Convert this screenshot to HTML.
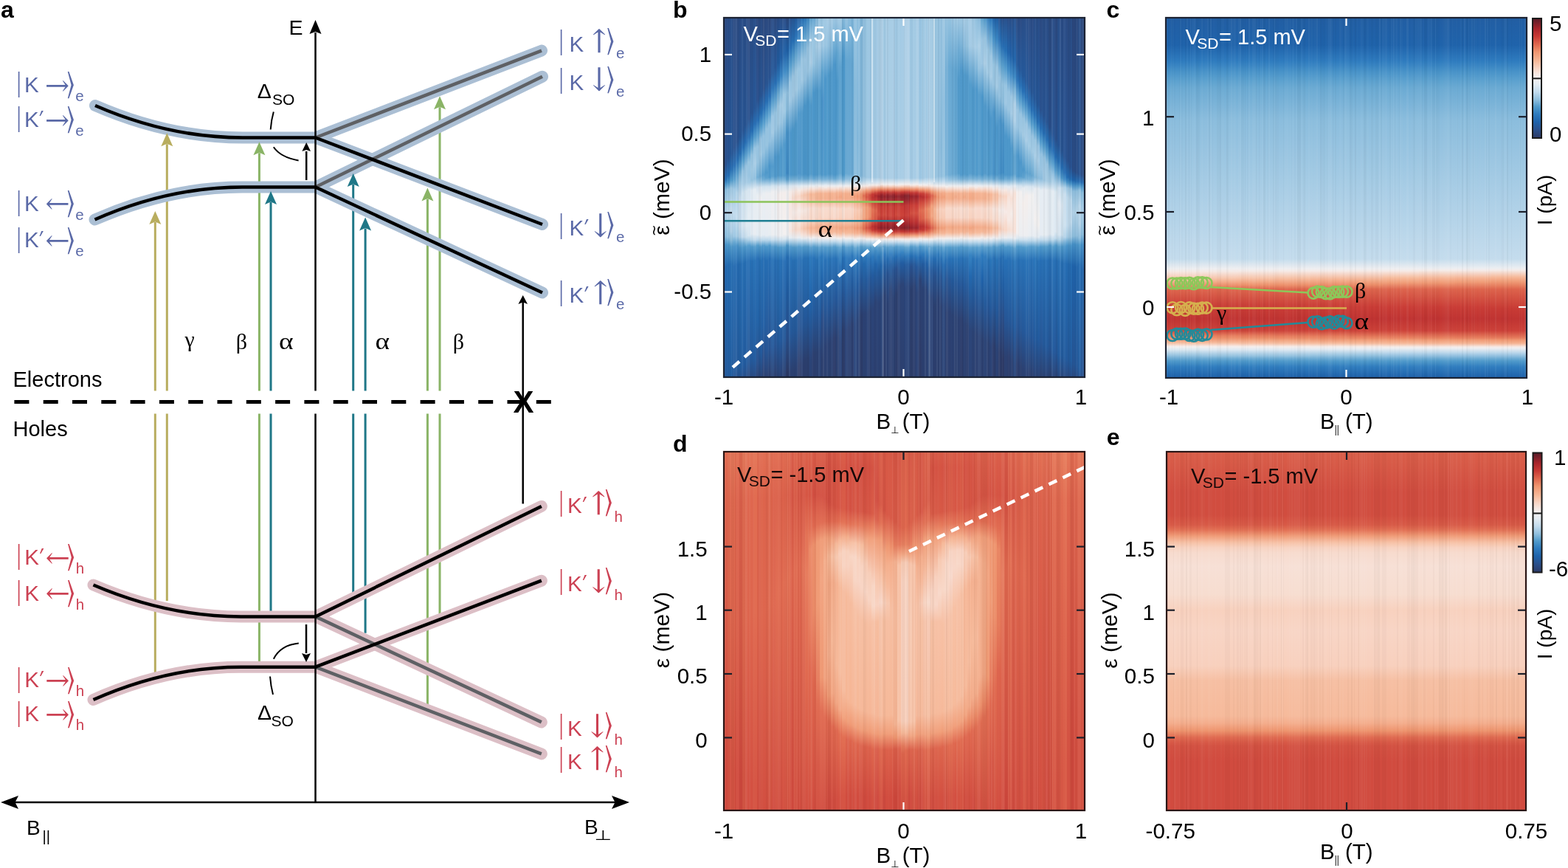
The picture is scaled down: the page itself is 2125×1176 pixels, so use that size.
<!DOCTYPE html><html><head><meta charset="utf-8"><title>Figure</title><style>html,body{margin:0;padding:0;background:#fff;overflow:hidden}svg{display:block}</style></head><body><svg width="2125" height="1176" viewBox="0 0 2125 1176"><defs><linearGradient id="b0" x1="0" y1="0" x2="0" y2="1"><stop offset="0.000" stop-color="#2b4a82"/><stop offset="0.407" stop-color="#2a508c"/><stop offset="0.450" stop-color="#266eb4"/><stop offset="0.466" stop-color="#529bcc"/><stop offset="0.480" stop-color="#8cbddd"/><stop offset="0.542" stop-color="#b2d2e8"/><stop offset="0.608" stop-color="#8abcdd"/><stop offset="0.632" stop-color="#4691c7"/><stop offset="0.694" stop-color="#2267af"/><stop offset="0.998" stop-color="#245a9c"/><stop offset="1.000" stop-color="#25599b"/></linearGradient><linearGradient id="b1" x1="0" y1="0" x2="0" y2="1"><stop offset="0.000" stop-color="#2a4d87"/><stop offset="0.392" stop-color="#285391"/><stop offset="0.439" stop-color="#276fb5"/><stop offset="0.458" stop-color="#4893c8"/><stop offset="0.478" stop-color="#95c2e0"/><stop offset="0.542" stop-color="#bcd8eb"/><stop offset="0.610" stop-color="#92c1df"/><stop offset="0.632" stop-color="#4b96c9"/><stop offset="0.688" stop-color="#256cb2"/><stop offset="0.994" stop-color="#235ca0"/><stop offset="1.000" stop-color="#245b9e"/></linearGradient><linearGradient id="b2" x1="0" y1="0" x2="0" y2="1"><stop offset="0.000" stop-color="#2a518d"/><stop offset="0.378" stop-color="#265797"/><stop offset="0.421" stop-color="#266eb4"/><stop offset="0.452" stop-color="#4f9acb"/><stop offset="0.474" stop-color="#9ec7e2"/><stop offset="0.532" stop-color="#c5ddee"/><stop offset="0.595" stop-color="#b0d1e8"/><stop offset="0.618" stop-color="#8abcdc"/><stop offset="0.637" stop-color="#4e98ca"/><stop offset="0.686" stop-color="#2871b6"/><stop offset="0.994" stop-color="#225ea3"/><stop offset="1.000" stop-color="#235ca0"/></linearGradient><linearGradient id="b3" x1="0" y1="0" x2="0" y2="1"><stop offset="0.000" stop-color="#2b4b84"/><stop offset="0.361" stop-color="#29528f"/><stop offset="0.411" stop-color="#266db3"/><stop offset="0.450" stop-color="#589fcd"/><stop offset="0.478" stop-color="#a0c8e3"/><stop offset="0.546" stop-color="#c1daed"/><stop offset="0.608" stop-color="#9cc6e2"/><stop offset="0.624" stop-color="#64a6d1"/><stop offset="0.637" stop-color="#4691c7"/><stop offset="0.692" stop-color="#236ab0"/><stop offset="0.982" stop-color="#245b9e"/><stop offset="1.000" stop-color="#275696"/></linearGradient><linearGradient id="b4" x1="0" y1="0" x2="0" y2="1"><stop offset="0.000" stop-color="#2b4b84"/><stop offset="0.345" stop-color="#29518e"/><stop offset="0.396" stop-color="#266eb4"/><stop offset="0.435" stop-color="#5aa0ce"/><stop offset="0.487" stop-color="#b2d2e8"/><stop offset="0.554" stop-color="#c5ddee"/><stop offset="0.608" stop-color="#a4cbe4"/><stop offset="0.622" stop-color="#73afd6"/><stop offset="0.634" stop-color="#4993c8"/><stop offset="0.688" stop-color="#236ab1"/><stop offset="0.975" stop-color="#245b9d"/><stop offset="1.000" stop-color="#285492"/></linearGradient><linearGradient id="b5" x1="0" y1="0" x2="0" y2="1"><stop offset="0.000" stop-color="#2a4e89"/><stop offset="0.331" stop-color="#275594"/><stop offset="0.378" stop-color="#276fb5"/><stop offset="0.413" stop-color="#579ecd"/><stop offset="0.441" stop-color="#8cbddd"/><stop offset="0.470" stop-color="#b0d1e8"/><stop offset="0.501" stop-color="#cbdfef"/><stop offset="0.583" stop-color="#cbdfef"/><stop offset="0.610" stop-color="#b4d3e9"/><stop offset="0.626" stop-color="#72aed5"/><stop offset="0.639" stop-color="#4b95c9"/><stop offset="0.686" stop-color="#266eb4"/><stop offset="0.971" stop-color="#225da1"/><stop offset="1.000" stop-color="#275594"/></linearGradient><linearGradient id="b6" x1="0" y1="0" x2="0" y2="1"><stop offset="0.000" stop-color="#2a4e88"/><stop offset="0.314" stop-color="#275493"/><stop offset="0.361" stop-color="#266eb4"/><stop offset="0.396" stop-color="#549ccc"/><stop offset="0.427" stop-color="#93c1df"/><stop offset="0.462" stop-color="#a9cde6"/><stop offset="0.487" stop-color="#cfe2ef"/><stop offset="0.579" stop-color="#d5e5f0"/><stop offset="0.610" stop-color="#c1daed"/><stop offset="0.628" stop-color="#6eabd4"/><stop offset="0.639" stop-color="#4c96c9"/><stop offset="0.684" stop-color="#266fb4"/><stop offset="0.965" stop-color="#235da1"/><stop offset="1.000" stop-color="#295290"/></linearGradient><linearGradient id="b7" x1="0" y1="0" x2="0" y2="1"><stop offset="0.000" stop-color="#2a4d87"/><stop offset="0.298" stop-color="#285492"/><stop offset="0.347" stop-color="#276fb5"/><stop offset="0.382" stop-color="#569dcd"/><stop offset="0.413" stop-color="#95c2e0"/><stop offset="0.458" stop-color="#a6cce5"/><stop offset="0.483" stop-color="#d5e5f0"/><stop offset="0.579" stop-color="#dee9f2"/><stop offset="0.610" stop-color="#c9dfee"/><stop offset="0.624" stop-color="#8dbedd"/><stop offset="0.637" stop-color="#4f99cb"/><stop offset="0.680" stop-color="#276fb5"/><stop offset="0.959" stop-color="#235ca0"/><stop offset="1.000" stop-color="#2a508c"/></linearGradient><linearGradient id="b8" x1="0" y1="0" x2="0" y2="1"><stop offset="0.000" stop-color="#2b4a82"/><stop offset="0.281" stop-color="#29518e"/><stop offset="0.333" stop-color="#266db3"/><stop offset="0.370" stop-color="#559dcd"/><stop offset="0.402" stop-color="#94c2df"/><stop offset="0.441" stop-color="#95c2e0"/><stop offset="0.458" stop-color="#a1c9e3"/><stop offset="0.478" stop-color="#d5e4f0"/><stop offset="0.550" stop-color="#e4ecf3"/><stop offset="0.606" stop-color="#d4e4f0"/><stop offset="0.618" stop-color="#aed0e7"/><stop offset="0.634" stop-color="#4f99cb"/><stop offset="0.676" stop-color="#266eb4"/><stop offset="0.957" stop-color="#255899"/><stop offset="1.000" stop-color="#2b4b83"/></linearGradient><linearGradient id="b9" x1="0" y1="0" x2="0" y2="1"><stop offset="0.000" stop-color="#2a4d86"/><stop offset="0.265" stop-color="#285492"/><stop offset="0.314" stop-color="#266eb4"/><stop offset="0.349" stop-color="#519bcb"/><stop offset="0.382" stop-color="#96c3e0"/><stop offset="0.421" stop-color="#a2cae4"/><stop offset="0.452" stop-color="#99c5e1"/><stop offset="0.480" stop-color="#e2ebf3"/><stop offset="0.602" stop-color="#e4ecf3"/><stop offset="0.618" stop-color="#bcd8eb"/><stop offset="0.637" stop-color="#529bcc"/><stop offset="0.678" stop-color="#2770b5"/><stop offset="0.949" stop-color="#245b9e"/><stop offset="1.000" stop-color="#2b4c84"/></linearGradient><linearGradient id="b10" x1="0" y1="0" x2="0" y2="1"><stop offset="0.000" stop-color="#2a4f8a"/><stop offset="0.251" stop-color="#265696"/><stop offset="0.296" stop-color="#276fb5"/><stop offset="0.331" stop-color="#529bcb"/><stop offset="0.363" stop-color="#98c4e1"/><stop offset="0.405" stop-color="#aacee6"/><stop offset="0.448" stop-color="#93c1df"/><stop offset="0.478" stop-color="#e6edf3"/><stop offset="0.602" stop-color="#e9edf2"/><stop offset="0.618" stop-color="#c5dced"/><stop offset="0.637" stop-color="#5ba0ce"/><stop offset="0.676" stop-color="#2a74b8"/><stop offset="0.947" stop-color="#235ca0"/><stop offset="1.000" stop-color="#2b4c85"/></linearGradient><linearGradient id="b11" x1="0" y1="0" x2="0" y2="1"><stop offset="0.000" stop-color="#2b4980"/><stop offset="0.230" stop-color="#2a508d"/><stop offset="0.285" stop-color="#266eb4"/><stop offset="0.324" stop-color="#599fce"/><stop offset="0.359" stop-color="#95c2e0"/><stop offset="0.402" stop-color="#96c3e0"/><stop offset="0.444" stop-color="#71aed5"/><stop offset="0.458" stop-color="#9bc5e1"/><stop offset="0.472" stop-color="#d5e4f0"/><stop offset="0.495" stop-color="#eaeef2"/><stop offset="0.604" stop-color="#e4ecf3"/><stop offset="0.618" stop-color="#bbd7eb"/><stop offset="0.634" stop-color="#519bcb"/><stop offset="0.671" stop-color="#276fb5"/><stop offset="0.842" stop-color="#2061a7"/><stop offset="0.957" stop-color="#29528f"/><stop offset="1.000" stop-color="#2c4578"/></linearGradient><linearGradient id="b12" x1="0" y1="0" x2="0" y2="1"><stop offset="0.000" stop-color="#2b4c84"/><stop offset="0.216" stop-color="#285492"/><stop offset="0.265" stop-color="#266eb4"/><stop offset="0.302" stop-color="#519bcb"/><stop offset="0.337" stop-color="#95c2e0"/><stop offset="0.380" stop-color="#a0c9e3"/><stop offset="0.441" stop-color="#6caad3"/><stop offset="0.454" stop-color="#8dbedd"/><stop offset="0.472" stop-color="#dbe7f1"/><stop offset="0.501" stop-color="#efeff1"/><stop offset="0.606" stop-color="#e6edf3"/><stop offset="0.620" stop-color="#b8d5ea"/><stop offset="0.637" stop-color="#529bcc"/><stop offset="0.676" stop-color="#2770b5"/><stop offset="0.932" stop-color="#245a9c"/><stop offset="1.000" stop-color="#2b467a"/></linearGradient><linearGradient id="b13" x1="0" y1="0" x2="0" y2="1"><stop offset="0.000" stop-color="#2b487d"/><stop offset="0.197" stop-color="#2a508c"/><stop offset="0.253" stop-color="#266db3"/><stop offset="0.292" stop-color="#539ccc"/><stop offset="0.329" stop-color="#91c0df"/><stop offset="0.374" stop-color="#91c0df"/><stop offset="0.437" stop-color="#509acb"/><stop offset="0.450" stop-color="#68a8d2"/><stop offset="0.470" stop-color="#cfe2ef"/><stop offset="0.489" stop-color="#eaeef2"/><stop offset="0.604" stop-color="#e5ecf3"/><stop offset="0.618" stop-color="#bcd8eb"/><stop offset="0.634" stop-color="#4f99cb"/><stop offset="0.671" stop-color="#266eb3"/><stop offset="0.854" stop-color="#225fa4"/><stop offset="0.957" stop-color="#2b4c86"/><stop offset="1.000" stop-color="#2c4171"/></linearGradient><linearGradient id="b14" x1="0" y1="0" x2="0" y2="1"><stop offset="0.000" stop-color="#2b4980"/><stop offset="0.183" stop-color="#285390"/><stop offset="0.234" stop-color="#266eb4"/><stop offset="0.273" stop-color="#549ccc"/><stop offset="0.310" stop-color="#94c2df"/><stop offset="0.355" stop-color="#97c4e0"/><stop offset="0.431" stop-color="#4e98ca"/><stop offset="0.446" stop-color="#5ba0ce"/><stop offset="0.470" stop-color="#d3e4f0"/><stop offset="0.489" stop-color="#edeef1"/><stop offset="0.606" stop-color="#e6ecf3"/><stop offset="0.620" stop-color="#b5d4e9"/><stop offset="0.637" stop-color="#4d98ca"/><stop offset="0.676" stop-color="#256db3"/><stop offset="0.924" stop-color="#265696"/><stop offset="1.000" stop-color="#2c4173"/></linearGradient><linearGradient id="b15" x1="0" y1="0" x2="0" y2="1"><stop offset="0.000" stop-color="#2b487e"/><stop offset="0.166" stop-color="#29528f"/><stop offset="0.218" stop-color="#266db3"/><stop offset="0.259" stop-color="#549ccc"/><stop offset="0.298" stop-color="#92c1df"/><stop offset="0.343" stop-color="#92c0df"/><stop offset="0.413" stop-color="#4a95c9"/><stop offset="0.444" stop-color="#4e98ca"/><stop offset="0.456" stop-color="#86b9db"/><stop offset="0.470" stop-color="#d2e3f0"/><stop offset="0.489" stop-color="#eceef1"/><stop offset="0.604" stop-color="#e7edf2"/><stop offset="0.618" stop-color="#bfd9ec"/><stop offset="0.634" stop-color="#509acb"/><stop offset="0.671" stop-color="#266eb4"/><stop offset="0.920" stop-color="#275493"/><stop offset="1.000" stop-color="#2c3f6f"/></linearGradient><linearGradient id="b16" x1="0" y1="0" x2="0" y2="1"><stop offset="0.000" stop-color="#2a4c86"/><stop offset="0.154" stop-color="#255899"/><stop offset="0.197" stop-color="#2871b6"/><stop offset="0.238" stop-color="#5aa0ce"/><stop offset="0.275" stop-color="#99c4e1"/><stop offset="0.320" stop-color="#a1c9e3"/><stop offset="0.413" stop-color="#4d97ca"/><stop offset="0.441" stop-color="#559dcc"/><stop offset="0.454" stop-color="#87badc"/><stop offset="0.468" stop-color="#d3e4f0"/><stop offset="0.485" stop-color="#efeff1"/><stop offset="0.604" stop-color="#eceef1"/><stop offset="0.618" stop-color="#c8deee"/><stop offset="0.637" stop-color="#569dcd"/><stop offset="0.674" stop-color="#2972b7"/><stop offset="0.912" stop-color="#25599b"/><stop offset="1.000" stop-color="#2c4375"/></linearGradient><linearGradient id="b17" x1="0" y1="0" x2="0" y2="1"><stop offset="0.000" stop-color="#2b4a81"/><stop offset="0.138" stop-color="#265697"/><stop offset="0.183" stop-color="#2770b6"/><stop offset="0.226" stop-color="#5ba0ce"/><stop offset="0.265" stop-color="#96c3e0"/><stop offset="0.310" stop-color="#97c3e0"/><stop offset="0.388" stop-color="#4b95c9"/><stop offset="0.441" stop-color="#4d97ca"/><stop offset="0.452" stop-color="#71add5"/><stop offset="0.468" stop-color="#cfe2ef"/><stop offset="0.483" stop-color="#eceef1"/><stop offset="0.604" stop-color="#eaeef2"/><stop offset="0.618" stop-color="#c4dced"/><stop offset="0.637" stop-color="#4e98ca"/><stop offset="0.676" stop-color="#256db3"/><stop offset="0.908" stop-color="#275696"/><stop offset="1.000" stop-color="#2c3f6f"/></linearGradient><linearGradient id="b18" x1="0" y1="0" x2="0" y2="1"><stop offset="0.000" stop-color="#2a4e89"/><stop offset="0.125" stop-color="#225da1"/><stop offset="0.172" stop-color="#307dbf"/><stop offset="0.211" stop-color="#6eacd4"/><stop offset="0.246" stop-color="#9fc8e3"/><stop offset="0.294" stop-color="#a2cae4"/><stop offset="0.386" stop-color="#4f99cb"/><stop offset="0.439" stop-color="#549ccc"/><stop offset="0.452" stop-color="#80b6d9"/><stop offset="0.470" stop-color="#dfe9f2"/><stop offset="0.493" stop-color="#f4edec"/><stop offset="0.606" stop-color="#edeef1"/><stop offset="0.618" stop-color="#cce0ef"/><stop offset="0.639" stop-color="#539ccc"/><stop offset="0.676" stop-color="#2972b7"/><stop offset="0.899" stop-color="#245b9d"/><stop offset="1.000" stop-color="#2c4376"/></linearGradient><linearGradient id="b19" x1="0" y1="0" x2="0" y2="1"><stop offset="0.000" stop-color="#2a4f89"/><stop offset="0.111" stop-color="#225fa4"/><stop offset="0.162" stop-color="#3985c3"/><stop offset="0.201" stop-color="#7ab3d8"/><stop offset="0.242" stop-color="#a5cbe4"/><stop offset="0.292" stop-color="#98c4e1"/><stop offset="0.368" stop-color="#4f99cb"/><stop offset="0.439" stop-color="#529bcc"/><stop offset="0.452" stop-color="#7fb6d9"/><stop offset="0.468" stop-color="#d8e6f1"/><stop offset="0.487" stop-color="#f4eeed"/><stop offset="0.606" stop-color="#eeeff1"/><stop offset="0.618" stop-color="#cde0ef"/><stop offset="0.639" stop-color="#529bcc"/><stop offset="0.676" stop-color="#2972b7"/><stop offset="0.893" stop-color="#245a9d"/><stop offset="1.000" stop-color="#2c4275"/></linearGradient><linearGradient id="b20" x1="0" y1="0" x2="0" y2="1"><stop offset="0.000" stop-color="#2a4e89"/><stop offset="0.101" stop-color="#2062a9"/><stop offset="0.150" stop-color="#3e8ac5"/><stop offset="0.214" stop-color="#9bc6e1"/><stop offset="0.261" stop-color="#a0c9e3"/><stop offset="0.353" stop-color="#4d97ca"/><stop offset="0.439" stop-color="#509acb"/><stop offset="0.452" stop-color="#7db4d8"/><stop offset="0.468" stop-color="#d8e6f1"/><stop offset="0.487" stop-color="#f4edeb"/><stop offset="0.602" stop-color="#f3f0f0"/><stop offset="0.616" stop-color="#d5e5f0"/><stop offset="0.639" stop-color="#509acb"/><stop offset="0.678" stop-color="#276fb5"/><stop offset="0.889" stop-color="#25599a"/><stop offset="0.998" stop-color="#2c4172"/><stop offset="1.000" stop-color="#2c4172"/></linearGradient><linearGradient id="b21" x1="0" y1="0" x2="0" y2="1"><stop offset="0.000" stop-color="#2b4980"/><stop offset="0.092" stop-color="#2061a7"/><stop offset="0.144" stop-color="#418cc5"/><stop offset="0.209" stop-color="#91c0df"/><stop offset="0.255" stop-color="#89bcdc"/><stop offset="0.318" stop-color="#4893c8"/><stop offset="0.433" stop-color="#408bc5"/><stop offset="0.450" stop-color="#5ca1cf"/><stop offset="0.468" stop-color="#cfe1ef"/><stop offset="0.483" stop-color="#f0eff1"/><stop offset="0.604" stop-color="#edeef1"/><stop offset="0.616" stop-color="#cce0ef"/><stop offset="0.634" stop-color="#4e98ca"/><stop offset="0.667" stop-color="#276fb5"/><stop offset="0.762" stop-color="#225ea3"/><stop offset="0.889" stop-color="#29518e"/><stop offset="0.990" stop-color="#2d3b67"/><stop offset="1.000" stop-color="#2d3a66"/></linearGradient><linearGradient id="b22" x1="0" y1="0" x2="0" y2="1"><stop offset="0.000" stop-color="#29518e"/><stop offset="0.084" stop-color="#276fb4"/><stop offset="0.133" stop-color="#559dcc"/><stop offset="0.181" stop-color="#98c4e1"/><stop offset="0.230" stop-color="#9ec7e3"/><stop offset="0.320" stop-color="#4c96ca"/><stop offset="0.437" stop-color="#4c97ca"/><stop offset="0.450" stop-color="#6facd4"/><stop offset="0.468" stop-color="#dae7f1"/><stop offset="0.485" stop-color="#f5ebe8"/><stop offset="0.507" stop-color="#f6e7e1"/><stop offset="0.567" stop-color="#f6eae7"/><stop offset="0.593" stop-color="#f6e7e1"/><stop offset="0.612" stop-color="#e6edf3"/><stop offset="0.624" stop-color="#a7cce5"/><stop offset="0.637" stop-color="#559dcd"/><stop offset="0.671" stop-color="#2972b7"/><stop offset="0.875" stop-color="#25599a"/><stop offset="0.986" stop-color="#2c4071"/><stop offset="1.000" stop-color="#2c4070"/></linearGradient><linearGradient id="b23" x1="0" y1="0" x2="0" y2="1"><stop offset="0.000" stop-color="#275695"/><stop offset="0.064" stop-color="#2770b5"/><stop offset="0.115" stop-color="#599fce"/><stop offset="0.164" stop-color="#9bc5e1"/><stop offset="0.216" stop-color="#a2c9e4"/><stop offset="0.310" stop-color="#4d98ca"/><stop offset="0.437" stop-color="#4f99cb"/><stop offset="0.450" stop-color="#75b0d6"/><stop offset="0.468" stop-color="#dfe9f2"/><stop offset="0.483" stop-color="#f6e9e5"/><stop offset="0.501" stop-color="#f7ddd2"/><stop offset="0.542" stop-color="#f5ece9"/><stop offset="0.591" stop-color="#f7dfd4"/><stop offset="0.612" stop-color="#e9edf2"/><stop offset="0.624" stop-color="#accfe6"/><stop offset="0.639" stop-color="#529bcc"/><stop offset="0.676" stop-color="#2871b6"/><stop offset="0.873" stop-color="#25599a"/><stop offset="0.979" stop-color="#2c4273"/><stop offset="1.000" stop-color="#2c4172"/></linearGradient><linearGradient id="b24" x1="0" y1="0" x2="0" y2="1"><stop offset="0.000" stop-color="#245b9e"/><stop offset="0.051" stop-color="#2b75ba"/><stop offset="0.103" stop-color="#64a6d1"/><stop offset="0.150" stop-color="#9dc7e2"/><stop offset="0.201" stop-color="#a3cae4"/><stop offset="0.296" stop-color="#4e98ca"/><stop offset="0.437" stop-color="#509acb"/><stop offset="0.450" stop-color="#77b1d7"/><stop offset="0.468" stop-color="#e2ebf3"/><stop offset="0.483" stop-color="#f7e4dc"/><stop offset="0.499" stop-color="#f8d7c7"/><stop offset="0.542" stop-color="#f6eae6"/><stop offset="0.589" stop-color="#f8d7c8"/><stop offset="0.612" stop-color="#eceef1"/><stop offset="0.624" stop-color="#afd0e7"/><stop offset="0.639" stop-color="#549ccc"/><stop offset="0.674" stop-color="#2973b8"/><stop offset="0.869" stop-color="#25599a"/><stop offset="0.975" stop-color="#2c4274"/><stop offset="1.000" stop-color="#2c4172"/></linearGradient><linearGradient id="b25" x1="0" y1="0" x2="0" y2="1"><stop offset="0.000" stop-color="#225ea2"/><stop offset="0.057" stop-color="#3985c3"/><stop offset="0.142" stop-color="#95c3e0"/><stop offset="0.195" stop-color="#93c1df"/><stop offset="0.267" stop-color="#4a95c9"/><stop offset="0.433" stop-color="#4590c7"/><stop offset="0.448" stop-color="#5ea2cf"/><stop offset="0.468" stop-color="#dde9f2"/><stop offset="0.480" stop-color="#f6eae5"/><stop offset="0.497" stop-color="#f8d6c6"/><stop offset="0.536" stop-color="#f5ece9"/><stop offset="0.567" stop-color="#f7e3db"/><stop offset="0.589" stop-color="#f8d7c7"/><stop offset="0.612" stop-color="#e9edf2"/><stop offset="0.622" stop-color="#b5d4e9"/><stop offset="0.637" stop-color="#4f99cb"/><stop offset="0.671" stop-color="#276fb5"/><stop offset="0.867" stop-color="#285391"/><stop offset="0.967" stop-color="#2d3d6c"/><stop offset="1.000" stop-color="#2d3c6a"/></linearGradient><linearGradient id="b26" x1="0" y1="0" x2="0" y2="1"><stop offset="0.000" stop-color="#246cb2"/><stop offset="0.057" stop-color="#519acb"/><stop offset="0.115" stop-color="#97c3e0"/><stop offset="0.172" stop-color="#9fc8e3"/><stop offset="0.265" stop-color="#4c96c9"/><stop offset="0.437" stop-color="#4d97ca"/><stop offset="0.450" stop-color="#74afd6"/><stop offset="0.468" stop-color="#e4ecf3"/><stop offset="0.478" stop-color="#f6e7e1"/><stop offset="0.495" stop-color="#f7cbb5"/><stop offset="0.538" stop-color="#f6e8e3"/><stop offset="0.567" stop-color="#f7dccf"/><stop offset="0.587" stop-color="#f7cbb4"/><stop offset="0.604" stop-color="#f7e4dc"/><stop offset="0.614" stop-color="#e8edf2"/><stop offset="0.626" stop-color="#9fc8e3"/><stop offset="0.639" stop-color="#509acb"/><stop offset="0.674" stop-color="#2871b6"/><stop offset="0.856" stop-color="#265797"/><stop offset="0.963" stop-color="#2c4071"/><stop offset="1.000" stop-color="#2c3f6f"/></linearGradient><linearGradient id="b27" x1="0" y1="0" x2="0" y2="1"><stop offset="0.000" stop-color="#2c78bb"/><stop offset="0.062" stop-color="#6eacd4"/><stop offset="0.117" stop-color="#9cc6e2"/><stop offset="0.172" stop-color="#93c1df"/><stop offset="0.244" stop-color="#4b96c9"/><stop offset="0.435" stop-color="#4994c8"/><stop offset="0.448" stop-color="#65a6d1"/><stop offset="0.468" stop-color="#e5ecf3"/><stop offset="0.478" stop-color="#f6e5de"/><stop offset="0.493" stop-color="#f7c8b0"/><stop offset="0.509" stop-color="#f8d2bf"/><stop offset="0.536" stop-color="#f6e8e2"/><stop offset="0.565" stop-color="#f7dcd0"/><stop offset="0.587" stop-color="#f7c6ad"/><stop offset="0.604" stop-color="#f7e2d9"/><stop offset="0.614" stop-color="#e9edf2"/><stop offset="0.626" stop-color="#9dc7e2"/><stop offset="0.637" stop-color="#559dcc"/><stop offset="0.669" stop-color="#2972b7"/><stop offset="0.834" stop-color="#245a9c"/><stop offset="0.953" stop-color="#2c3f6f"/><stop offset="1.000" stop-color="#2c3e6d"/></linearGradient><linearGradient id="b28" x1="0" y1="0" x2="0" y2="1"><stop offset="0.000" stop-color="#3e89c4"/><stop offset="0.086" stop-color="#97c3e0"/><stop offset="0.148" stop-color="#9bc6e2"/><stop offset="0.234" stop-color="#4b96c9"/><stop offset="0.437" stop-color="#4c96c9"/><stop offset="0.448" stop-color="#67a8d2"/><stop offset="0.468" stop-color="#e6edf3"/><stop offset="0.476" stop-color="#f6e8e2"/><stop offset="0.491" stop-color="#f7c4aa"/><stop offset="0.505" stop-color="#f7c6ae"/><stop offset="0.532" stop-color="#f7e4dd"/><stop offset="0.561" stop-color="#f7ddd2"/><stop offset="0.585" stop-color="#f6bfa3"/><stop offset="0.600" stop-color="#f8d3c1"/><stop offset="0.612" stop-color="#f0eff1"/><stop offset="0.622" stop-color="#c1daed"/><stop offset="0.637" stop-color="#579ecd"/><stop offset="0.669" stop-color="#2973b8"/><stop offset="0.830" stop-color="#245a9c"/><stop offset="0.947" stop-color="#2c4070"/><stop offset="1.000" stop-color="#2c3e6d"/></linearGradient><linearGradient id="b29" x1="0" y1="0" x2="0" y2="1"><stop offset="0.000" stop-color="#61a4d0"/><stop offset="0.055" stop-color="#9cc6e2"/><stop offset="0.125" stop-color="#accfe6"/><stop offset="0.187" stop-color="#78b2d7"/><stop offset="0.244" stop-color="#509acb"/><stop offset="0.435" stop-color="#569ecd"/><stop offset="0.448" stop-color="#7ab2d8"/><stop offset="0.468" stop-color="#eceef1"/><stop offset="0.476" stop-color="#f7dfd4"/><stop offset="0.491" stop-color="#f6b797"/><stop offset="0.505" stop-color="#f6ba9b"/><stop offset="0.530" stop-color="#f7dbce"/><stop offset="0.559" stop-color="#f8d7c7"/><stop offset="0.585" stop-color="#f5b392"/><stop offset="0.598" stop-color="#f7c2a7"/><stop offset="0.614" stop-color="#f1eff0"/><stop offset="0.624" stop-color="#bed9ec"/><stop offset="0.639" stop-color="#60a3d0"/><stop offset="0.667" stop-color="#2f7bbe"/><stop offset="0.786" stop-color="#2165ad"/><stop offset="0.951" stop-color="#2c4478"/><stop offset="1.000" stop-color="#2c4376"/></linearGradient><linearGradient id="b30" x1="0" y1="0" x2="0" y2="1"><stop offset="0.000" stop-color="#6aa9d3"/><stop offset="0.064" stop-color="#9cc6e2"/><stop offset="0.127" stop-color="#97c4e0"/><stop offset="0.209" stop-color="#4b96c9"/><stop offset="0.437" stop-color="#4c96c9"/><stop offset="0.448" stop-color="#68a8d2"/><stop offset="0.468" stop-color="#e8edf2"/><stop offset="0.476" stop-color="#f7e3db"/><stop offset="0.491" stop-color="#f6bb9c"/><stop offset="0.505" stop-color="#f6bea1"/><stop offset="0.530" stop-color="#f7e0d7"/><stop offset="0.559" stop-color="#f7dccf"/><stop offset="0.585" stop-color="#f6b696"/><stop offset="0.598" stop-color="#f7c6ad"/><stop offset="0.612" stop-color="#f3f0f0"/><stop offset="0.622" stop-color="#c3dced"/><stop offset="0.637" stop-color="#589fcd"/><stop offset="0.669" stop-color="#2973b8"/><stop offset="0.817" stop-color="#245a9c"/><stop offset="0.934" stop-color="#2c4070"/><stop offset="1.000" stop-color="#2c3e6d"/></linearGradient><linearGradient id="b31" x1="0" y1="0" x2="0" y2="1"><stop offset="0.000" stop-color="#87badc"/><stop offset="0.080" stop-color="#a7cce5"/><stop offset="0.140" stop-color="#88bbdc"/><stop offset="0.203" stop-color="#4d97ca"/><stop offset="0.437" stop-color="#509acb"/><stop offset="0.450" stop-color="#7bb3d8"/><stop offset="0.466" stop-color="#e4ecf3"/><stop offset="0.474" stop-color="#f6e7e1"/><stop offset="0.489" stop-color="#f6b898"/><stop offset="0.503" stop-color="#f5b594"/><stop offset="0.530" stop-color="#f7ddd0"/><stop offset="0.556" stop-color="#f8dacc"/><stop offset="0.583" stop-color="#f4b18f"/><stop offset="0.595" stop-color="#f6bb9c"/><stop offset="0.612" stop-color="#f4eeed"/><stop offset="0.622" stop-color="#c8deee"/><stop offset="0.639" stop-color="#569ecd"/><stop offset="0.674" stop-color="#2973b7"/><stop offset="0.828" stop-color="#265899"/><stop offset="0.932" stop-color="#2c4273"/><stop offset="1.000" stop-color="#2c4071"/></linearGradient><linearGradient id="b32" x1="0" y1="0" x2="0" y2="1"><stop offset="0.000" stop-color="#9bc6e2"/><stop offset="0.080" stop-color="#abcee6"/><stop offset="0.144" stop-color="#7db4d9"/><stop offset="0.203" stop-color="#4f99cb"/><stop offset="0.435" stop-color="#559dcc"/><stop offset="0.448" stop-color="#79b2d7"/><stop offset="0.468" stop-color="#eeeff1"/><stop offset="0.476" stop-color="#f8dacd"/><stop offset="0.489" stop-color="#f5b291"/><stop offset="0.503" stop-color="#f4af8d"/><stop offset="0.532" stop-color="#f8d9cb"/><stop offset="0.559" stop-color="#f8d3c1"/><stop offset="0.583" stop-color="#f3aa88"/><stop offset="0.598" stop-color="#f6ba9b"/><stop offset="0.614" stop-color="#f2f0f0"/><stop offset="0.624" stop-color="#c0daec"/><stop offset="0.639" stop-color="#5fa3d0"/><stop offset="0.667" stop-color="#2e7bbe"/><stop offset="0.821" stop-color="#245a9d"/><stop offset="0.928" stop-color="#2c4477"/><stop offset="1.000" stop-color="#2c4375"/></linearGradient><linearGradient id="b33" x1="0" y1="0" x2="0" y2="1"><stop offset="0.000" stop-color="#9ac5e1"/><stop offset="0.078" stop-color="#9cc6e2"/><stop offset="0.152" stop-color="#59a0ce"/><stop offset="0.232" stop-color="#4590c7"/><stop offset="0.437" stop-color="#4d97ca"/><stop offset="0.450" stop-color="#77b1d7"/><stop offset="0.468" stop-color="#ebeef2"/><stop offset="0.476" stop-color="#f7dfd4"/><stop offset="0.489" stop-color="#f6b696"/><stop offset="0.503" stop-color="#f5b392"/><stop offset="0.530" stop-color="#f7ddd1"/><stop offset="0.556" stop-color="#f8dacc"/><stop offset="0.583" stop-color="#f4af8d"/><stop offset="0.595" stop-color="#f6b99a"/><stop offset="0.612" stop-color="#f4eeed"/><stop offset="0.622" stop-color="#c6ddee"/><stop offset="0.637" stop-color="#5ba1ce"/><stop offset="0.663" stop-color="#2d7abd"/><stop offset="0.733" stop-color="#1f64ac"/><stop offset="0.844" stop-color="#2a4d87"/><stop offset="0.953" stop-color="#2c3f6f"/><stop offset="1.000" stop-color="#2c3f6e"/></linearGradient><linearGradient id="b34" x1="0" y1="0" x2="0" y2="1"><stop offset="0.000" stop-color="#a3cae4"/><stop offset="0.076" stop-color="#9ac5e1"/><stop offset="0.170" stop-color="#4c97ca"/><stop offset="0.437" stop-color="#4f9acb"/><stop offset="0.450" stop-color="#7cb4d8"/><stop offset="0.466" stop-color="#e5ecf3"/><stop offset="0.472" stop-color="#f5ece9"/><stop offset="0.489" stop-color="#f5b392"/><stop offset="0.503" stop-color="#f4b08f"/><stop offset="0.530" stop-color="#f8dbce"/><stop offset="0.556" stop-color="#f8d8c9"/><stop offset="0.583" stop-color="#f3ab89"/><stop offset="0.595" stop-color="#f6b696"/><stop offset="0.614" stop-color="#f1eff0"/><stop offset="0.624" stop-color="#bad6eb"/><stop offset="0.639" stop-color="#569ecd"/><stop offset="0.674" stop-color="#2972b7"/><stop offset="0.809" stop-color="#265898"/><stop offset="0.914" stop-color="#2c4173"/><stop offset="1.000" stop-color="#2c4070"/></linearGradient><linearGradient id="b35" x1="0" y1="0" x2="0" y2="1"><stop offset="0.000" stop-color="#a7cce5"/><stop offset="0.078" stop-color="#91c0df"/><stop offset="0.160" stop-color="#4d98ca"/><stop offset="0.435" stop-color="#4f99cb"/><stop offset="0.448" stop-color="#73aed5"/><stop offset="0.468" stop-color="#edeef1"/><stop offset="0.476" stop-color="#f8dbce"/><stop offset="0.489" stop-color="#f5b190"/><stop offset="0.503" stop-color="#f4ae8d"/><stop offset="0.530" stop-color="#f8dacc"/><stop offset="0.556" stop-color="#f8d7c7"/><stop offset="0.583" stop-color="#f3a987"/><stop offset="0.598" stop-color="#f6ba9a"/><stop offset="0.614" stop-color="#f1f0f0"/><stop offset="0.624" stop-color="#bbd7eb"/><stop offset="0.639" stop-color="#589fcd"/><stop offset="0.671" stop-color="#2a75b9"/><stop offset="0.801" stop-color="#25599b"/><stop offset="0.908" stop-color="#2c4274"/><stop offset="1.000" stop-color="#2c4171"/></linearGradient><linearGradient id="b36" x1="0" y1="0" x2="0" y2="1"><stop offset="0.000" stop-color="#a7cce5"/><stop offset="0.078" stop-color="#84b9db"/><stop offset="0.152" stop-color="#4d97ca"/><stop offset="0.435" stop-color="#4f99cb"/><stop offset="0.448" stop-color="#73aed5"/><stop offset="0.468" stop-color="#edeef1"/><stop offset="0.474" stop-color="#f7e3db"/><stop offset="0.489" stop-color="#f5b18f"/><stop offset="0.503" stop-color="#f4ae8c"/><stop offset="0.530" stop-color="#f8dacc"/><stop offset="0.556" stop-color="#f8d6c7"/><stop offset="0.583" stop-color="#f3a986"/><stop offset="0.598" stop-color="#f6b99a"/><stop offset="0.614" stop-color="#f1f0f0"/><stop offset="0.624" stop-color="#bbd7eb"/><stop offset="0.639" stop-color="#589fcd"/><stop offset="0.671" stop-color="#2a74b9"/><stop offset="0.795" stop-color="#25599a"/><stop offset="0.901" stop-color="#2c4274"/><stop offset="1.000" stop-color="#2c4171"/></linearGradient><linearGradient id="b37" x1="0" y1="0" x2="0" y2="1"><stop offset="0.000" stop-color="#9cc6e2"/><stop offset="0.070" stop-color="#73afd6"/><stop offset="0.131" stop-color="#4994c9"/><stop offset="0.437" stop-color="#4b96c9"/><stop offset="0.448" stop-color="#68a8d2"/><stop offset="0.468" stop-color="#eaeef2"/><stop offset="0.476" stop-color="#f7dfd4"/><stop offset="0.489" stop-color="#f5b595"/><stop offset="0.503" stop-color="#f5b292"/><stop offset="0.530" stop-color="#f7ded3"/><stop offset="0.556" stop-color="#f8dbce"/><stop offset="0.583" stop-color="#f4ae8c"/><stop offset="0.595" stop-color="#f6b899"/><stop offset="0.612" stop-color="#f4efee"/><stop offset="0.622" stop-color="#c4dced"/><stop offset="0.637" stop-color="#559dcd"/><stop offset="0.669" stop-color="#2872b7"/><stop offset="0.776" stop-color="#25599b"/><stop offset="0.891" stop-color="#2c3e6e"/><stop offset="1.000" stop-color="#2d3d6b"/></linearGradient><linearGradient id="b38" x1="0" y1="0" x2="0" y2="1"><stop offset="0.000" stop-color="#a0c8e3"/><stop offset="0.099" stop-color="#5ea2cf"/><stop offset="0.177" stop-color="#4b96c9"/><stop offset="0.435" stop-color="#529bcc"/><stop offset="0.448" stop-color="#75b0d6"/><stop offset="0.468" stop-color="#edeff1"/><stop offset="0.474" stop-color="#f7e2da"/><stop offset="0.487" stop-color="#f5b594"/><stop offset="0.501" stop-color="#f3aa88"/><stop offset="0.532" stop-color="#f8dacd"/><stop offset="0.556" stop-color="#f8d6c6"/><stop offset="0.583" stop-color="#f3a885"/><stop offset="0.598" stop-color="#f6b898"/><stop offset="0.614" stop-color="#f2f0f0"/><stop offset="0.624" stop-color="#bcd8eb"/><stop offset="0.639" stop-color="#589fcd"/><stop offset="0.671" stop-color="#2a74b9"/><stop offset="0.782" stop-color="#25599b"/><stop offset="0.889" stop-color="#2c4274"/><stop offset="1.000" stop-color="#2c4171"/></linearGradient><linearGradient id="b39" x1="0" y1="0" x2="0" y2="1"><stop offset="0.000" stop-color="#a3cae4"/><stop offset="0.136" stop-color="#599fce"/><stop offset="0.433" stop-color="#5fa3cf"/><stop offset="0.448" stop-color="#84b8db"/><stop offset="0.468" stop-color="#f1eff0"/><stop offset="0.487" stop-color="#f4af8e"/><stop offset="0.499" stop-color="#f2a37f"/><stop offset="0.532" stop-color="#f8d6c5"/><stop offset="0.556" stop-color="#f8d1be"/><stop offset="0.585" stop-color="#f1a17d"/><stop offset="0.600" stop-color="#f6b99a"/><stop offset="0.614" stop-color="#f4efee"/><stop offset="0.624" stop-color="#c4dced"/><stop offset="0.639" stop-color="#64a6d1"/><stop offset="0.657" stop-color="#3e8ac5"/><stop offset="0.692" stop-color="#276fb5"/><stop offset="0.799" stop-color="#275595"/><stop offset="0.903" stop-color="#2c4579"/><stop offset="1.000" stop-color="#2c4478"/></linearGradient><linearGradient id="b40" x1="0" y1="0" x2="0" y2="1"><stop offset="0.000" stop-color="#85b9db"/><stop offset="0.107" stop-color="#4b96c9"/><stop offset="0.437" stop-color="#4e99ca"/><stop offset="0.450" stop-color="#76b1d7"/><stop offset="0.468" stop-color="#e9edf2"/><stop offset="0.476" stop-color="#f7e0d5"/><stop offset="0.489" stop-color="#f6b696"/><stop offset="0.503" stop-color="#f5b392"/><stop offset="0.530" stop-color="#f7dfd4"/><stop offset="0.556" stop-color="#f7dccf"/><stop offset="0.583" stop-color="#f4ae8c"/><stop offset="0.595" stop-color="#f6b999"/><stop offset="0.612" stop-color="#f3efef"/><stop offset="0.622" stop-color="#c2dbed"/><stop offset="0.637" stop-color="#529bcc"/><stop offset="0.669" stop-color="#2770b6"/><stop offset="0.764" stop-color="#265797"/><stop offset="0.871" stop-color="#2c3e6c"/><stop offset="1.000" stop-color="#2d3c69"/></linearGradient><linearGradient id="b41" x1="0" y1="0" x2="0" y2="1"><stop offset="0.000" stop-color="#93c1df"/><stop offset="0.119" stop-color="#5fa3d0"/><stop offset="0.433" stop-color="#64a6d1"/><stop offset="0.448" stop-color="#87badb"/><stop offset="0.468" stop-color="#f0eff1"/><stop offset="0.478" stop-color="#f7ceb9"/><stop offset="0.489" stop-color="#f3ac89"/><stop offset="0.503" stop-color="#f3a986"/><stop offset="0.532" stop-color="#f8d7c8"/><stop offset="0.556" stop-color="#f8d2c0"/><stop offset="0.585" stop-color="#f2a37f"/><stop offset="0.600" stop-color="#f6bb9c"/><stop offset="0.614" stop-color="#f3efef"/><stop offset="0.624" stop-color="#c1dbed"/><stop offset="0.639" stop-color="#60a3d0"/><stop offset="0.667" stop-color="#2e7abe"/><stop offset="0.766" stop-color="#245b9e"/><stop offset="0.871" stop-color="#2c4478"/><stop offset="1.000" stop-color="#2c4375"/></linearGradient><linearGradient id="b42" x1="0" y1="0" x2="0" y2="1"><stop offset="0.000" stop-color="#87badc"/><stop offset="0.119" stop-color="#5fa3d0"/><stop offset="0.435" stop-color="#66a7d2"/><stop offset="0.450" stop-color="#8fbfde"/><stop offset="0.468" stop-color="#efeff1"/><stop offset="0.476" stop-color="#f8d9ca"/><stop offset="0.489" stop-color="#f4ae8c"/><stop offset="0.503" stop-color="#f3ab88"/><stop offset="0.530" stop-color="#f8d8c9"/><stop offset="0.556" stop-color="#f8d4c3"/><stop offset="0.583" stop-color="#f2a682"/><stop offset="0.598" stop-color="#f6b796"/><stop offset="0.614" stop-color="#f2f0f0"/><stop offset="0.624" stop-color="#bcd8eb"/><stop offset="0.639" stop-color="#599fce"/><stop offset="0.671" stop-color="#2a74b9"/><stop offset="0.760" stop-color="#25599b"/><stop offset="0.864" stop-color="#2c4274"/><stop offset="1.000" stop-color="#2c4171"/></linearGradient><linearGradient id="b43" x1="0" y1="0" x2="0" y2="1"><stop offset="0.000" stop-color="#7db4d9"/><stop offset="0.129" stop-color="#61a4d0"/><stop offset="0.435" stop-color="#67a7d2"/><stop offset="0.450" stop-color="#8dbedd"/><stop offset="0.468" stop-color="#edeef1"/><stop offset="0.474" stop-color="#f7e3da"/><stop offset="0.487" stop-color="#f5b493"/><stop offset="0.499" stop-color="#f2a784"/><stop offset="0.532" stop-color="#f8dacc"/><stop offset="0.556" stop-color="#f8d5c4"/><stop offset="0.583" stop-color="#f2a683"/><stop offset="0.598" stop-color="#f6b898"/><stop offset="0.614" stop-color="#f1eff0"/><stop offset="0.624" stop-color="#b7d5ea"/><stop offset="0.637" stop-color="#5ba1ce"/><stop offset="0.663" stop-color="#2d79bd"/><stop offset="0.737" stop-color="#235ca0"/><stop offset="0.852" stop-color="#2c4071"/><stop offset="1.000" stop-color="#2c3e6e"/></linearGradient><linearGradient id="b44" x1="0" y1="0" x2="0" y2="1"><stop offset="0.000" stop-color="#94c2e0"/><stop offset="0.191" stop-color="#83b8da"/><stop offset="0.437" stop-color="#8abcdd"/><stop offset="0.452" stop-color="#adcfe7"/><stop offset="0.468" stop-color="#f4eeed"/><stop offset="0.485" stop-color="#f3ac89"/><stop offset="0.497" stop-color="#ef9771"/><stop offset="0.534" stop-color="#f7cbb6"/><stop offset="0.559" stop-color="#f7c3a9"/><stop offset="0.585" stop-color="#ef9670"/><stop offset="0.600" stop-color="#f5b190"/><stop offset="0.616" stop-color="#f1eff0"/><stop offset="0.628" stop-color="#a9cde6"/><stop offset="0.641" stop-color="#62a5d0"/><stop offset="0.669" stop-color="#2f7cbf"/><stop offset="0.758" stop-color="#245b9e"/><stop offset="0.860" stop-color="#2b477d"/><stop offset="1.000" stop-color="#2b467b"/></linearGradient><linearGradient id="b45" x1="0" y1="0" x2="0" y2="1"><stop offset="0.000" stop-color="#8dbede"/><stop offset="0.331" stop-color="#82b7da"/><stop offset="0.439" stop-color="#89bcdc"/><stop offset="0.454" stop-color="#b2d2e8"/><stop offset="0.468" stop-color="#f3efef"/><stop offset="0.485" stop-color="#f3ab89"/><stop offset="0.497" stop-color="#ee936e"/><stop offset="0.536" stop-color="#f7c9b3"/><stop offset="0.559" stop-color="#f7c0a4"/><stop offset="0.585" stop-color="#ee926d"/><stop offset="0.600" stop-color="#f5b190"/><stop offset="0.614" stop-color="#f4eeec"/><stop offset="0.624" stop-color="#c2dbed"/><stop offset="0.639" stop-color="#5fa3cf"/><stop offset="0.667" stop-color="#2e7abd"/><stop offset="0.741" stop-color="#235b9f"/><stop offset="0.844" stop-color="#2c4477"/><stop offset="1.000" stop-color="#2c4275"/></linearGradient><linearGradient id="b46" x1="0" y1="0" x2="0" y2="1"><stop offset="0.000" stop-color="#80b6d9"/><stop offset="0.439" stop-color="#7fb5d9"/><stop offset="0.454" stop-color="#a8cde5"/><stop offset="0.468" stop-color="#f1eff0"/><stop offset="0.478" stop-color="#f7c6ad"/><stop offset="0.491" stop-color="#ef9872"/><stop offset="0.501" stop-color="#ee926d"/><stop offset="0.534" stop-color="#f7c6ad"/><stop offset="0.559" stop-color="#f6bda0"/><stop offset="0.585" stop-color="#ec8d6a"/><stop offset="0.598" stop-color="#f3aa87"/><stop offset="0.614" stop-color="#f3f0f0"/><stop offset="0.624" stop-color="#b6d4e9"/><stop offset="0.637" stop-color="#569ecd"/><stop offset="0.667" stop-color="#2973b8"/><stop offset="0.727" stop-color="#25599b"/><stop offset="0.830" stop-color="#2c3f6f"/><stop offset="1.000" stop-color="#2d3d6b"/></linearGradient><linearGradient id="b47" x1="0" y1="0" x2="0" y2="1"><stop offset="0.000" stop-color="#91c0df"/><stop offset="0.441" stop-color="#93c1df"/><stop offset="0.454" stop-color="#b5d4e9"/><stop offset="0.468" stop-color="#f4edeb"/><stop offset="0.483" stop-color="#f2a380"/><stop offset="0.495" stop-color="#e27055"/><stop offset="0.507" stop-color="#e98362"/><stop offset="0.528" stop-color="#f4ae8c"/><stop offset="0.556" stop-color="#f4ac8a"/><stop offset="0.577" stop-color="#e67c5d"/><stop offset="0.587" stop-color="#e27155"/><stop offset="0.600" stop-color="#f2a480"/><stop offset="0.614" stop-color="#f5ecea"/><stop offset="0.624" stop-color="#c1daed"/><stop offset="0.637" stop-color="#62a5d1"/><stop offset="0.649" stop-color="#438ec6"/><stop offset="0.684" stop-color="#246bb1"/><stop offset="0.825" stop-color="#2c4275"/><stop offset="1.000" stop-color="#2c4171"/></linearGradient><linearGradient id="b48" x1="0" y1="0" x2="0" y2="1"><stop offset="0.000" stop-color="#99c5e1"/><stop offset="0.444" stop-color="#9ec7e2"/><stop offset="0.458" stop-color="#cfe2ef"/><stop offset="0.468" stop-color="#f6eae6"/><stop offset="0.480" stop-color="#f1a17d"/><stop offset="0.491" stop-color="#dc624b"/><stop offset="0.499" stop-color="#d65544"/><stop offset="0.528" stop-color="#f09c77"/><stop offset="0.556" stop-color="#f09a75"/><stop offset="0.585" stop-color="#d55343"/><stop offset="0.595" stop-color="#e67a5c"/><stop offset="0.608" stop-color="#f7c5ad"/><stop offset="0.616" stop-color="#f3f0ef"/><stop offset="0.626" stop-color="#b3d3e9"/><stop offset="0.639" stop-color="#5da2cf"/><stop offset="0.669" stop-color="#2b76bb"/><stop offset="0.727" stop-color="#245b9e"/><stop offset="0.823" stop-color="#2c4477"/><stop offset="1.000" stop-color="#2c4274"/></linearGradient><linearGradient id="b49" x1="0" y1="0" x2="0" y2="1"><stop offset="0.000" stop-color="#98c4e1"/><stop offset="0.444" stop-color="#9cc6e2"/><stop offset="0.458" stop-color="#cee1ef"/><stop offset="0.466" stop-color="#f3efee"/><stop offset="0.483" stop-color="#eb8967"/><stop offset="0.493" stop-color="#cf483d"/><stop offset="0.503" stop-color="#cf483d"/><stop offset="0.530" stop-color="#ec8e6a"/><stop offset="0.554" stop-color="#eb8b68"/><stop offset="0.585" stop-color="#cb4039"/><stop offset="0.595" stop-color="#e16c51"/><stop offset="0.608" stop-color="#f7c2a8"/><stop offset="0.616" stop-color="#f3f0f0"/><stop offset="0.626" stop-color="#afd1e7"/><stop offset="0.639" stop-color="#569ecd"/><stop offset="0.671" stop-color="#2872b7"/><stop offset="0.725" stop-color="#255899"/><stop offset="0.817" stop-color="#2c4273"/><stop offset="1.000" stop-color="#2c4070"/></linearGradient><linearGradient id="b50" x1="0" y1="0" x2="0" y2="1"><stop offset="0.000" stop-color="#a2cae4"/><stop offset="0.444" stop-color="#a6cbe5"/><stop offset="0.458" stop-color="#d5e4f0"/><stop offset="0.466" stop-color="#f5ece9"/><stop offset="0.480" stop-color="#ea8765"/><stop offset="0.491" stop-color="#c63934"/><stop offset="0.501" stop-color="#bc3231"/><stop offset="0.534" stop-color="#e37457"/><stop offset="0.559" stop-color="#de674e"/><stop offset="0.581" stop-color="#bb3131"/><stop offset="0.591" stop-color="#c93c36"/><stop offset="0.602" stop-color="#ec8c69"/><stop offset="0.612" stop-color="#f8d6c6"/><stop offset="0.616" stop-color="#f5edeb"/><stop offset="0.624" stop-color="#c8deee"/><stop offset="0.639" stop-color="#5fa3cf"/><stop offset="0.665" stop-color="#2e7abe"/><stop offset="0.715" stop-color="#235ca0"/><stop offset="0.807" stop-color="#2c4478"/><stop offset="1.000" stop-color="#2c4274"/></linearGradient><linearGradient id="b51" x1="0" y1="0" x2="0" y2="1"><stop offset="0.000" stop-color="#a0c8e3"/><stop offset="0.444" stop-color="#a3cae4"/><stop offset="0.458" stop-color="#d3e3f0"/><stop offset="0.466" stop-color="#f5ece9"/><stop offset="0.478" stop-color="#ef9671"/><stop offset="0.487" stop-color="#ce473c"/><stop offset="0.495" stop-color="#b12a2e"/><stop offset="0.515" stop-color="#cd443b"/><stop offset="0.536" stop-color="#de674e"/><stop offset="0.559" stop-color="#d85947"/><stop offset="0.581" stop-color="#b22b2e"/><stop offset="0.589" stop-color="#ba3030"/><stop offset="0.595" stop-color="#d14d3f"/><stop offset="0.608" stop-color="#f6b797"/><stop offset="0.616" stop-color="#f4edeb"/><stop offset="0.624" stop-color="#c5dcee"/><stop offset="0.637" stop-color="#62a4d0"/><stop offset="0.649" stop-color="#428dc6"/><stop offset="0.686" stop-color="#2166ad"/><stop offset="0.791" stop-color="#2c4376"/><stop offset="1.000" stop-color="#2c4071"/></linearGradient><linearGradient id="b52" x1="0" y1="0" x2="0" y2="1"><stop offset="0.000" stop-color="#a7cce5"/><stop offset="0.444" stop-color="#aacee6"/><stop offset="0.458" stop-color="#d8e6f1"/><stop offset="0.466" stop-color="#f6e9e5"/><stop offset="0.478" stop-color="#eb8967"/><stop offset="0.487" stop-color="#c63834"/><stop offset="0.497" stop-color="#9e232b"/><stop offset="0.524" stop-color="#ce473c"/><stop offset="0.548" stop-color="#d55443"/><stop offset="0.571" stop-color="#b92f30"/><stop offset="0.585" stop-color="#9e232b"/><stop offset="0.595" stop-color="#ca3e37"/><stop offset="0.606" stop-color="#f1a17d"/><stop offset="0.616" stop-color="#f5ebe8"/><stop offset="0.624" stop-color="#c9dfee"/><stop offset="0.639" stop-color="#5ea2cf"/><stop offset="0.665" stop-color="#2d7abd"/><stop offset="0.706" stop-color="#235da0"/><stop offset="0.795" stop-color="#2c4478"/><stop offset="1.000" stop-color="#2c4274"/></linearGradient><linearGradient id="b53" x1="0" y1="0" x2="0" y2="1"><stop offset="0.000" stop-color="#aed0e7"/><stop offset="0.446" stop-color="#b4d3e9"/><stop offset="0.464" stop-color="#f4eeec"/><stop offset="0.476" stop-color="#ef9771"/><stop offset="0.485" stop-color="#c93c36"/><stop offset="0.493" stop-color="#98222b"/><stop offset="0.499" stop-color="#8c212b"/><stop offset="0.526" stop-color="#c93c36"/><stop offset="0.550" stop-color="#cd443b"/><stop offset="0.573" stop-color="#aa252c"/><stop offset="0.585" stop-color="#8a212b"/><stop offset="0.595" stop-color="#c23633"/><stop offset="0.604" stop-color="#e98564"/><stop offset="0.616" stop-color="#f6e8e4"/><stop offset="0.622" stop-color="#dce8f2"/><stop offset="0.639" stop-color="#66a7d2"/><stop offset="0.655" stop-color="#408bc5"/><stop offset="0.690" stop-color="#2166ad"/><stop offset="0.782" stop-color="#2b477d"/><stop offset="1.000" stop-color="#2c4478"/></linearGradient><linearGradient id="b54" x1="0" y1="0" x2="0" y2="1"><stop offset="0.000" stop-color="#a1c9e3"/><stop offset="0.446" stop-color="#a5cbe5"/><stop offset="0.464" stop-color="#f1f0f0"/><stop offset="0.468" stop-color="#f7ded3"/><stop offset="0.478" stop-color="#ea8866"/><stop offset="0.487" stop-color="#c33633"/><stop offset="0.497" stop-color="#95222b"/><stop offset="0.524" stop-color="#cb4038"/><stop offset="0.548" stop-color="#d14c3f"/><stop offset="0.571" stop-color="#b42c2f"/><stop offset="0.585" stop-color="#94222b"/><stop offset="0.595" stop-color="#c83a35"/><stop offset="0.606" stop-color="#f1a27e"/><stop offset="0.616" stop-color="#f5edeb"/><stop offset="0.624" stop-color="#c3dced"/><stop offset="0.637" stop-color="#5ca1cf"/><stop offset="0.659" stop-color="#2f7bbf"/><stop offset="0.692" stop-color="#235da1"/><stop offset="0.772" stop-color="#2c4273"/><stop offset="1.000" stop-color="#2c3e6e"/></linearGradient><linearGradient id="b55" x1="0" y1="0" x2="0" y2="1"><stop offset="0.000" stop-color="#a7cce5"/><stop offset="0.446" stop-color="#accfe7"/><stop offset="0.464" stop-color="#f3efef"/><stop offset="0.470" stop-color="#f7cbb5"/><stop offset="0.478" stop-color="#e88160"/><stop offset="0.485" stop-color="#ca3d37"/><stop offset="0.493" stop-color="#97222b"/><stop offset="0.499" stop-color="#8a212b"/><stop offset="0.526" stop-color="#c83b35"/><stop offset="0.550" stop-color="#cc423a"/><stop offset="0.573" stop-color="#a9242b"/><stop offset="0.585" stop-color="#88212a"/><stop offset="0.595" stop-color="#c33633"/><stop offset="0.604" stop-color="#ea8866"/><stop offset="0.616" stop-color="#f6ebe8"/><stop offset="0.622" stop-color="#d7e6f1"/><stop offset="0.639" stop-color="#5aa0ce"/><stop offset="0.671" stop-color="#276fb5"/><stop offset="0.713" stop-color="#285391"/><stop offset="0.795" stop-color="#2c4274"/><stop offset="1.000" stop-color="#2c4172"/></linearGradient><linearGradient id="b56" x1="0" y1="0" x2="0" y2="1"><stop offset="0.000" stop-color="#a3cae4"/><stop offset="0.446" stop-color="#a8cde5"/><stop offset="0.464" stop-color="#f2f0f0"/><stop offset="0.468" stop-color="#f7ddd1"/><stop offset="0.478" stop-color="#e98463"/><stop offset="0.487" stop-color="#bf3432"/><stop offset="0.497" stop-color="#8c212b"/><stop offset="0.526" stop-color="#ca3d37"/><stop offset="0.550" stop-color="#cd453b"/><stop offset="0.573" stop-color="#aa262c"/><stop offset="0.585" stop-color="#8c212b"/><stop offset="0.595" stop-color="#c53834"/><stop offset="0.606" stop-color="#f1a07b"/><stop offset="0.616" stop-color="#f5ece9"/><stop offset="0.624" stop-color="#c5dced"/><stop offset="0.637" stop-color="#5ea2cf"/><stop offset="0.657" stop-color="#327ec0"/><stop offset="0.688" stop-color="#225da1"/><stop offset="0.762" stop-color="#2c4274"/><stop offset="1.000" stop-color="#2c3f6f"/></linearGradient><linearGradient id="b57" x1="0" y1="0" x2="0" y2="1"><stop offset="0.000" stop-color="#a7cce5"/><stop offset="0.446" stop-color="#accfe7"/><stop offset="0.464" stop-color="#f3efef"/><stop offset="0.470" stop-color="#f7cbb5"/><stop offset="0.478" stop-color="#e78060"/><stop offset="0.485" stop-color="#c93c36"/><stop offset="0.493" stop-color="#95222b"/><stop offset="0.499" stop-color="#88212a"/><stop offset="0.526" stop-color="#c73a35"/><stop offset="0.552" stop-color="#ca3f38"/><stop offset="0.575" stop-color="#9e232b"/><stop offset="0.585" stop-color="#86212a"/><stop offset="0.595" stop-color="#c23633"/><stop offset="0.604" stop-color="#ea8866"/><stop offset="0.616" stop-color="#f6ebe8"/><stop offset="0.622" stop-color="#d7e5f1"/><stop offset="0.639" stop-color="#599fce"/><stop offset="0.669" stop-color="#276fb5"/><stop offset="0.704" stop-color="#285492"/><stop offset="0.782" stop-color="#2c4274"/><stop offset="1.000" stop-color="#2c4171"/></linearGradient><linearGradient id="b58" x1="0" y1="0" x2="0" y2="1"><stop offset="0.000" stop-color="#9ec7e2"/><stop offset="0.446" stop-color="#a3cae4"/><stop offset="0.460" stop-color="#dde8f2"/><stop offset="0.466" stop-color="#f5ebe8"/><stop offset="0.478" stop-color="#ea8966"/><stop offset="0.487" stop-color="#c23633"/><stop offset="0.497" stop-color="#92222b"/><stop offset="0.524" stop-color="#ca3e37"/><stop offset="0.548" stop-color="#d04a3e"/><stop offset="0.571" stop-color="#b22b2e"/><stop offset="0.585" stop-color="#91222b"/><stop offset="0.595" stop-color="#c83a35"/><stop offset="0.606" stop-color="#f2a27f"/><stop offset="0.616" stop-color="#f4edec"/><stop offset="0.624" stop-color="#c1daed"/><stop offset="0.637" stop-color="#579ecd"/><stop offset="0.665" stop-color="#276fb5"/><stop offset="0.698" stop-color="#295290"/><stop offset="0.768" stop-color="#2c3f6e"/><stop offset="1.000" stop-color="#2d3d6b"/></linearGradient><linearGradient id="b59" x1="0" y1="0" x2="0" y2="1"><stop offset="0.000" stop-color="#a2cae4"/><stop offset="0.446" stop-color="#a7cce5"/><stop offset="0.464" stop-color="#f2f0f0"/><stop offset="0.468" stop-color="#f7ddd1"/><stop offset="0.478" stop-color="#e98563"/><stop offset="0.487" stop-color="#bf3432"/><stop offset="0.497" stop-color="#8d212b"/><stop offset="0.526" stop-color="#ca3e37"/><stop offset="0.550" stop-color="#ce453b"/><stop offset="0.573" stop-color="#ab262c"/><stop offset="0.585" stop-color="#8c212b"/><stop offset="0.595" stop-color="#c53834"/><stop offset="0.606" stop-color="#f1a07c"/><stop offset="0.616" stop-color="#f5ecea"/><stop offset="0.624" stop-color="#c4dced"/><stop offset="0.637" stop-color="#5ca1cf"/><stop offset="0.659" stop-color="#2d79bd"/><stop offset="0.684" stop-color="#235c9f"/><stop offset="0.747" stop-color="#2c4274"/><stop offset="1.000" stop-color="#2c3f6e"/></linearGradient><linearGradient id="b60" x1="0" y1="0" x2="0" y2="1"><stop offset="0.000" stop-color="#a5cbe5"/><stop offset="0.446" stop-color="#aacee6"/><stop offset="0.464" stop-color="#f3f0f0"/><stop offset="0.470" stop-color="#f7ccb7"/><stop offset="0.478" stop-color="#e88261"/><stop offset="0.485" stop-color="#ca3e37"/><stop offset="0.493" stop-color="#98222b"/><stop offset="0.499" stop-color="#8a212b"/><stop offset="0.526" stop-color="#c93b36"/><stop offset="0.550" stop-color="#cc433a"/><stop offset="0.573" stop-color="#a9252b"/><stop offset="0.585" stop-color="#89212a"/><stop offset="0.595" stop-color="#c33733"/><stop offset="0.604" stop-color="#eb8a67"/><stop offset="0.616" stop-color="#f5ece9"/><stop offset="0.622" stop-color="#d5e5f0"/><stop offset="0.637" stop-color="#60a3d0"/><stop offset="0.653" stop-color="#3884c2"/><stop offset="0.682" stop-color="#225da2"/><stop offset="0.741" stop-color="#2c4477"/><stop offset="1.000" stop-color="#2c4070"/></linearGradient><linearGradient id="b61" x1="0" y1="0" x2="0" y2="1"><stop offset="0.000" stop-color="#adcfe7"/><stop offset="0.446" stop-color="#b1d2e8"/><stop offset="0.464" stop-color="#f4eeed"/><stop offset="0.476" stop-color="#ef956f"/><stop offset="0.485" stop-color="#c63934"/><stop offset="0.495" stop-color="#83202a"/><stop offset="0.505" stop-color="#90222b"/><stop offset="0.522" stop-color="#be3332"/><stop offset="0.550" stop-color="#c93c36"/><stop offset="0.573" stop-color="#a1232b"/><stop offset="0.585" stop-color="#80202a"/><stop offset="0.595" stop-color="#be3332"/><stop offset="0.604" stop-color="#e88362"/><stop offset="0.616" stop-color="#f6e9e5"/><stop offset="0.622" stop-color="#dbe7f1"/><stop offset="0.639" stop-color="#5fa3cf"/><stop offset="0.665" stop-color="#2a74b8"/><stop offset="0.688" stop-color="#245a9d"/><stop offset="0.752" stop-color="#2b457a"/><stop offset="1.000" stop-color="#2c4375"/></linearGradient><linearGradient id="b62" x1="0" y1="0" x2="0" y2="1"><stop offset="0.000" stop-color="#afd0e7"/><stop offset="0.446" stop-color="#b3d3e9"/><stop offset="0.464" stop-color="#f4eeec"/><stop offset="0.476" stop-color="#ee946f"/><stop offset="0.485" stop-color="#c63834"/><stop offset="0.495" stop-color="#82202a"/><stop offset="0.505" stop-color="#8f222b"/><stop offset="0.522" stop-color="#be3332"/><stop offset="0.550" stop-color="#c93c36"/><stop offset="0.573" stop-color="#a0232b"/><stop offset="0.585" stop-color="#7f202a"/><stop offset="0.595" stop-color="#be3332"/><stop offset="0.604" stop-color="#e88261"/><stop offset="0.616" stop-color="#f6e8e3"/><stop offset="0.622" stop-color="#dce8f2"/><stop offset="0.639" stop-color="#61a4d0"/><stop offset="0.661" stop-color="#2e7abd"/><stop offset="0.686" stop-color="#235b9f"/><stop offset="0.747" stop-color="#2b467b"/><stop offset="1.000" stop-color="#2c4476"/></linearGradient><linearGradient id="b63" x1="0" y1="0" x2="0" y2="1"><stop offset="0.000" stop-color="#9dc7e2"/><stop offset="0.446" stop-color="#a2c9e3"/><stop offset="0.460" stop-color="#dce8f2"/><stop offset="0.466" stop-color="#f5ece9"/><stop offset="0.478" stop-color="#eb8c68"/><stop offset="0.487" stop-color="#c53834"/><stop offset="0.497" stop-color="#98222b"/><stop offset="0.522" stop-color="#ca3e37"/><stop offset="0.544" stop-color="#d35042"/><stop offset="0.569" stop-color="#ba3031"/><stop offset="0.585" stop-color="#97222b"/><stop offset="0.595" stop-color="#c93d37"/><stop offset="0.606" stop-color="#f2a480"/><stop offset="0.616" stop-color="#f4eeec"/><stop offset="0.624" stop-color="#c0daec"/><stop offset="0.637" stop-color="#559dcc"/><stop offset="0.663" stop-color="#266fb4"/><stop offset="0.692" stop-color="#29518e"/><stop offset="0.756" stop-color="#2c3f6e"/><stop offset="1.000" stop-color="#2d3d6a"/></linearGradient><linearGradient id="b64" x1="0" y1="0" x2="0" y2="1"><stop offset="0.000" stop-color="#a1c9e3"/><stop offset="0.446" stop-color="#a5cbe5"/><stop offset="0.464" stop-color="#f1eff0"/><stop offset="0.468" stop-color="#f7dfd4"/><stop offset="0.478" stop-color="#eb8b68"/><stop offset="0.487" stop-color="#c53834"/><stop offset="0.497" stop-color="#99232b"/><stop offset="0.522" stop-color="#ca3f38"/><stop offset="0.544" stop-color="#d45142"/><stop offset="0.569" stop-color="#bb3131"/><stop offset="0.585" stop-color="#99232b"/><stop offset="0.595" stop-color="#c93d37"/><stop offset="0.606" stop-color="#f2a37f"/><stop offset="0.616" stop-color="#f4edeb"/><stop offset="0.624" stop-color="#c3dbed"/><stop offset="0.637" stop-color="#5aa0ce"/><stop offset="0.663" stop-color="#2871b6"/><stop offset="0.686" stop-color="#255899"/><stop offset="0.747" stop-color="#2c4172"/><stop offset="1.000" stop-color="#2c3e6d"/></linearGradient><linearGradient id="b65" x1="0" y1="0" x2="0" y2="1"><stop offset="0.000" stop-color="#aacee6"/><stop offset="0.446" stop-color="#afd1e7"/><stop offset="0.464" stop-color="#f3efef"/><stop offset="0.470" stop-color="#f7ccb7"/><stop offset="0.478" stop-color="#ea8664"/><stop offset="0.487" stop-color="#c33633"/><stop offset="0.497" stop-color="#97222b"/><stop offset="0.522" stop-color="#ca3d37"/><stop offset="0.544" stop-color="#d35041"/><stop offset="0.569" stop-color="#ba3031"/><stop offset="0.585" stop-color="#97222b"/><stop offset="0.595" stop-color="#c83a35"/><stop offset="0.606" stop-color="#f1a07b"/><stop offset="0.616" stop-color="#f6ebe8"/><stop offset="0.624" stop-color="#c9dfee"/><stop offset="0.639" stop-color="#5da1cf"/><stop offset="0.667" stop-color="#2871b6"/><stop offset="0.694" stop-color="#265798"/><stop offset="0.764" stop-color="#2c4477"/><stop offset="1.000" stop-color="#2c4274"/></linearGradient><linearGradient id="b66" x1="0" y1="0" x2="0" y2="1"><stop offset="0.000" stop-color="#97c3e0"/><stop offset="0.446" stop-color="#9cc6e2"/><stop offset="0.458" stop-color="#cbe0ef"/><stop offset="0.466" stop-color="#f4efee"/><stop offset="0.478" stop-color="#f09b76"/><stop offset="0.489" stop-color="#ca3d37"/><stop offset="0.497" stop-color="#b32c2f"/><stop offset="0.515" stop-color="#cf493d"/><stop offset="0.536" stop-color="#e06b51"/><stop offset="0.561" stop-color="#d85947"/><stop offset="0.581" stop-color="#b52d2f"/><stop offset="0.589" stop-color="#bd3332"/><stop offset="0.595" stop-color="#d45343"/><stop offset="0.608" stop-color="#f6bda0"/><stop offset="0.614" stop-color="#f6e9e5"/><stop offset="0.620" stop-color="#dbe8f1"/><stop offset="0.637" stop-color="#4f99cb"/><stop offset="0.667" stop-color="#2369b0"/><stop offset="0.731" stop-color="#2c4273"/><stop offset="0.975" stop-color="#2d3b67"/><stop offset="1.000" stop-color="#2d3b67"/></linearGradient><linearGradient id="b67" x1="0" y1="0" x2="0" y2="1"><stop offset="0.000" stop-color="#a0c9e3"/><stop offset="0.446" stop-color="#a5cbe5"/><stop offset="0.464" stop-color="#efeff1"/><stop offset="0.468" stop-color="#f7e4dc"/><stop offset="0.478" stop-color="#f09b76"/><stop offset="0.489" stop-color="#cc4239"/><stop offset="0.499" stop-color="#b82f30"/><stop offset="0.515" stop-color="#d34f41"/><stop offset="0.536" stop-color="#e37256"/><stop offset="0.559" stop-color="#dd644d"/><stop offset="0.581" stop-color="#ba3030"/><stop offset="0.591" stop-color="#c83a35"/><stop offset="0.602" stop-color="#ec8e6a"/><stop offset="0.612" stop-color="#f8d9ca"/><stop offset="0.616" stop-color="#f4eeed"/><stop offset="0.624" stop-color="#c3dbed"/><stop offset="0.637" stop-color="#5da2cf"/><stop offset="0.659" stop-color="#2e7abe"/><stop offset="0.686" stop-color="#235ca0"/><stop offset="0.754" stop-color="#2c4375"/><stop offset="1.000" stop-color="#2c3f6f"/></linearGradient><linearGradient id="b68" x1="0" y1="0" x2="0" y2="1"><stop offset="0.000" stop-color="#a1c9e3"/><stop offset="0.444" stop-color="#a3cae4"/><stop offset="0.458" stop-color="#d1e3f0"/><stop offset="0.466" stop-color="#f4eeec"/><stop offset="0.480" stop-color="#ee946e"/><stop offset="0.491" stop-color="#ce463c"/><stop offset="0.499" stop-color="#c53834"/><stop offset="0.532" stop-color="#e98362"/><stop offset="0.556" stop-color="#e67b5c"/><stop offset="0.583" stop-color="#c43834"/><stop offset="0.591" stop-color="#d0493e"/><stop offset="0.602" stop-color="#ef9771"/><stop offset="0.616" stop-color="#f4efee"/><stop offset="0.624" stop-color="#c3dced"/><stop offset="0.637" stop-color="#61a4d0"/><stop offset="0.651" stop-color="#3e89c4"/><stop offset="0.684" stop-color="#2160a6"/><stop offset="0.756" stop-color="#2c4477"/><stop offset="1.000" stop-color="#2c4070"/></linearGradient><linearGradient id="b69" x1="0" y1="0" x2="0" y2="1"><stop offset="0.000" stop-color="#a8cde5"/><stop offset="0.444" stop-color="#abcee6"/><stop offset="0.462" stop-color="#e8edf2"/><stop offset="0.468" stop-color="#f7e5de"/><stop offset="0.480" stop-color="#f09974"/><stop offset="0.491" stop-color="#d45343"/><stop offset="0.499" stop-color="#cd453b"/><stop offset="0.532" stop-color="#ee936e"/><stop offset="0.556" stop-color="#eb8b68"/><stop offset="0.585" stop-color="#cd433a"/><stop offset="0.595" stop-color="#e16c51"/><stop offset="0.608" stop-color="#f6bfa3"/><stop offset="0.616" stop-color="#f4eeec"/><stop offset="0.624" stop-color="#c8deee"/><stop offset="0.639" stop-color="#63a5d1"/><stop offset="0.663" stop-color="#2f7cbf"/><stop offset="0.698" stop-color="#235ca0"/><stop offset="0.776" stop-color="#2b467b"/><stop offset="1.000" stop-color="#2c4477"/></linearGradient><linearGradient id="b70" x1="0" y1="0" x2="0" y2="1"><stop offset="0.000" stop-color="#a2c9e3"/><stop offset="0.444" stop-color="#a4cbe4"/><stop offset="0.460" stop-color="#dae7f1"/><stop offset="0.468" stop-color="#f6ebe7"/><stop offset="0.483" stop-color="#f09b76"/><stop offset="0.495" stop-color="#db604b"/><stop offset="0.507" stop-color="#e37256"/><stop offset="0.524" stop-color="#f19f7b"/><stop offset="0.552" stop-color="#f2a582"/><stop offset="0.569" stop-color="#ea8765"/><stop offset="0.585" stop-color="#da5f4a"/><stop offset="0.595" stop-color="#e98362"/><stop offset="0.608" stop-color="#f7c8b1"/><stop offset="0.616" stop-color="#f3f0f0"/><stop offset="0.626" stop-color="#b3d3e9"/><stop offset="0.639" stop-color="#5ea2cf"/><stop offset="0.669" stop-color="#2a73b8"/><stop offset="0.704" stop-color="#25599b"/><stop offset="0.784" stop-color="#2c4478"/><stop offset="1.000" stop-color="#2c4274"/></linearGradient><linearGradient id="b71" x1="0" y1="0" x2="0" y2="1"><stop offset="0.000" stop-color="#97c4e0"/><stop offset="0.444" stop-color="#99c5e1"/><stop offset="0.458" stop-color="#c9dfee"/><stop offset="0.468" stop-color="#f4eeed"/><stop offset="0.485" stop-color="#f1a27e"/><stop offset="0.497" stop-color="#e77e5e"/><stop offset="0.532" stop-color="#f6ba9b"/><stop offset="0.559" stop-color="#f5b392"/><stop offset="0.585" stop-color="#e67d5e"/><stop offset="0.598" stop-color="#f1a27e"/><stop offset="0.610" stop-color="#f7ddd1"/><stop offset="0.616" stop-color="#eeeff1"/><stop offset="0.628" stop-color="#9ac5e1"/><stop offset="0.639" stop-color="#549ccc"/><stop offset="0.671" stop-color="#266eb4"/><stop offset="0.719" stop-color="#29528f"/><stop offset="0.803" stop-color="#2c4171"/><stop offset="1.000" stop-color="#2c3f6f"/></linearGradient><linearGradient id="b72" x1="0" y1="0" x2="0" y2="1"><stop offset="0.000" stop-color="#94c2df"/><stop offset="0.441" stop-color="#92c1df"/><stop offset="0.454" stop-color="#b2d2e8"/><stop offset="0.468" stop-color="#f3f0f0"/><stop offset="0.487" stop-color="#f2a481"/><stop offset="0.499" stop-color="#ee946e"/><stop offset="0.534" stop-color="#f7c8b1"/><stop offset="0.559" stop-color="#f7c0a4"/><stop offset="0.585" stop-color="#ed916d"/><stop offset="0.598" stop-color="#f3ab88"/><stop offset="0.614" stop-color="#f3efef"/><stop offset="0.624" stop-color="#bbd7eb"/><stop offset="0.637" stop-color="#5ea2cf"/><stop offset="0.659" stop-color="#307dc0"/><stop offset="0.698" stop-color="#235da1"/><stop offset="0.784" stop-color="#2c4274"/><stop offset="1.000" stop-color="#2c3f6f"/></linearGradient><linearGradient id="b73" x1="0" y1="0" x2="0" y2="1"><stop offset="0.000" stop-color="#93c1df"/><stop offset="0.357" stop-color="#87badb"/><stop offset="0.441" stop-color="#8ebede"/><stop offset="0.456" stop-color="#bad7eb"/><stop offset="0.468" stop-color="#f1eff0"/><stop offset="0.478" stop-color="#f7cbb5"/><stop offset="0.489" stop-color="#f2a683"/><stop offset="0.501" stop-color="#f19f7b"/><stop offset="0.532" stop-color="#f8d0bd"/><stop offset="0.556" stop-color="#f7cbb5"/><stop offset="0.585" stop-color="#f09c77"/><stop offset="0.600" stop-color="#f6b898"/><stop offset="0.614" stop-color="#f3f0f0"/><stop offset="0.624" stop-color="#bbd7eb"/><stop offset="0.639" stop-color="#559dcc"/><stop offset="0.671" stop-color="#2770b5"/><stop offset="0.719" stop-color="#275695"/><stop offset="0.805" stop-color="#2c4172"/><stop offset="1.000" stop-color="#2c4070"/></linearGradient><linearGradient id="b74" x1="0" y1="0" x2="0" y2="1"><stop offset="0.000" stop-color="#9ec7e2"/><stop offset="0.232" stop-color="#8ebede"/><stop offset="0.441" stop-color="#95c3e0"/><stop offset="0.456" stop-color="#c3dbed"/><stop offset="0.468" stop-color="#f3efef"/><stop offset="0.487" stop-color="#f3a987"/><stop offset="0.499" stop-color="#f09c77"/><stop offset="0.534" stop-color="#f8d0bd"/><stop offset="0.559" stop-color="#f7c7b0"/><stop offset="0.585" stop-color="#f09b76"/><stop offset="0.600" stop-color="#f5b494"/><stop offset="0.614" stop-color="#f4eeec"/><stop offset="0.624" stop-color="#c5ddee"/><stop offset="0.639" stop-color="#66a7d2"/><stop offset="0.655" stop-color="#418cc6"/><stop offset="0.688" stop-color="#246bb1"/><stop offset="0.801" stop-color="#2b477c"/><stop offset="1.000" stop-color="#2c4578"/></linearGradient><linearGradient id="b75" x1="0" y1="0" x2="0" y2="1"><stop offset="0.000" stop-color="#91c0de"/><stop offset="0.142" stop-color="#72aed5"/><stop offset="0.437" stop-color="#78b1d7"/><stop offset="0.454" stop-color="#a7cce5"/><stop offset="0.470" stop-color="#f4efee"/><stop offset="0.489" stop-color="#f4af8d"/><stop offset="0.503" stop-color="#f3ac8a"/><stop offset="0.530" stop-color="#f8d9ca"/><stop offset="0.556" stop-color="#f8d5c5"/><stop offset="0.583" stop-color="#f2a784"/><stop offset="0.598" stop-color="#f6b898"/><stop offset="0.614" stop-color="#f1eff0"/><stop offset="0.624" stop-color="#b9d6ea"/><stop offset="0.639" stop-color="#539ccc"/><stop offset="0.674" stop-color="#266fb4"/><stop offset="0.731" stop-color="#285492"/><stop offset="0.821" stop-color="#2c4071"/><stop offset="1.000" stop-color="#2c3f6f"/></linearGradient><linearGradient id="b76" x1="0" y1="0" x2="0" y2="1"><stop offset="0.000" stop-color="#94c2df"/><stop offset="0.136" stop-color="#69a9d3"/><stop offset="0.437" stop-color="#70add5"/><stop offset="0.452" stop-color="#9ac5e1"/><stop offset="0.468" stop-color="#eeeff1"/><stop offset="0.476" stop-color="#f8dacd"/><stop offset="0.489" stop-color="#f4b08e"/><stop offset="0.503" stop-color="#f4ad8b"/><stop offset="0.530" stop-color="#f8dacc"/><stop offset="0.556" stop-color="#f8d6c7"/><stop offset="0.583" stop-color="#f3a885"/><stop offset="0.598" stop-color="#f6b999"/><stop offset="0.614" stop-color="#f1eff0"/><stop offset="0.624" stop-color="#b9d6ea"/><stop offset="0.639" stop-color="#549dcc"/><stop offset="0.671" stop-color="#2871b6"/><stop offset="0.727" stop-color="#265898"/><stop offset="0.819" stop-color="#2c4173"/><stop offset="1.000" stop-color="#2c3f6f"/></linearGradient><linearGradient id="b77" x1="0" y1="0" x2="0" y2="1"><stop offset="0.000" stop-color="#9cc6e2"/><stop offset="0.142" stop-color="#66a7d2"/><stop offset="0.435" stop-color="#6cabd4"/><stop offset="0.450" stop-color="#92c1df"/><stop offset="0.468" stop-color="#efeff1"/><stop offset="0.476" stop-color="#f8d8ca"/><stop offset="0.489" stop-color="#f4ae8c"/><stop offset="0.503" stop-color="#f3ab88"/><stop offset="0.530" stop-color="#f8d8c9"/><stop offset="0.556" stop-color="#f8d4c3"/><stop offset="0.583" stop-color="#f2a683"/><stop offset="0.598" stop-color="#f6b696"/><stop offset="0.614" stop-color="#f3f0f0"/><stop offset="0.624" stop-color="#bed9ec"/><stop offset="0.639" stop-color="#5ba0ce"/><stop offset="0.671" stop-color="#2a74b9"/><stop offset="0.731" stop-color="#245a9c"/><stop offset="0.828" stop-color="#2c4375"/><stop offset="1.000" stop-color="#2c4173"/></linearGradient><linearGradient id="b78" x1="0" y1="0" x2="0" y2="1"><stop offset="0.000" stop-color="#9dc7e2"/><stop offset="0.146" stop-color="#5aa0ce"/><stop offset="0.435" stop-color="#60a4d0"/><stop offset="0.450" stop-color="#8abcdc"/><stop offset="0.468" stop-color="#eeeff1"/><stop offset="0.474" stop-color="#f7e3da"/><stop offset="0.487" stop-color="#f5b594"/><stop offset="0.499" stop-color="#f3a886"/><stop offset="0.532" stop-color="#f8dbce"/><stop offset="0.556" stop-color="#f8d6c7"/><stop offset="0.583" stop-color="#f3a885"/><stop offset="0.598" stop-color="#f6b899"/><stop offset="0.614" stop-color="#f1f0f0"/><stop offset="0.624" stop-color="#bad7eb"/><stop offset="0.639" stop-color="#569ecd"/><stop offset="0.671" stop-color="#2973b7"/><stop offset="0.735" stop-color="#25599a"/><stop offset="0.834" stop-color="#2c4273"/><stop offset="1.000" stop-color="#2c4070"/></linearGradient><linearGradient id="b79" x1="0" y1="0" x2="0" y2="1"><stop offset="0.000" stop-color="#a1c9e3"/><stop offset="0.088" stop-color="#70add5"/><stop offset="0.170" stop-color="#519acb"/><stop offset="0.433" stop-color="#579ecd"/><stop offset="0.448" stop-color="#7ab3d8"/><stop offset="0.468" stop-color="#edeef1"/><stop offset="0.474" stop-color="#f7e3db"/><stop offset="0.489" stop-color="#f4b08f"/><stop offset="0.503" stop-color="#f4ad8c"/><stop offset="0.530" stop-color="#f8dacc"/><stop offset="0.556" stop-color="#f8d7c7"/><stop offset="0.583" stop-color="#f3a886"/><stop offset="0.598" stop-color="#f6b999"/><stop offset="0.614" stop-color="#f1eff0"/><stop offset="0.624" stop-color="#bad7eb"/><stop offset="0.639" stop-color="#559dcd"/><stop offset="0.671" stop-color="#2973b7"/><stop offset="0.739" stop-color="#25599a"/><stop offset="0.840" stop-color="#2c4173"/><stop offset="1.000" stop-color="#2c4070"/></linearGradient><linearGradient id="b80" x1="0" y1="0" x2="0" y2="1"><stop offset="0.000" stop-color="#9ec7e2"/><stop offset="0.074" stop-color="#7bb3d8"/><stop offset="0.148" stop-color="#4c96c9"/><stop offset="0.437" stop-color="#4f99cb"/><stop offset="0.450" stop-color="#79b2d7"/><stop offset="0.468" stop-color="#eaeef2"/><stop offset="0.476" stop-color="#f7ded3"/><stop offset="0.489" stop-color="#f5b494"/><stop offset="0.503" stop-color="#f5b190"/><stop offset="0.530" stop-color="#f7ddd2"/><stop offset="0.556" stop-color="#f8dacd"/><stop offset="0.583" stop-color="#f4ac8a"/><stop offset="0.595" stop-color="#f6b797"/><stop offset="0.612" stop-color="#f4eeed"/><stop offset="0.622" stop-color="#c4dced"/><stop offset="0.637" stop-color="#579ecd"/><stop offset="0.669" stop-color="#2871b6"/><stop offset="0.739" stop-color="#255899"/><stop offset="0.842" stop-color="#2c3f6f"/><stop offset="1.000" stop-color="#2d3d6b"/></linearGradient><linearGradient id="b81" x1="0" y1="0" x2="0" y2="1"><stop offset="0.000" stop-color="#a7cce5"/><stop offset="0.080" stop-color="#8abcdd"/><stop offset="0.160" stop-color="#4f99cb"/><stop offset="0.435" stop-color="#529bcc"/><stop offset="0.448" stop-color="#76b0d6"/><stop offset="0.468" stop-color="#edeef1"/><stop offset="0.474" stop-color="#f7e3da"/><stop offset="0.487" stop-color="#f5b594"/><stop offset="0.499" stop-color="#f3a986"/><stop offset="0.532" stop-color="#f8dbcd"/><stop offset="0.556" stop-color="#f8d6c6"/><stop offset="0.583" stop-color="#f3a885"/><stop offset="0.598" stop-color="#f6b899"/><stop offset="0.614" stop-color="#f1f0f0"/><stop offset="0.624" stop-color="#bbd7eb"/><stop offset="0.639" stop-color="#579ecd"/><stop offset="0.671" stop-color="#2a74b8"/><stop offset="0.749" stop-color="#25599b"/><stop offset="0.852" stop-color="#2c4274"/><stop offset="1.000" stop-color="#2c4071"/></linearGradient><linearGradient id="b82" x1="0" y1="0" x2="0" y2="1"><stop offset="0.000" stop-color="#a2cae4"/><stop offset="0.078" stop-color="#92c1df"/><stop offset="0.164" stop-color="#4d97ca"/><stop offset="0.437" stop-color="#4f9acb"/><stop offset="0.450" stop-color="#7bb3d8"/><stop offset="0.466" stop-color="#e5ecf3"/><stop offset="0.472" stop-color="#f5ece9"/><stop offset="0.489" stop-color="#f5b291"/><stop offset="0.503" stop-color="#f4af8e"/><stop offset="0.530" stop-color="#f7dbce"/><stop offset="0.556" stop-color="#f8d8c9"/><stop offset="0.583" stop-color="#f3aa88"/><stop offset="0.595" stop-color="#f5b595"/><stop offset="0.614" stop-color="#f0eff1"/><stop offset="0.624" stop-color="#b8d5ea"/><stop offset="0.639" stop-color="#539ccc"/><stop offset="0.671" stop-color="#2972b7"/><stop offset="0.754" stop-color="#25599a"/><stop offset="0.858" stop-color="#2c4171"/><stop offset="1.000" stop-color="#2c3f6f"/></linearGradient><linearGradient id="b83" x1="0" y1="0" x2="0" y2="1"><stop offset="0.000" stop-color="#a9cde6"/><stop offset="0.078" stop-color="#a5cbe5"/><stop offset="0.187" stop-color="#539ccc"/><stop offset="0.433" stop-color="#579ecd"/><stop offset="0.448" stop-color="#7eb5d9"/><stop offset="0.468" stop-color="#f0eff1"/><stop offset="0.478" stop-color="#f7ceb9"/><stop offset="0.489" stop-color="#f4ac8a"/><stop offset="0.503" stop-color="#f3a986"/><stop offset="0.532" stop-color="#f8d7c7"/><stop offset="0.556" stop-color="#f8d2c0"/><stop offset="0.585" stop-color="#f2a380"/><stop offset="0.600" stop-color="#f6bb9c"/><stop offset="0.614" stop-color="#f3efee"/><stop offset="0.624" stop-color="#c3dbed"/><stop offset="0.639" stop-color="#62a5d1"/><stop offset="0.661" stop-color="#3783c2"/><stop offset="0.719" stop-color="#2268af"/><stop offset="0.869" stop-color="#2c4579"/><stop offset="1.000" stop-color="#2c4477"/></linearGradient><linearGradient id="b84" x1="0" y1="0" x2="0" y2="1"><stop offset="0.000" stop-color="#9ec7e3"/><stop offset="0.080" stop-color="#a7cce5"/><stop offset="0.144" stop-color="#74afd6"/><stop offset="0.201" stop-color="#4e98ca"/><stop offset="0.435" stop-color="#549ccc"/><stop offset="0.448" stop-color="#78b2d7"/><stop offset="0.468" stop-color="#efeff1"/><stop offset="0.476" stop-color="#f8d9ca"/><stop offset="0.489" stop-color="#f4af8d"/><stop offset="0.503" stop-color="#f3ac89"/><stop offset="0.532" stop-color="#f8d9ca"/><stop offset="0.556" stop-color="#f8d4c3"/><stop offset="0.583" stop-color="#f2a784"/><stop offset="0.598" stop-color="#f6b797"/><stop offset="0.614" stop-color="#f3f0f0"/><stop offset="0.624" stop-color="#bfdaec"/><stop offset="0.639" stop-color="#5da2cf"/><stop offset="0.671" stop-color="#2b76ba"/><stop offset="0.770" stop-color="#245a9c"/><stop offset="0.875" stop-color="#2c4476"/><stop offset="1.000" stop-color="#2c4274"/></linearGradient><linearGradient id="b85" x1="0" y1="0" x2="0" y2="1"><stop offset="0.000" stop-color="#8fbfde"/><stop offset="0.082" stop-color="#a6cce5"/><stop offset="0.142" stop-color="#7eb5d9"/><stop offset="0.199" stop-color="#4d97ca"/><stop offset="0.437" stop-color="#509acb"/><stop offset="0.450" stop-color="#7db4d8"/><stop offset="0.466" stop-color="#e5ecf3"/><stop offset="0.472" stop-color="#f5ebe8"/><stop offset="0.489" stop-color="#f5b291"/><stop offset="0.503" stop-color="#f4af8e"/><stop offset="0.530" stop-color="#f8dacd"/><stop offset="0.556" stop-color="#f8d7c8"/><stop offset="0.583" stop-color="#f3aa88"/><stop offset="0.598" stop-color="#f6bb9c"/><stop offset="0.614" stop-color="#f1eff0"/><stop offset="0.624" stop-color="#bad7eb"/><stop offset="0.639" stop-color="#579ecd"/><stop offset="0.674" stop-color="#2972b7"/><stop offset="0.776" stop-color="#255899"/><stop offset="0.881" stop-color="#2c4273"/><stop offset="1.000" stop-color="#2c4071"/></linearGradient><linearGradient id="b86" x1="0" y1="0" x2="0" y2="1"><stop offset="0.000" stop-color="#84b8db"/><stop offset="0.078" stop-color="#abcfe6"/><stop offset="0.140" stop-color="#94c2e0"/><stop offset="0.214" stop-color="#509acb"/><stop offset="0.435" stop-color="#539ccc"/><stop offset="0.448" stop-color="#77b1d7"/><stop offset="0.468" stop-color="#eeeff1"/><stop offset="0.476" stop-color="#f8dacc"/><stop offset="0.489" stop-color="#f4b18f"/><stop offset="0.503" stop-color="#f4ae8c"/><stop offset="0.530" stop-color="#f8d8ca"/><stop offset="0.556" stop-color="#f8d5c5"/><stop offset="0.583" stop-color="#f3a986"/><stop offset="0.598" stop-color="#f6b999"/><stop offset="0.614" stop-color="#f2f0f0"/><stop offset="0.624" stop-color="#bfd9ec"/><stop offset="0.639" stop-color="#5da2cf"/><stop offset="0.671" stop-color="#2b76ba"/><stop offset="0.782" stop-color="#245a9c"/><stop offset="0.887" stop-color="#2c4477"/><stop offset="1.000" stop-color="#2c4274"/></linearGradient><linearGradient id="b87" x1="0" y1="0" x2="0" y2="1"><stop offset="0.000" stop-color="#62a5d0"/><stop offset="0.062" stop-color="#9bc5e1"/><stop offset="0.127" stop-color="#9ec7e3"/><stop offset="0.220" stop-color="#4c97ca"/><stop offset="0.437" stop-color="#4e98ca"/><stop offset="0.450" stop-color="#79b2d7"/><stop offset="0.468" stop-color="#ebeef2"/><stop offset="0.476" stop-color="#f7ded3"/><stop offset="0.489" stop-color="#f6b696"/><stop offset="0.503" stop-color="#f5b392"/><stop offset="0.530" stop-color="#f7dcd0"/><stop offset="0.556" stop-color="#f8d9cb"/><stop offset="0.583" stop-color="#f4ae8d"/><stop offset="0.595" stop-color="#f6b999"/><stop offset="0.612" stop-color="#f4eeed"/><stop offset="0.622" stop-color="#c7ddee"/><stop offset="0.637" stop-color="#5da2cf"/><stop offset="0.661" stop-color="#307dbf"/><stop offset="0.725" stop-color="#2064ac"/><stop offset="0.895" stop-color="#2c4171"/><stop offset="1.000" stop-color="#2c3f6f"/></linearGradient><linearGradient id="b88" x1="0" y1="0" x2="0" y2="1"><stop offset="0.000" stop-color="#509acb"/><stop offset="0.057" stop-color="#98c4e1"/><stop offset="0.127" stop-color="#add0e7"/><stop offset="0.187" stop-color="#80b6d9"/><stop offset="0.246" stop-color="#509acb"/><stop offset="0.433" stop-color="#549ccc"/><stop offset="0.448" stop-color="#7bb3d8"/><stop offset="0.468" stop-color="#eeeff1"/><stop offset="0.476" stop-color="#f8dacd"/><stop offset="0.489" stop-color="#f5b291"/><stop offset="0.503" stop-color="#f4af8e"/><stop offset="0.532" stop-color="#f8d9cb"/><stop offset="0.559" stop-color="#f8d3c1"/><stop offset="0.583" stop-color="#f3ab89"/><stop offset="0.598" stop-color="#f6ba9c"/><stop offset="0.614" stop-color="#f3f0f0"/><stop offset="0.624" stop-color="#c1daed"/><stop offset="0.639" stop-color="#61a4d0"/><stop offset="0.665" stop-color="#317dc0"/><stop offset="0.793" stop-color="#245b9e"/><stop offset="0.899" stop-color="#2c4578"/><stop offset="1.000" stop-color="#2c4376"/></linearGradient><linearGradient id="b89" x1="0" y1="0" x2="0" y2="1"><stop offset="0.000" stop-color="#3884c2"/><stop offset="0.090" stop-color="#9ac5e1"/><stop offset="0.152" stop-color="#a2cae4"/><stop offset="0.214" stop-color="#66a7d2"/><stop offset="0.263" stop-color="#4a95c9"/><stop offset="0.437" stop-color="#509acb"/><stop offset="0.450" stop-color="#7bb4d8"/><stop offset="0.468" stop-color="#ebeef2"/><stop offset="0.476" stop-color="#f7e0d5"/><stop offset="0.491" stop-color="#f6b696"/><stop offset="0.505" stop-color="#f6b99a"/><stop offset="0.530" stop-color="#f7ddd1"/><stop offset="0.556" stop-color="#f8dacd"/><stop offset="0.585" stop-color="#f5b190"/><stop offset="0.598" stop-color="#f7c1a6"/><stop offset="0.612" stop-color="#f4eeed"/><stop offset="0.622" stop-color="#c7deee"/><stop offset="0.639" stop-color="#569ecd"/><stop offset="0.674" stop-color="#2973b7"/><stop offset="0.799" stop-color="#25589a"/><stop offset="0.906" stop-color="#2c4273"/><stop offset="1.000" stop-color="#2c4071"/></linearGradient><linearGradient id="b90" x1="0" y1="0" x2="0" y2="1"><stop offset="0.000" stop-color="#2b76ba"/><stop offset="0.053" stop-color="#64a6d1"/><stop offset="0.107" stop-color="#9ec7e2"/><stop offset="0.164" stop-color="#a7cce5"/><stop offset="0.228" stop-color="#6aa9d3"/><stop offset="0.281" stop-color="#4d97ca"/><stop offset="0.435" stop-color="#529bcc"/><stop offset="0.448" stop-color="#75b0d6"/><stop offset="0.468" stop-color="#eceef1"/><stop offset="0.476" stop-color="#f7dfd5"/><stop offset="0.491" stop-color="#f6b797"/><stop offset="0.505" stop-color="#f6ba9b"/><stop offset="0.530" stop-color="#f7dcd0"/><stop offset="0.559" stop-color="#f8d8c8"/><stop offset="0.585" stop-color="#f5b291"/><stop offset="0.598" stop-color="#f7c2a7"/><stop offset="0.614" stop-color="#f0eff1"/><stop offset="0.624" stop-color="#bcd7eb"/><stop offset="0.639" stop-color="#5ca1cf"/><stop offset="0.674" stop-color="#2a75b9"/><stop offset="0.809" stop-color="#25599a"/><stop offset="0.914" stop-color="#2c4376"/><stop offset="1.000" stop-color="#2c4274"/></linearGradient><linearGradient id="b91" x1="0" y1="0" x2="0" y2="1"><stop offset="0.000" stop-color="#1f63aa"/><stop offset="0.057" stop-color="#448fc6"/><stop offset="0.131" stop-color="#96c3e0"/><stop offset="0.185" stop-color="#97c3e0"/><stop offset="0.263" stop-color="#4b95c9"/><stop offset="0.435" stop-color="#4892c8"/><stop offset="0.448" stop-color="#63a5d1"/><stop offset="0.468" stop-color="#e6ecf3"/><stop offset="0.476" stop-color="#f6e8e3"/><stop offset="0.491" stop-color="#f7c3a9"/><stop offset="0.505" stop-color="#f7c6ad"/><stop offset="0.532" stop-color="#f6e5de"/><stop offset="0.561" stop-color="#f7ded3"/><stop offset="0.585" stop-color="#f6bfa2"/><stop offset="0.598" stop-color="#f7cdb9"/><stop offset="0.612" stop-color="#f0eff1"/><stop offset="0.622" stop-color="#bed9ec"/><stop offset="0.637" stop-color="#539ccc"/><stop offset="0.669" stop-color="#2871b6"/><stop offset="0.797" stop-color="#25599a"/><stop offset="0.912" stop-color="#2c3e6d"/><stop offset="1.000" stop-color="#2d3d6b"/></linearGradient><linearGradient id="b92" x1="0" y1="0" x2="0" y2="1"><stop offset="0.000" stop-color="#215fa4"/><stop offset="0.060" stop-color="#3a86c3"/><stop offset="0.138" stop-color="#9bc6e2"/><stop offset="0.191" stop-color="#a6cce5"/><stop offset="0.253" stop-color="#6baad3"/><stop offset="0.306" stop-color="#4c96ca"/><stop offset="0.437" stop-color="#529bcc"/><stop offset="0.450" stop-color="#7db4d9"/><stop offset="0.468" stop-color="#e9edf2"/><stop offset="0.476" stop-color="#f6e5de"/><stop offset="0.491" stop-color="#f7c2a7"/><stop offset="0.505" stop-color="#f7c4aa"/><stop offset="0.532" stop-color="#f7e1d8"/><stop offset="0.561" stop-color="#f8dbcd"/><stop offset="0.585" stop-color="#f6bda0"/><stop offset="0.600" stop-color="#f8d0bd"/><stop offset="0.614" stop-color="#edeef1"/><stop offset="0.626" stop-color="#a7cce5"/><stop offset="0.639" stop-color="#599fce"/><stop offset="0.674" stop-color="#2a74b8"/><stop offset="0.821" stop-color="#255899"/><stop offset="0.926" stop-color="#2c4375"/><stop offset="1.000" stop-color="#2c4173"/></linearGradient><linearGradient id="b93" x1="0" y1="0" x2="0" y2="1"><stop offset="0.000" stop-color="#285492"/><stop offset="0.060" stop-color="#266eb4"/><stop offset="0.115" stop-color="#599fce"/><stop offset="0.166" stop-color="#95c2e0"/><stop offset="0.218" stop-color="#91c0df"/><stop offset="0.287" stop-color="#4a94c9"/><stop offset="0.433" stop-color="#448fc7"/><stop offset="0.448" stop-color="#5ea2cf"/><stop offset="0.468" stop-color="#e0eaf2"/><stop offset="0.478" stop-color="#f6e9e5"/><stop offset="0.495" stop-color="#f7cdb8"/><stop offset="0.536" stop-color="#f6ebe7"/><stop offset="0.565" stop-color="#f7e1d7"/><stop offset="0.587" stop-color="#f7ccb7"/><stop offset="0.604" stop-color="#f6e6e0"/><stop offset="0.614" stop-color="#e6edf3"/><stop offset="0.626" stop-color="#97c3e0"/><stop offset="0.637" stop-color="#4f99cb"/><stop offset="0.671" stop-color="#266eb4"/><stop offset="0.834" stop-color="#2a518d"/><stop offset="0.932" stop-color="#2d3d6b"/><stop offset="1.000" stop-color="#2d3c69"/></linearGradient><linearGradient id="b94" x1="0" y1="0" x2="0" y2="1"><stop offset="0.000" stop-color="#2a4f8a"/><stop offset="0.080" stop-color="#266eb4"/><stop offset="0.133" stop-color="#579ecd"/><stop offset="0.185" stop-color="#94c2df"/><stop offset="0.234" stop-color="#8cbddd"/><stop offset="0.298" stop-color="#4a94c9"/><stop offset="0.431" stop-color="#418dc6"/><stop offset="0.448" stop-color="#5aa0ce"/><stop offset="0.468" stop-color="#dce8f2"/><stop offset="0.480" stop-color="#f6e9e5"/><stop offset="0.497" stop-color="#f8d5c4"/><stop offset="0.534" stop-color="#f5ecea"/><stop offset="0.567" stop-color="#f7e3db"/><stop offset="0.589" stop-color="#f8d5c5"/><stop offset="0.612" stop-color="#e9edf2"/><stop offset="0.622" stop-color="#b3d3e9"/><stop offset="0.634" stop-color="#549dcc"/><stop offset="0.665" stop-color="#2972b7"/><stop offset="0.743" stop-color="#215fa5"/><stop offset="0.850" stop-color="#2b4c85"/><stop offset="0.949" stop-color="#2d3b68"/><stop offset="1.000" stop-color="#2d3b67"/></linearGradient><linearGradient id="b95" x1="0" y1="0" x2="0" y2="1"><stop offset="0.000" stop-color="#2a518d"/><stop offset="0.092" stop-color="#266fb4"/><stop offset="0.142" stop-color="#569dcd"/><stop offset="0.189" stop-color="#99c5e1"/><stop offset="0.238" stop-color="#a0c8e3"/><stop offset="0.329" stop-color="#4d97ca"/><stop offset="0.437" stop-color="#4e98ca"/><stop offset="0.450" stop-color="#74afd6"/><stop offset="0.468" stop-color="#e1ebf3"/><stop offset="0.480" stop-color="#f6e8e2"/><stop offset="0.497" stop-color="#f8d5c4"/><stop offset="0.540" stop-color="#f6eae7"/><stop offset="0.573" stop-color="#f7dbcf"/><stop offset="0.591" stop-color="#f8d7c7"/><stop offset="0.612" stop-color="#eceef1"/><stop offset="0.624" stop-color="#adcfe7"/><stop offset="0.639" stop-color="#519acb"/><stop offset="0.676" stop-color="#2770b6"/><stop offset="0.840" stop-color="#265696"/><stop offset="0.943" stop-color="#2c4172"/><stop offset="1.000" stop-color="#2c4070"/></linearGradient><linearGradient id="b96" x1="0" y1="0" x2="0" y2="1"><stop offset="0.000" stop-color="#2a4d87"/><stop offset="0.097" stop-color="#1f62aa"/><stop offset="0.146" stop-color="#418cc5"/><stop offset="0.207" stop-color="#97c3e0"/><stop offset="0.255" stop-color="#9bc5e1"/><stop offset="0.339" stop-color="#4b96c9"/><stop offset="0.437" stop-color="#4b95c9"/><stop offset="0.448" stop-color="#63a5d1"/><stop offset="0.470" stop-color="#e5ecf3"/><stop offset="0.491" stop-color="#f7e0d6"/><stop offset="0.515" stop-color="#f6e7e1"/><stop offset="0.563" stop-color="#f6eae6"/><stop offset="0.589" stop-color="#f7ded2"/><stop offset="0.612" stop-color="#e8edf2"/><stop offset="0.622" stop-color="#b6d4ea"/><stop offset="0.637" stop-color="#539ccc"/><stop offset="0.671" stop-color="#2871b6"/><stop offset="0.834" stop-color="#255899"/><stop offset="0.945" stop-color="#2c3f6f"/><stop offset="1.000" stop-color="#2c3e6d"/></linearGradient><linearGradient id="b97" x1="0" y1="0" x2="0" y2="1"><stop offset="0.000" stop-color="#2a4f8a"/><stop offset="0.105" stop-color="#2160a6"/><stop offset="0.156" stop-color="#3d88c4"/><stop offset="0.220" stop-color="#9cc6e2"/><stop offset="0.267" stop-color="#a4cae4"/><stop offset="0.363" stop-color="#4e98ca"/><stop offset="0.437" stop-color="#509acb"/><stop offset="0.450" stop-color="#76b1d7"/><stop offset="0.468" stop-color="#dee9f2"/><stop offset="0.483" stop-color="#f6eae7"/><stop offset="0.503" stop-color="#f7e0d6"/><stop offset="0.546" stop-color="#f5ece9"/><stop offset="0.591" stop-color="#f7e1d7"/><stop offset="0.612" stop-color="#e9edf2"/><stop offset="0.624" stop-color="#accfe7"/><stop offset="0.639" stop-color="#549ccc"/><stop offset="0.676" stop-color="#2972b7"/><stop offset="0.850" stop-color="#255899"/><stop offset="0.955" stop-color="#2c4274"/><stop offset="1.000" stop-color="#2c4172"/></linearGradient><linearGradient id="b98" x1="0" y1="0" x2="0" y2="1"><stop offset="0.000" stop-color="#285492"/><stop offset="0.117" stop-color="#1f63ab"/><stop offset="0.166" stop-color="#3d89c4"/><stop offset="0.199" stop-color="#79b2d7"/><stop offset="0.240" stop-color="#aed0e7"/><stop offset="0.287" stop-color="#afd1e8"/><stop offset="0.386" stop-color="#5da2cf"/><stop offset="0.435" stop-color="#60a4d0"/><stop offset="0.450" stop-color="#89bcdc"/><stop offset="0.468" stop-color="#e5ecf3"/><stop offset="0.489" stop-color="#f7e1d7"/><stop offset="0.520" stop-color="#f7e4dd"/><stop offset="0.569" stop-color="#f7e2d9"/><stop offset="0.595" stop-color="#f7e1d8"/><stop offset="0.614" stop-color="#e8edf2"/><stop offset="0.626" stop-color="#abcee6"/><stop offset="0.641" stop-color="#60a3d0"/><stop offset="0.678" stop-color="#2c78bc"/><stop offset="0.860" stop-color="#235ca0"/><stop offset="0.967" stop-color="#2b487e"/><stop offset="1.000" stop-color="#2b477c"/></linearGradient><linearGradient id="b99" x1="0" y1="0" x2="0" y2="1"><stop offset="0.000" stop-color="#2b4b83"/><stop offset="0.131" stop-color="#25599a"/><stop offset="0.175" stop-color="#2972b7"/><stop offset="0.220" stop-color="#64a5d1"/><stop offset="0.257" stop-color="#99c4e1"/><stop offset="0.304" stop-color="#99c4e1"/><stop offset="0.384" stop-color="#4c96c9"/><stop offset="0.441" stop-color="#4f99cb"/><stop offset="0.454" stop-color="#84b8db"/><stop offset="0.468" stop-color="#d5e5f0"/><stop offset="0.485" stop-color="#f4efee"/><stop offset="0.600" stop-color="#f3efef"/><stop offset="0.614" stop-color="#dbe8f1"/><stop offset="0.626" stop-color="#94c2df"/><stop offset="0.637" stop-color="#519bcb"/><stop offset="0.674" stop-color="#2770b5"/><stop offset="0.860" stop-color="#275695"/><stop offset="0.965" stop-color="#2c3f6f"/><stop offset="1.000" stop-color="#2c3e6e"/></linearGradient><linearGradient id="b100" x1="0" y1="0" x2="0" y2="1"><stop offset="0.000" stop-color="#2b4b84"/><stop offset="0.146" stop-color="#265899"/><stop offset="0.189" stop-color="#2770b5"/><stop offset="0.230" stop-color="#579ecd"/><stop offset="0.269" stop-color="#98c4e1"/><stop offset="0.314" stop-color="#9dc7e2"/><stop offset="0.402" stop-color="#4c96ca"/><stop offset="0.441" stop-color="#519acb"/><stop offset="0.454" stop-color="#85b9db"/><stop offset="0.468" stop-color="#d5e4f0"/><stop offset="0.485" stop-color="#f3f0f0"/><stop offset="0.606" stop-color="#eceef1"/><stop offset="0.618" stop-color="#c9dfee"/><stop offset="0.637" stop-color="#539ccc"/><stop offset="0.674" stop-color="#2871b6"/><stop offset="0.864" stop-color="#265797"/><stop offset="0.971" stop-color="#2c4070"/><stop offset="1.000" stop-color="#2c3f6f"/></linearGradient><linearGradient id="b101" x1="0" y1="0" x2="0" y2="1"><stop offset="0.000" stop-color="#2a4e88"/><stop offset="0.162" stop-color="#25599b"/><stop offset="0.205" stop-color="#2871b7"/><stop offset="0.244" stop-color="#599fce"/><stop offset="0.281" stop-color="#9ac5e1"/><stop offset="0.326" stop-color="#a5cbe4"/><stop offset="0.423" stop-color="#4f99cb"/><stop offset="0.444" stop-color="#5fa3d0"/><stop offset="0.460" stop-color="#afd1e8"/><stop offset="0.474" stop-color="#e8edf2"/><stop offset="0.515" stop-color="#f4eeec"/><stop offset="0.606" stop-color="#edeef1"/><stop offset="0.618" stop-color="#cce0ef"/><stop offset="0.639" stop-color="#529bcc"/><stop offset="0.676" stop-color="#2972b7"/><stop offset="0.871" stop-color="#25599b"/><stop offset="0.977" stop-color="#2c4274"/><stop offset="1.000" stop-color="#2c4273"/></linearGradient><linearGradient id="b102" x1="0" y1="0" x2="0" y2="1"><stop offset="0.000" stop-color="#2a4e89"/><stop offset="0.177" stop-color="#255899"/><stop offset="0.222" stop-color="#2871b6"/><stop offset="0.261" stop-color="#5ba0ce"/><stop offset="0.296" stop-color="#9bc5e1"/><stop offset="0.341" stop-color="#a7cce5"/><stop offset="0.431" stop-color="#589fcd"/><stop offset="0.448" stop-color="#71aed5"/><stop offset="0.470" stop-color="#dee9f2"/><stop offset="0.495" stop-color="#f4eeec"/><stop offset="0.606" stop-color="#edeef1"/><stop offset="0.618" stop-color="#cce0ef"/><stop offset="0.639" stop-color="#559dcc"/><stop offset="0.676" stop-color="#2973b8"/><stop offset="0.875" stop-color="#245a9d"/><stop offset="0.984" stop-color="#2c4376"/><stop offset="1.000" stop-color="#2c4275"/></linearGradient><linearGradient id="b103" x1="0" y1="0" x2="0" y2="1"><stop offset="0.000" stop-color="#2a4c86"/><stop offset="0.191" stop-color="#275595"/><stop offset="0.240" stop-color="#2770b5"/><stop offset="0.277" stop-color="#549ccc"/><stop offset="0.314" stop-color="#98c4e1"/><stop offset="0.357" stop-color="#a2cae4"/><stop offset="0.435" stop-color="#5ba1ce"/><stop offset="0.450" stop-color="#76b1d7"/><stop offset="0.470" stop-color="#dae7f1"/><stop offset="0.495" stop-color="#f3f0f0"/><stop offset="0.606" stop-color="#eaeef2"/><stop offset="0.620" stop-color="#bed9ec"/><stop offset="0.637" stop-color="#569dcd"/><stop offset="0.674" stop-color="#2972b7"/><stop offset="0.881" stop-color="#25599a"/><stop offset="0.990" stop-color="#2c4172"/><stop offset="1.000" stop-color="#2c4172"/></linearGradient><linearGradient id="b104" x1="0" y1="0" x2="0" y2="1"><stop offset="0.000" stop-color="#2b4c86"/><stop offset="0.207" stop-color="#275593"/><stop offset="0.257" stop-color="#276fb5"/><stop offset="0.294" stop-color="#539ccc"/><stop offset="0.329" stop-color="#97c3e0"/><stop offset="0.372" stop-color="#a2cae4"/><stop offset="0.439" stop-color="#67a8d2"/><stop offset="0.452" stop-color="#84b8db"/><stop offset="0.470" stop-color="#d9e6f1"/><stop offset="0.493" stop-color="#f1f0f0"/><stop offset="0.606" stop-color="#e9edf2"/><stop offset="0.620" stop-color="#bcd8eb"/><stop offset="0.637" stop-color="#559dcd"/><stop offset="0.674" stop-color="#2972b7"/><stop offset="0.887" stop-color="#25589a"/><stop offset="0.996" stop-color="#2c4172"/><stop offset="1.000" stop-color="#2c4172"/></linearGradient><linearGradient id="b105" x1="0" y1="0" x2="0" y2="1"><stop offset="0.000" stop-color="#2a4f8a"/><stop offset="0.226" stop-color="#265797"/><stop offset="0.271" stop-color="#2770b5"/><stop offset="0.306" stop-color="#519bcb"/><stop offset="0.341" stop-color="#99c5e1"/><stop offset="0.384" stop-color="#aacee6"/><stop offset="0.444" stop-color="#7fb6d9"/><stop offset="0.460" stop-color="#b4d3e9"/><stop offset="0.476" stop-color="#e9edf2"/><stop offset="0.561" stop-color="#f3f0f0"/><stop offset="0.608" stop-color="#e8edf2"/><stop offset="0.620" stop-color="#c2dbed"/><stop offset="0.637" stop-color="#5da2cf"/><stop offset="0.671" stop-color="#2c77bb"/><stop offset="0.893" stop-color="#245b9e"/><stop offset="1.000" stop-color="#2c4477"/></linearGradient><linearGradient id="b106" x1="0" y1="0" x2="0" y2="1"><stop offset="0.000" stop-color="#2a4e89"/><stop offset="0.242" stop-color="#265696"/><stop offset="0.290" stop-color="#2870b6"/><stop offset="0.324" stop-color="#559dcd"/><stop offset="0.357" stop-color="#99c4e1"/><stop offset="0.398" stop-color="#a9cde6"/><stop offset="0.446" stop-color="#8cbddd"/><stop offset="0.460" stop-color="#b5d4e9"/><stop offset="0.476" stop-color="#e7edf2"/><stop offset="0.577" stop-color="#f2f0f0"/><stop offset="0.610" stop-color="#e4ecf3"/><stop offset="0.622" stop-color="#b2d2e8"/><stop offset="0.639" stop-color="#549ccc"/><stop offset="0.678" stop-color="#2972b7"/><stop offset="0.895" stop-color="#235b9f"/><stop offset="1.000" stop-color="#2c4477"/></linearGradient><linearGradient id="b107" x1="0" y1="0" x2="0" y2="1"><stop offset="0.000" stop-color="#2b4a82"/><stop offset="0.257" stop-color="#29518e"/><stop offset="0.308" stop-color="#256db3"/><stop offset="0.345" stop-color="#529bcc"/><stop offset="0.380" stop-color="#94c2e0"/><stop offset="0.421" stop-color="#99c4e1"/><stop offset="0.448" stop-color="#8cbddd"/><stop offset="0.462" stop-color="#b6d4e9"/><stop offset="0.480" stop-color="#e6edf3"/><stop offset="0.604" stop-color="#e6ecf3"/><stop offset="0.618" stop-color="#bfd9ec"/><stop offset="0.637" stop-color="#4e98ca"/><stop offset="0.676" stop-color="#266eb4"/><stop offset="0.903" stop-color="#265797"/><stop offset="1.000" stop-color="#2c4070"/></linearGradient><linearGradient id="b108" x1="0" y1="0" x2="0" y2="1"><stop offset="0.000" stop-color="#2a4d86"/><stop offset="0.273" stop-color="#285392"/><stop offset="0.322" stop-color="#266eb4"/><stop offset="0.357" stop-color="#529bcb"/><stop offset="0.390" stop-color="#96c3e0"/><stop offset="0.429" stop-color="#a0c8e3"/><stop offset="0.452" stop-color="#9fc8e3"/><stop offset="0.478" stop-color="#e6ecf3"/><stop offset="0.604" stop-color="#e7edf2"/><stop offset="0.618" stop-color="#c3dced"/><stop offset="0.637" stop-color="#549dcc"/><stop offset="0.676" stop-color="#2871b6"/><stop offset="0.908" stop-color="#245a9c"/><stop offset="1.000" stop-color="#2c4375"/></linearGradient><linearGradient id="b109" x1="0" y1="0" x2="0" y2="1"><stop offset="0.000" stop-color="#2a4d87"/><stop offset="0.290" stop-color="#285492"/><stop offset="0.339" stop-color="#266fb4"/><stop offset="0.374" stop-color="#549ccc"/><stop offset="0.407" stop-color="#97c3e0"/><stop offset="0.454" stop-color="#a8cde5"/><stop offset="0.480" stop-color="#e6edf3"/><stop offset="0.604" stop-color="#e6edf3"/><stop offset="0.618" stop-color="#c2dbed"/><stop offset="0.637" stop-color="#559dcc"/><stop offset="0.676" stop-color="#2871b7"/><stop offset="0.914" stop-color="#245a9d"/><stop offset="1.000" stop-color="#2c4477"/></linearGradient><linearGradient id="b110" x1="0" y1="0" x2="0" y2="1"><stop offset="0.000" stop-color="#2b4a81"/><stop offset="0.304" stop-color="#2a508c"/><stop offset="0.357" stop-color="#266db3"/><stop offset="0.394" stop-color="#579ecd"/><stop offset="0.427" stop-color="#91c0df"/><stop offset="0.456" stop-color="#a5cbe4"/><stop offset="0.480" stop-color="#e0eaf2"/><stop offset="0.602" stop-color="#e2ebf3"/><stop offset="0.618" stop-color="#b7d5ea"/><stop offset="0.634" stop-color="#529bcc"/><stop offset="0.674" stop-color="#276fb5"/><stop offset="0.920" stop-color="#265798"/><stop offset="1.000" stop-color="#2c4273"/></linearGradient><linearGradient id="b111" x1="0" y1="0" x2="0" y2="1"><stop offset="0.000" stop-color="#2a4e88"/><stop offset="0.322" stop-color="#285493"/><stop offset="0.370" stop-color="#266eb4"/><stop offset="0.405" stop-color="#549ccc"/><stop offset="0.435" stop-color="#91c0df"/><stop offset="0.458" stop-color="#b0d1e8"/><stop offset="0.483" stop-color="#e4ecf3"/><stop offset="0.604" stop-color="#e1ebf3"/><stop offset="0.618" stop-color="#bcd8eb"/><stop offset="0.637" stop-color="#549dcc"/><stop offset="0.676" stop-color="#2972b7"/><stop offset="0.924" stop-color="#235b9e"/><stop offset="1.000" stop-color="#2b467b"/></linearGradient><linearGradient id="b112" x1="0" y1="0" x2="0" y2="1"><stop offset="0.000" stop-color="#2b4a82"/><stop offset="0.337" stop-color="#2a518d"/><stop offset="0.388" stop-color="#256db3"/><stop offset="0.425" stop-color="#569dcd"/><stop offset="0.464" stop-color="#b4d4e9"/><stop offset="0.485" stop-color="#dbe8f1"/><stop offset="0.595" stop-color="#dee9f2"/><stop offset="0.614" stop-color="#c2dbed"/><stop offset="0.634" stop-color="#509acb"/><stop offset="0.676" stop-color="#266eb4"/><stop offset="0.930" stop-color="#25589a"/><stop offset="1.000" stop-color="#2c4477"/></linearGradient><linearGradient id="b113" x1="0" y1="0" x2="0" y2="1"><stop offset="0.000" stop-color="#2a508b"/><stop offset="0.355" stop-color="#275696"/><stop offset="0.400" stop-color="#2770b5"/><stop offset="0.435" stop-color="#599fce"/><stop offset="0.474" stop-color="#d0e2f0"/><stop offset="0.517" stop-color="#e5ecf3"/><stop offset="0.604" stop-color="#d8e6f1"/><stop offset="0.618" stop-color="#b4d4e9"/><stop offset="0.637" stop-color="#579ecd"/><stop offset="0.678" stop-color="#2a73b8"/><stop offset="0.938" stop-color="#235da0"/><stop offset="1.000" stop-color="#2b4b83"/></linearGradient><linearGradient id="b114" x1="0" y1="0" x2="0" y2="1"><stop offset="0.000" stop-color="#2a4d88"/><stop offset="0.370" stop-color="#285492"/><stop offset="0.417" stop-color="#266eb4"/><stop offset="0.446" stop-color="#4d97ca"/><stop offset="0.474" stop-color="#c3dced"/><stop offset="0.522" stop-color="#dae7f1"/><stop offset="0.604" stop-color="#cce0ef"/><stop offset="0.618" stop-color="#a6cce5"/><stop offset="0.637" stop-color="#4e98ca"/><stop offset="0.682" stop-color="#276fb4"/><stop offset="0.940" stop-color="#235c9f"/><stop offset="1.000" stop-color="#2b4a81"/></linearGradient><linearGradient id="b115" x1="0" y1="0" x2="0" y2="1"><stop offset="0.000" stop-color="#2a4d87"/><stop offset="0.386" stop-color="#285392"/><stop offset="0.431" stop-color="#266db3"/><stop offset="0.450" stop-color="#418cc6"/><stop offset="0.460" stop-color="#71aed5"/><stop offset="0.472" stop-color="#add0e7"/><stop offset="0.491" stop-color="#c9deee"/><stop offset="0.577" stop-color="#cee1ef"/><stop offset="0.610" stop-color="#b6d4e9"/><stop offset="0.626" stop-color="#71add5"/><stop offset="0.637" stop-color="#4c96ca"/><stop offset="0.684" stop-color="#266eb4"/><stop offset="0.945" stop-color="#235c9f"/><stop offset="1.000" stop-color="#2b4b83"/></linearGradient><linearGradient id="b116" x1="0" y1="0" x2="0" y2="1"><stop offset="0.000" stop-color="#2b4b84"/><stop offset="0.398" stop-color="#2a518d"/><stop offset="0.444" stop-color="#256db3"/><stop offset="0.458" stop-color="#4691c7"/><stop offset="0.474" stop-color="#9ec7e2"/><stop offset="0.501" stop-color="#bfdaec"/><stop offset="0.577" stop-color="#c2dbed"/><stop offset="0.610" stop-color="#a5cbe4"/><stop offset="0.624" stop-color="#6dabd4"/><stop offset="0.634" stop-color="#4a94c9"/><stop offset="0.686" stop-color="#246bb1"/><stop offset="0.951" stop-color="#245a9c"/><stop offset="1.000" stop-color="#2b4b83"/></linearGradient><linearGradient id="b117" x1="0" y1="0" x2="0" y2="1"><stop offset="0.000" stop-color="#2a4d86"/><stop offset="0.415" stop-color="#295290"/><stop offset="0.450" stop-color="#266eb4"/><stop offset="0.462" stop-color="#4a95c9"/><stop offset="0.476" stop-color="#99c5e1"/><stop offset="0.507" stop-color="#bbd7eb"/><stop offset="0.569" stop-color="#bfd9ec"/><stop offset="0.610" stop-color="#9ec7e2"/><stop offset="0.634" stop-color="#4a95c9"/><stop offset="0.688" stop-color="#256cb2"/><stop offset="0.955" stop-color="#235c9f"/><stop offset="1.000" stop-color="#2a4e89"/></linearGradient><linearGradient id="b118" x1="0" y1="0" x2="0" y2="1"><stop offset="0.000" stop-color="#2b477d"/><stop offset="0.425" stop-color="#2a4d87"/><stop offset="0.452" stop-color="#1f64ab"/><stop offset="0.464" stop-color="#3f8ac5"/><stop offset="0.483" stop-color="#8fbfde"/><stop offset="0.542" stop-color="#b3d3e9"/><stop offset="0.608" stop-color="#8dbedd"/><stop offset="0.630" stop-color="#4590c7"/><stop offset="0.692" stop-color="#2064ac"/><stop offset="0.963" stop-color="#265696"/><stop offset="1.000" stop-color="#2b4b83"/></linearGradient><linearGradient id="b119" x1="0" y1="0" x2="0" y2="1"><stop offset="0.000" stop-color="#2b4a81"/><stop offset="0.431" stop-color="#2a4f8a"/><stop offset="0.456" stop-color="#246cb2"/><stop offset="0.468" stop-color="#4d97ca"/><stop offset="0.483" stop-color="#8fbfde"/><stop offset="0.538" stop-color="#b4d4e9"/><stop offset="0.606" stop-color="#91c0df"/><stop offset="0.632" stop-color="#4691c7"/><stop offset="0.694" stop-color="#2267ae"/><stop offset="0.967" stop-color="#25599b"/><stop offset="1.000" stop-color="#2a4f8b"/></linearGradient><linearGradient id="b120" x1="0" y1="0" x2="0" y2="1"><stop offset="0.000" stop-color="#2a4e88"/><stop offset="0.435" stop-color="#285391"/><stop offset="0.456" stop-color="#266db3"/><stop offset="0.468" stop-color="#509acb"/><stop offset="0.480" stop-color="#90c0de"/><stop offset="0.524" stop-color="#b8d5ea"/><stop offset="0.575" stop-color="#b0d1e8"/><stop offset="0.612" stop-color="#8ebede"/><stop offset="0.632" stop-color="#4c97ca"/><stop offset="0.688" stop-color="#266db3"/><stop offset="0.973" stop-color="#235da1"/><stop offset="1.000" stop-color="#275595"/></linearGradient><linearGradient id="b121" x1="0" y1="0" x2="0" y2="1"><stop offset="0.000" stop-color="#2b477c"/><stop offset="0.437" stop-color="#2b4c85"/><stop offset="0.458" stop-color="#2369af"/><stop offset="0.472" stop-color="#509acb"/><stop offset="0.487" stop-color="#85b9db"/><stop offset="0.540" stop-color="#a9cde6"/><stop offset="0.604" stop-color="#85b9db"/><stop offset="0.632" stop-color="#3f8bc5"/><stop offset="0.700" stop-color="#1f63aa"/><stop offset="0.979" stop-color="#265696"/><stop offset="1.000" stop-color="#2a518d"/></linearGradient><linearGradient id="b122" x1="0" y1="0" x2="0" y2="1"><stop offset="0.000" stop-color="#2a4f8b"/><stop offset="0.439" stop-color="#275594"/><stop offset="0.456" stop-color="#256cb2"/><stop offset="0.468" stop-color="#4e98ca"/><stop offset="0.480" stop-color="#8fbfde"/><stop offset="0.522" stop-color="#b8d5ea"/><stop offset="0.571" stop-color="#b3d3e9"/><stop offset="0.612" stop-color="#8dbedd"/><stop offset="0.634" stop-color="#4b96c9"/><stop offset="0.690" stop-color="#266fb4"/><stop offset="0.988" stop-color="#225ea2"/><stop offset="1.000" stop-color="#245a9d"/></linearGradient><linearGradient id="c0" x1="0" y1="0" x2="0" y2="1"><stop offset="0.000" stop-color="#225ea3"/><stop offset="0.076" stop-color="#1f63ab"/><stop offset="0.121" stop-color="#2f7cbf"/><stop offset="0.152" stop-color="#4a94c9"/><stop offset="0.176" stop-color="#5da2cf"/><stop offset="0.195" stop-color="#6baad3"/><stop offset="0.285" stop-color="#8bbddd"/><stop offset="0.490" stop-color="#aacee6"/><stop offset="0.670" stop-color="#c4dced"/><stop offset="0.697" stop-color="#eeeff1"/><stop offset="0.705" stop-color="#f6e9e4"/><stop offset="0.715" stop-color="#f8d8ca"/><stop offset="0.725" stop-color="#f7c4aa"/><stop offset="0.732" stop-color="#f5b392"/><stop offset="0.744" stop-color="#ec8e6a"/><stop offset="0.754" stop-color="#de674e"/><stop offset="0.799" stop-color="#cb3f38"/><stop offset="0.836" stop-color="#c03432"/><stop offset="0.865" stop-color="#cb4139"/><stop offset="0.869" stop-color="#ce463c"/><stop offset="0.883" stop-color="#e88161"/><stop offset="0.889" stop-color="#ed906c"/><stop offset="0.902" stop-color="#f6bc9d"/><stop offset="0.912" stop-color="#f6ebe8"/><stop offset="0.914" stop-color="#f3f0f0"/><stop offset="0.922" stop-color="#dbe8f1"/><stop offset="0.936" stop-color="#9dc7e2"/><stop offset="0.945" stop-color="#72aed5"/><stop offset="0.953" stop-color="#509acb"/><stop offset="0.969" stop-color="#307dbf"/><stop offset="0.996" stop-color="#2064ac"/><stop offset="1.000" stop-color="#2062a9"/></linearGradient><linearGradient id="c1" x1="0" y1="0" x2="0" y2="1"><stop offset="0.000" stop-color="#225ea3"/><stop offset="0.076" stop-color="#1f63ab"/><stop offset="0.121" stop-color="#2f7cbf"/><stop offset="0.152" stop-color="#4a94c9"/><stop offset="0.176" stop-color="#5da2cf"/><stop offset="0.195" stop-color="#6baad3"/><stop offset="0.285" stop-color="#8bbddd"/><stop offset="0.490" stop-color="#aacee6"/><stop offset="0.670" stop-color="#c4dced"/><stop offset="0.697" stop-color="#efeff1"/><stop offset="0.705" stop-color="#f6e8e3"/><stop offset="0.723" stop-color="#f7c6ae"/><stop offset="0.732" stop-color="#f4b08f"/><stop offset="0.744" stop-color="#ec8c69"/><stop offset="0.754" stop-color="#de664e"/><stop offset="0.801" stop-color="#ca3e37"/><stop offset="0.836" stop-color="#c03432"/><stop offset="0.865" stop-color="#cb4039"/><stop offset="0.869" stop-color="#ce453b"/><stop offset="0.883" stop-color="#e77f5f"/><stop offset="0.889" stop-color="#ec8e6a"/><stop offset="0.902" stop-color="#f6ba9b"/><stop offset="0.908" stop-color="#f8d7c8"/><stop offset="0.912" stop-color="#f6eae6"/><stop offset="0.914" stop-color="#f3efef"/><stop offset="0.922" stop-color="#dce8f2"/><stop offset="0.939" stop-color="#93c1df"/><stop offset="0.945" stop-color="#72aed5"/><stop offset="0.953" stop-color="#509acb"/><stop offset="0.969" stop-color="#307dbf"/><stop offset="0.996" stop-color="#2064ac"/><stop offset="1.000" stop-color="#2062a9"/></linearGradient><linearGradient id="c2" x1="0" y1="0" x2="0" y2="1"><stop offset="0.000" stop-color="#225ea3"/><stop offset="0.076" stop-color="#1f63ab"/><stop offset="0.121" stop-color="#2f7cbf"/><stop offset="0.152" stop-color="#4a94c9"/><stop offset="0.176" stop-color="#5da2cf"/><stop offset="0.195" stop-color="#6baad3"/><stop offset="0.285" stop-color="#8bbddd"/><stop offset="0.490" stop-color="#aacee6"/><stop offset="0.670" stop-color="#c4dced"/><stop offset="0.697" stop-color="#efeff1"/><stop offset="0.703" stop-color="#f5ebe8"/><stop offset="0.723" stop-color="#f7c4aa"/><stop offset="0.732" stop-color="#f4ae8c"/><stop offset="0.742" stop-color="#ee936e"/><stop offset="0.754" stop-color="#de664e"/><stop offset="0.803" stop-color="#ca3d37"/><stop offset="0.836" stop-color="#c03432"/><stop offset="0.865" stop-color="#cb4038"/><stop offset="0.869" stop-color="#cd453b"/><stop offset="0.883" stop-color="#e67c5d"/><stop offset="0.889" stop-color="#eb8c68"/><stop offset="0.895" stop-color="#f2a37f"/><stop offset="0.904" stop-color="#f7c0a4"/><stop offset="0.912" stop-color="#f6e9e5"/><stop offset="0.914" stop-color="#f4efee"/><stop offset="0.922" stop-color="#dce8f2"/><stop offset="0.939" stop-color="#93c1df"/><stop offset="0.945" stop-color="#72aed5"/><stop offset="0.953" stop-color="#509acb"/><stop offset="0.969" stop-color="#307dbf"/><stop offset="0.996" stop-color="#2064ac"/><stop offset="1.000" stop-color="#2062a9"/></linearGradient><linearGradient id="c3" x1="0" y1="0" x2="0" y2="1"><stop offset="0.000" stop-color="#225ea3"/><stop offset="0.076" stop-color="#1f63ab"/><stop offset="0.121" stop-color="#2f7cbf"/><stop offset="0.152" stop-color="#4a94c9"/><stop offset="0.176" stop-color="#5da2cf"/><stop offset="0.195" stop-color="#6baad3"/><stop offset="0.285" stop-color="#8bbddd"/><stop offset="0.490" stop-color="#aacee6"/><stop offset="0.670" stop-color="#c4dced"/><stop offset="0.697" stop-color="#efeff1"/><stop offset="0.703" stop-color="#f6ebe7"/><stop offset="0.725" stop-color="#f6bc9e"/><stop offset="0.742" stop-color="#ed916c"/><stop offset="0.754" stop-color="#de664d"/><stop offset="0.803" stop-color="#ca3d37"/><stop offset="0.836" stop-color="#c03432"/><stop offset="0.865" stop-color="#cb4038"/><stop offset="0.869" stop-color="#cd443b"/><stop offset="0.885" stop-color="#e88060"/><stop offset="0.889" stop-color="#eb8967"/><stop offset="0.895" stop-color="#f1a27e"/><stop offset="0.904" stop-color="#f6bea1"/><stop offset="0.912" stop-color="#f6e8e3"/><stop offset="0.914" stop-color="#f4eeed"/><stop offset="0.922" stop-color="#dde8f2"/><stop offset="0.939" stop-color="#93c1df"/><stop offset="0.945" stop-color="#72aed5"/><stop offset="0.953" stop-color="#509acb"/><stop offset="0.969" stop-color="#307dbf"/><stop offset="0.996" stop-color="#2064ac"/><stop offset="1.000" stop-color="#2062a9"/></linearGradient><linearGradient id="c4" x1="0" y1="0" x2="0" y2="1"><stop offset="0.000" stop-color="#225ea3"/><stop offset="0.076" stop-color="#1f63ab"/><stop offset="0.121" stop-color="#2f7cbf"/><stop offset="0.152" stop-color="#4a94c9"/><stop offset="0.176" stop-color="#5da2cf"/><stop offset="0.195" stop-color="#6baad3"/><stop offset="0.285" stop-color="#8bbddd"/><stop offset="0.490" stop-color="#aacee6"/><stop offset="0.670" stop-color="#c4dced"/><stop offset="0.697" stop-color="#efeff1"/><stop offset="0.703" stop-color="#f6eae7"/><stop offset="0.727" stop-color="#f5b392"/><stop offset="0.742" stop-color="#ec8f6b"/><stop offset="0.754" stop-color="#de654d"/><stop offset="0.803" stop-color="#ca3d37"/><stop offset="0.836" stop-color="#c03432"/><stop offset="0.865" stop-color="#cb4038"/><stop offset="0.869" stop-color="#cd443a"/><stop offset="0.885" stop-color="#e77e5e"/><stop offset="0.889" stop-color="#ea8765"/><stop offset="0.898" stop-color="#f2a784"/><stop offset="0.904" stop-color="#f6bc9e"/><stop offset="0.912" stop-color="#f6e7e1"/><stop offset="0.914" stop-color="#f4eeec"/><stop offset="0.920" stop-color="#e5ecf3"/><stop offset="0.936" stop-color="#9dc7e2"/><stop offset="0.945" stop-color="#72aed5"/><stop offset="0.953" stop-color="#509acb"/><stop offset="0.969" stop-color="#307dbf"/><stop offset="0.996" stop-color="#2064ac"/><stop offset="1.000" stop-color="#2062a9"/></linearGradient><linearGradient id="c5" x1="0" y1="0" x2="0" y2="1"><stop offset="0.000" stop-color="#225ea3"/><stop offset="0.076" stop-color="#1f63ab"/><stop offset="0.121" stop-color="#2f7cbf"/><stop offset="0.152" stop-color="#4a94c9"/><stop offset="0.176" stop-color="#5da2cf"/><stop offset="0.195" stop-color="#6baad3"/><stop offset="0.285" stop-color="#8bbddd"/><stop offset="0.490" stop-color="#aacee6"/><stop offset="0.670" stop-color="#c4dced"/><stop offset="0.697" stop-color="#efeff1"/><stop offset="0.703" stop-color="#f6eae6"/><stop offset="0.730" stop-color="#f3ab88"/><stop offset="0.742" stop-color="#ec8d69"/><stop offset="0.754" stop-color="#dd654d"/><stop offset="0.803" stop-color="#ca3d37"/><stop offset="0.836" stop-color="#c03432"/><stop offset="0.867" stop-color="#cc4139"/><stop offset="0.871" stop-color="#d04a3e"/><stop offset="0.887" stop-color="#e88160"/><stop offset="0.889" stop-color="#e98564"/><stop offset="0.895" stop-color="#f19f7a"/><stop offset="0.904" stop-color="#f6ba9b"/><stop offset="0.912" stop-color="#f6e6df"/><stop offset="0.914" stop-color="#f4edeb"/><stop offset="0.920" stop-color="#e6ecf3"/><stop offset="0.936" stop-color="#9dc7e2"/><stop offset="0.945" stop-color="#72aed5"/><stop offset="0.953" stop-color="#509acb"/><stop offset="0.969" stop-color="#307dbf"/><stop offset="0.996" stop-color="#2064ac"/><stop offset="1.000" stop-color="#2062a9"/></linearGradient><linearGradient id="c6" x1="0" y1="0" x2="0" y2="1"><stop offset="0.000" stop-color="#225ea3"/><stop offset="0.076" stop-color="#1f63ab"/><stop offset="0.121" stop-color="#2f7cbf"/><stop offset="0.152" stop-color="#4a94c9"/><stop offset="0.176" stop-color="#5da2cf"/><stop offset="0.195" stop-color="#6baad3"/><stop offset="0.285" stop-color="#8bbddd"/><stop offset="0.490" stop-color="#aacee6"/><stop offset="0.670" stop-color="#c4dced"/><stop offset="0.697" stop-color="#efeff1"/><stop offset="0.703" stop-color="#f6eae6"/><stop offset="0.723" stop-color="#f6b999"/><stop offset="0.736" stop-color="#f09c77"/><stop offset="0.754" stop-color="#dd644d"/><stop offset="0.805" stop-color="#c93c36"/><stop offset="0.836" stop-color="#c03432"/><stop offset="0.867" stop-color="#cb4139"/><stop offset="0.871" stop-color="#d04a3e"/><stop offset="0.887" stop-color="#e77e5f"/><stop offset="0.889" stop-color="#e88362"/><stop offset="0.895" stop-color="#f19e79"/><stop offset="0.904" stop-color="#f6b898"/><stop offset="0.914" stop-color="#f5edea"/><stop offset="0.918" stop-color="#eceef1"/><stop offset="0.930" stop-color="#bbd7eb"/><stop offset="0.941" stop-color="#87badc"/><stop offset="0.945" stop-color="#72aed5"/><stop offset="0.953" stop-color="#509acb"/><stop offset="0.969" stop-color="#307dbf"/><stop offset="0.996" stop-color="#2064ac"/><stop offset="1.000" stop-color="#2062a9"/></linearGradient><linearGradient id="c7" x1="0" y1="0" x2="0" y2="1"><stop offset="0.000" stop-color="#225ea3"/><stop offset="0.076" stop-color="#1f63ab"/><stop offset="0.121" stop-color="#2f7cbf"/><stop offset="0.152" stop-color="#4a94c9"/><stop offset="0.176" stop-color="#5da2cf"/><stop offset="0.195" stop-color="#6baad3"/><stop offset="0.285" stop-color="#8bbddd"/><stop offset="0.490" stop-color="#aacee6"/><stop offset="0.670" stop-color="#c4dced"/><stop offset="0.695" stop-color="#ebeef2"/><stop offset="0.701" stop-color="#f5edea"/><stop offset="0.723" stop-color="#f6b696"/><stop offset="0.736" stop-color="#f09a75"/><stop offset="0.754" stop-color="#dd644d"/><stop offset="0.805" stop-color="#c93c36"/><stop offset="0.836" stop-color="#c03432"/><stop offset="0.869" stop-color="#cc423a"/><stop offset="0.887" stop-color="#e67c5d"/><stop offset="0.889" stop-color="#e88160"/><stop offset="0.895" stop-color="#f09c77"/><stop offset="0.904" stop-color="#f6b696"/><stop offset="0.914" stop-color="#f5ecea"/><stop offset="0.918" stop-color="#eceef1"/><stop offset="0.930" stop-color="#bbd7eb"/><stop offset="0.941" stop-color="#87badc"/><stop offset="0.945" stop-color="#72aed5"/><stop offset="0.953" stop-color="#509acb"/><stop offset="0.969" stop-color="#307dbf"/><stop offset="0.996" stop-color="#2064ac"/><stop offset="1.000" stop-color="#2062a9"/></linearGradient><linearGradient id="c8" x1="0" y1="0" x2="0" y2="1"><stop offset="0.000" stop-color="#225ea3"/><stop offset="0.076" stop-color="#1f63ab"/><stop offset="0.121" stop-color="#2f7cbf"/><stop offset="0.152" stop-color="#4a94c9"/><stop offset="0.176" stop-color="#5da2cf"/><stop offset="0.195" stop-color="#6baad3"/><stop offset="0.285" stop-color="#8bbddd"/><stop offset="0.490" stop-color="#aacee6"/><stop offset="0.670" stop-color="#c4dced"/><stop offset="0.695" stop-color="#ebeef2"/><stop offset="0.701" stop-color="#f5ecea"/><stop offset="0.723" stop-color="#f5b393"/><stop offset="0.734" stop-color="#f09c77"/><stop offset="0.754" stop-color="#dd644c"/><stop offset="0.805" stop-color="#c93c36"/><stop offset="0.836" stop-color="#c03432"/><stop offset="0.869" stop-color="#cc4239"/><stop offset="0.887" stop-color="#e57a5b"/><stop offset="0.889" stop-color="#e77e5f"/><stop offset="0.895" stop-color="#f09b76"/><stop offset="0.904" stop-color="#f5b494"/><stop offset="0.914" stop-color="#f5ece9"/><stop offset="0.918" stop-color="#edeef1"/><stop offset="0.930" stop-color="#bbd7eb"/><stop offset="0.941" stop-color="#87badc"/><stop offset="0.945" stop-color="#72aed5"/><stop offset="0.953" stop-color="#509acb"/><stop offset="0.969" stop-color="#307dbf"/><stop offset="0.996" stop-color="#2064ac"/><stop offset="1.000" stop-color="#2062a9"/></linearGradient><linearGradient id="c9" x1="0" y1="0" x2="0" y2="1"><stop offset="0.000" stop-color="#225ea3"/><stop offset="0.076" stop-color="#1f63ab"/><stop offset="0.121" stop-color="#2f7cbf"/><stop offset="0.152" stop-color="#4a94c9"/><stop offset="0.176" stop-color="#5da2cf"/><stop offset="0.195" stop-color="#6baad3"/><stop offset="0.285" stop-color="#8bbddd"/><stop offset="0.490" stop-color="#aacee6"/><stop offset="0.670" stop-color="#c4dced"/><stop offset="0.695" stop-color="#ebeef2"/><stop offset="0.701" stop-color="#f5ece9"/><stop offset="0.721" stop-color="#f6b696"/><stop offset="0.732" stop-color="#f09d78"/><stop offset="0.744" stop-color="#e77f5f"/><stop offset="0.754" stop-color="#dd634c"/><stop offset="0.807" stop-color="#c83b35"/><stop offset="0.836" stop-color="#c03432"/><stop offset="0.869" stop-color="#cc4139"/><stop offset="0.889" stop-color="#e67c5d"/><stop offset="0.895" stop-color="#f09974"/><stop offset="0.904" stop-color="#f5b392"/><stop offset="0.910" stop-color="#f8d5c5"/><stop offset="0.914" stop-color="#f5ebe8"/><stop offset="0.918" stop-color="#edeef1"/><stop offset="0.930" stop-color="#bbd7eb"/><stop offset="0.941" stop-color="#87badc"/><stop offset="0.945" stop-color="#72aed5"/><stop offset="0.953" stop-color="#509acb"/><stop offset="0.969" stop-color="#307dbf"/><stop offset="0.996" stop-color="#2064ac"/><stop offset="1.000" stop-color="#2062a9"/></linearGradient><linearGradient id="d0" x1="0" y1="0" x2="0" y2="1"><stop offset="0.000" stop-color="#e16c51"/><stop offset="0.043" stop-color="#df674e"/><stop offset="0.160" stop-color="#db604a"/><stop offset="0.494" stop-color="#d75946"/><stop offset="0.899" stop-color="#cf483d"/><stop offset="1.000" stop-color="#cf483d"/></linearGradient><linearGradient id="d1" x1="0" y1="0" x2="0" y2="1"><stop offset="0.000" stop-color="#e47659"/><stop offset="0.041" stop-color="#e37256"/><stop offset="0.132" stop-color="#df684f"/><stop offset="0.477" stop-color="#dd644c"/><stop offset="0.887" stop-color="#d45142"/><stop offset="1.000" stop-color="#d45142"/></linearGradient><linearGradient id="d2" x1="0" y1="0" x2="0" y2="1"><stop offset="0.000" stop-color="#e5775a"/><stop offset="0.041" stop-color="#e37457"/><stop offset="0.130" stop-color="#e06a50"/><stop offset="0.471" stop-color="#de664e"/><stop offset="0.887" stop-color="#d45343"/><stop offset="1.000" stop-color="#d45343"/></linearGradient><linearGradient id="d3" x1="0" y1="0" x2="0" y2="1"><stop offset="0.000" stop-color="#e27155"/><stop offset="0.041" stop-color="#e16d52"/><stop offset="0.136" stop-color="#dd644d"/><stop offset="0.477" stop-color="#db604a"/><stop offset="0.901" stop-color="#d24d40"/><stop offset="1.000" stop-color="#d24d40"/></linearGradient><linearGradient id="d4" x1="0" y1="0" x2="0" y2="1"><stop offset="0.000" stop-color="#e16c52"/><stop offset="0.043" stop-color="#df684f"/><stop offset="0.154" stop-color="#db604b"/><stop offset="0.486" stop-color="#d85b48"/><stop offset="0.918" stop-color="#cf493d"/><stop offset="1.000" stop-color="#cf493d"/></linearGradient><linearGradient id="d5" x1="0" y1="0" x2="0" y2="1"><stop offset="0.000" stop-color="#e5795b"/><stop offset="0.041" stop-color="#e47558"/><stop offset="0.130" stop-color="#e06b51"/><stop offset="0.461" stop-color="#df694f"/><stop offset="0.905" stop-color="#d55544"/><stop offset="1.000" stop-color="#d55544"/></linearGradient><linearGradient id="d6" x1="0" y1="0" x2="0" y2="1"><stop offset="0.000" stop-color="#e37357"/><stop offset="0.041" stop-color="#e26f54"/><stop offset="0.132" stop-color="#de664e"/><stop offset="0.467" stop-color="#dd644c"/><stop offset="0.922" stop-color="#d34f41"/><stop offset="1.000" stop-color="#d34f41"/></linearGradient><linearGradient id="d7" x1="0" y1="0" x2="0" y2="1"><stop offset="0.000" stop-color="#e47558"/><stop offset="0.041" stop-color="#e27155"/><stop offset="0.130" stop-color="#df674f"/><stop offset="0.459" stop-color="#de664e"/><stop offset="0.930" stop-color="#d45142"/><stop offset="1.000" stop-color="#d45142"/></linearGradient><linearGradient id="d8" x1="0" y1="0" x2="0" y2="1"><stop offset="0.000" stop-color="#e5795b"/><stop offset="0.041" stop-color="#e47558"/><stop offset="0.126" stop-color="#e16c51"/><stop offset="0.447" stop-color="#e16c52"/><stop offset="0.936" stop-color="#d65645"/><stop offset="1.000" stop-color="#d65645"/></linearGradient><linearGradient id="d9" x1="0" y1="0" x2="0" y2="1"><stop offset="0.000" stop-color="#e16e53"/><stop offset="0.041" stop-color="#e06a50"/><stop offset="0.134" stop-color="#dc614b"/><stop offset="0.455" stop-color="#dc624b"/><stop offset="0.971" stop-color="#d14c3f"/><stop offset="1.000" stop-color="#d14c3f"/></linearGradient><linearGradient id="d10" x1="0" y1="0" x2="0" y2="1"><stop offset="0.000" stop-color="#e27055"/><stop offset="0.041" stop-color="#e16c52"/><stop offset="0.130" stop-color="#dd644c"/><stop offset="0.447" stop-color="#de664e"/><stop offset="0.994" stop-color="#d24f41"/><stop offset="1.000" stop-color="#d24f41"/></linearGradient><linearGradient id="d11" x1="0" y1="0" x2="0" y2="1"><stop offset="0.000" stop-color="#e26f54"/><stop offset="0.041" stop-color="#e06b51"/><stop offset="0.130" stop-color="#dc634c"/><stop offset="0.438" stop-color="#de664e"/><stop offset="1.000" stop-color="#d24e40"/></linearGradient><linearGradient id="d12" x1="0" y1="0" x2="0" y2="1"><stop offset="0.000" stop-color="#e37256"/><stop offset="0.041" stop-color="#e16e53"/><stop offset="0.126" stop-color="#de654d"/><stop offset="0.420" stop-color="#e06b51"/><stop offset="1.000" stop-color="#d45242"/></linearGradient><linearGradient id="d13" x1="0" y1="0" x2="0" y2="1"><stop offset="0.000" stop-color="#e16c51"/><stop offset="0.043" stop-color="#de674e"/><stop offset="0.138" stop-color="#db604a"/><stop offset="0.424" stop-color="#de664e"/><stop offset="1.000" stop-color="#d14d40"/></linearGradient><linearGradient id="d14" x1="0" y1="0" x2="0" y2="1"><stop offset="0.000" stop-color="#e26f53"/><stop offset="0.041" stop-color="#e06a50"/><stop offset="0.126" stop-color="#dc624c"/><stop offset="0.397" stop-color="#e16c51"/><stop offset="1.000" stop-color="#d35142"/></linearGradient><linearGradient id="d15" x1="0" y1="0" x2="0" y2="1"><stop offset="0.000" stop-color="#e06b51"/><stop offset="0.043" stop-color="#de664e"/><stop offset="0.134" stop-color="#db604a"/><stop offset="0.391" stop-color="#e06a50"/><stop offset="1.000" stop-color="#d34f41"/></linearGradient><linearGradient id="d16" x1="0" y1="0" x2="0" y2="1"><stop offset="0.000" stop-color="#e16e53"/><stop offset="0.041" stop-color="#e06a50"/><stop offset="0.123" stop-color="#dc624b"/><stop offset="0.366" stop-color="#e26f54"/><stop offset="1.000" stop-color="#d55343"/></linearGradient><linearGradient id="d17" x1="0" y1="0" x2="0" y2="1"><stop offset="0.000" stop-color="#e16d52"/><stop offset="0.041" stop-color="#df694f"/><stop offset="0.121" stop-color="#db604b"/><stop offset="0.350" stop-color="#e27054"/><stop offset="1.000" stop-color="#d55443"/></linearGradient><linearGradient id="d18" x1="0" y1="0" x2="0" y2="1"><stop offset="0.000" stop-color="#db604b"/><stop offset="0.043" stop-color="#d95b48"/><stop offset="0.128" stop-color="#d55544"/><stop offset="0.340" stop-color="#de654d"/><stop offset="0.877" stop-color="#d14d3f"/><stop offset="1.000" stop-color="#d0493d"/></linearGradient><linearGradient id="d19" x1="0" y1="0" x2="0" y2="1"><stop offset="0.000" stop-color="#de664e"/><stop offset="0.043" stop-color="#dc614b"/><stop offset="0.126" stop-color="#d85b47"/><stop offset="0.327" stop-color="#e16d52"/><stop offset="0.860" stop-color="#d65745"/><stop offset="1.000" stop-color="#d35142"/></linearGradient><linearGradient id="d20" x1="0" y1="0" x2="0" y2="1"><stop offset="0.000" stop-color="#dc614b"/><stop offset="0.043" stop-color="#d95c48"/><stop offset="0.126" stop-color="#d65645"/><stop offset="0.315" stop-color="#e06950"/><stop offset="0.850" stop-color="#d65645"/><stop offset="1.000" stop-color="#d24d40"/></linearGradient><linearGradient id="d21" x1="0" y1="0" x2="0" y2="1"><stop offset="0.000" stop-color="#dc614b"/><stop offset="0.043" stop-color="#d95c48"/><stop offset="0.123" stop-color="#d65544"/><stop offset="0.319" stop-color="#e27054"/><stop offset="0.850" stop-color="#d75846"/><stop offset="1.000" stop-color="#d24f41"/></linearGradient><linearGradient id="d22" x1="0" y1="0" x2="0" y2="1"><stop offset="0.000" stop-color="#dc624b"/><stop offset="0.043" stop-color="#d95c48"/><stop offset="0.121" stop-color="#d65644"/><stop offset="0.235" stop-color="#e37356"/><stop offset="0.342" stop-color="#e77d5e"/><stop offset="0.656" stop-color="#df674e"/><stop offset="0.864" stop-color="#d75846"/><stop offset="1.000" stop-color="#d35042"/></linearGradient><linearGradient id="d23" x1="0" y1="0" x2="0" y2="1"><stop offset="0.000" stop-color="#db614b"/><stop offset="0.043" stop-color="#d95b48"/><stop offset="0.121" stop-color="#d55544"/><stop offset="0.216" stop-color="#e26f54"/><stop offset="0.272" stop-color="#eb8a67"/><stop offset="0.484" stop-color="#e77d5e"/><stop offset="0.607" stop-color="#e06950"/><stop offset="0.848" stop-color="#d95c48"/><stop offset="1.000" stop-color="#d35142"/></linearGradient><linearGradient id="d24" x1="0" y1="0" x2="0" y2="1"><stop offset="0.000" stop-color="#d95b48"/><stop offset="0.043" stop-color="#d65645"/><stop offset="0.119" stop-color="#d24e41"/><stop offset="0.208" stop-color="#e06950"/><stop offset="0.259" stop-color="#ec8f6b"/><stop offset="0.438" stop-color="#eb8b68"/><stop offset="0.652" stop-color="#de654d"/><stop offset="0.852" stop-color="#d75745"/><stop offset="1.000" stop-color="#d14c3f"/></linearGradient><linearGradient id="d25" x1="0" y1="0" x2="0" y2="1"><stop offset="0.000" stop-color="#da5e49"/><stop offset="0.043" stop-color="#d75946"/><stop offset="0.119" stop-color="#d45142"/><stop offset="0.202" stop-color="#e16c51"/><stop offset="0.251" stop-color="#f09973"/><stop offset="0.420" stop-color="#f09a74"/><stop offset="0.636" stop-color="#e67d5e"/><stop offset="0.706" stop-color="#e06a50"/><stop offset="0.874" stop-color="#d65745"/><stop offset="1.000" stop-color="#d35041"/></linearGradient><linearGradient id="d26" x1="0" y1="0" x2="0" y2="1"><stop offset="0.000" stop-color="#d95d49"/><stop offset="0.043" stop-color="#d75745"/><stop offset="0.123" stop-color="#d35042"/><stop offset="0.198" stop-color="#e06a50"/><stop offset="0.245" stop-color="#f09b76"/><stop offset="0.352" stop-color="#f2a37f"/><stop offset="0.628" stop-color="#ef956f"/><stop offset="0.724" stop-color="#e06a50"/><stop offset="0.990" stop-color="#d34f41"/><stop offset="1.000" stop-color="#d34f41"/></linearGradient><linearGradient id="d27" x1="0" y1="0" x2="0" y2="1"><stop offset="0.000" stop-color="#d95c48"/><stop offset="0.043" stop-color="#d65645"/><stop offset="0.132" stop-color="#d35042"/><stop offset="0.195" stop-color="#df694f"/><stop offset="0.241" stop-color="#f09d78"/><stop offset="0.305" stop-color="#f4ad8b"/><stop offset="0.432" stop-color="#f3a986"/><stop offset="0.630" stop-color="#f1a17d"/><stop offset="0.693" stop-color="#e98564"/><stop offset="0.741" stop-color="#e06950"/><stop offset="0.984" stop-color="#d24f41"/><stop offset="1.000" stop-color="#d24f41"/></linearGradient><linearGradient id="d28" x1="0" y1="0" x2="0" y2="1"><stop offset="0.000" stop-color="#d65645"/><stop offset="0.043" stop-color="#d35042"/><stop offset="0.140" stop-color="#d14d40"/><stop offset="0.195" stop-color="#de654d"/><stop offset="0.241" stop-color="#f09c77"/><stop offset="0.292" stop-color="#f5b594"/><stop offset="0.370" stop-color="#f2a683"/><stop offset="0.564" stop-color="#f4ad8c"/><stop offset="0.679" stop-color="#f09a75"/><stop offset="0.755" stop-color="#dd654d"/><stop offset="0.975" stop-color="#d04a3e"/><stop offset="1.000" stop-color="#d04a3e"/></linearGradient><linearGradient id="d29" x1="0" y1="0" x2="0" y2="1"><stop offset="0.000" stop-color="#d75846"/><stop offset="0.043" stop-color="#d45242"/><stop offset="0.148" stop-color="#d35142"/><stop offset="0.195" stop-color="#df684f"/><stop offset="0.245" stop-color="#f2a683"/><stop offset="0.292" stop-color="#f6bfa3"/><stop offset="0.364" stop-color="#f3ab89"/><stop offset="0.527" stop-color="#f5b594"/><stop offset="0.673" stop-color="#f3a784"/><stop offset="0.728" stop-color="#ea8765"/><stop offset="0.767" stop-color="#df674e"/><stop offset="0.971" stop-color="#d14c3f"/><stop offset="1.000" stop-color="#d14c3f"/></linearGradient><linearGradient id="d30" x1="0" y1="0" x2="0" y2="1"><stop offset="0.000" stop-color="#d85946"/><stop offset="0.043" stop-color="#d45343"/><stop offset="0.154" stop-color="#d55343"/><stop offset="0.195" stop-color="#e06a50"/><stop offset="0.257" stop-color="#f6b999"/><stop offset="0.294" stop-color="#f7c8b0"/><stop offset="0.370" stop-color="#f5b291"/><stop offset="0.591" stop-color="#f6b898"/><stop offset="0.700" stop-color="#f2a683"/><stop offset="0.745" stop-color="#e98664"/><stop offset="0.778" stop-color="#df684f"/><stop offset="0.967" stop-color="#d24d40"/><stop offset="1.000" stop-color="#d24d40"/></linearGradient><linearGradient id="d31" x1="0" y1="0" x2="0" y2="1"><stop offset="0.000" stop-color="#d95d49"/><stop offset="0.043" stop-color="#d65645"/><stop offset="0.156" stop-color="#d75746"/><stop offset="0.195" stop-color="#e26f53"/><stop offset="0.247" stop-color="#f6b797"/><stop offset="0.284" stop-color="#f8cfbb"/><stop offset="0.331" stop-color="#f7c8b0"/><stop offset="0.379" stop-color="#f6b999"/><stop offset="0.615" stop-color="#f6bc9e"/><stop offset="0.718" stop-color="#f3a885"/><stop offset="0.761" stop-color="#e98362"/><stop offset="0.788" stop-color="#e16c51"/><stop offset="0.963" stop-color="#d45142"/><stop offset="1.000" stop-color="#d35142"/></linearGradient><linearGradient id="d32" x1="0" y1="0" x2="0" y2="1"><stop offset="0.000" stop-color="#db604a"/><stop offset="0.043" stop-color="#d85947"/><stop offset="0.160" stop-color="#d95c48"/><stop offset="0.198" stop-color="#e47558"/><stop offset="0.237" stop-color="#f4b08f"/><stop offset="0.276" stop-color="#f8d3c1"/><stop offset="0.317" stop-color="#f8d4c3"/><stop offset="0.391" stop-color="#f6bea2"/><stop offset="0.663" stop-color="#f6bda0"/><stop offset="0.741" stop-color="#f2a480"/><stop offset="0.796" stop-color="#e26f53"/><stop offset="0.961" stop-color="#d55444"/><stop offset="1.000" stop-color="#d55444"/></linearGradient><linearGradient id="d33" x1="0" y1="0" x2="0" y2="1"><stop offset="0.000" stop-color="#d65645"/><stop offset="0.043" stop-color="#d34f41"/><stop offset="0.160" stop-color="#d45242"/><stop offset="0.200" stop-color="#e16e53"/><stop offset="0.237" stop-color="#f3ac89"/><stop offset="0.278" stop-color="#f8d0bc"/><stop offset="0.317" stop-color="#f8d1bf"/><stop offset="0.405" stop-color="#f6ba9b"/><stop offset="0.687" stop-color="#f6b695"/><stop offset="0.753" stop-color="#f09b76"/><stop offset="0.802" stop-color="#dd644d"/><stop offset="0.961" stop-color="#d04b3e"/><stop offset="1.000" stop-color="#d04b3e"/></linearGradient><linearGradient id="d34" x1="0" y1="0" x2="0" y2="1"><stop offset="0.000" stop-color="#d65645"/><stop offset="0.043" stop-color="#d24f41"/><stop offset="0.163" stop-color="#d45243"/><stop offset="0.202" stop-color="#e27155"/><stop offset="0.253" stop-color="#f6bfa3"/><stop offset="0.292" stop-color="#f8d5c4"/><stop offset="0.383" stop-color="#f7c5ad"/><stop offset="0.422" stop-color="#f6bc9e"/><stop offset="0.700" stop-color="#f6b695"/><stop offset="0.761" stop-color="#f09a75"/><stop offset="0.807" stop-color="#dd644c"/><stop offset="0.961" stop-color="#d04b3e"/><stop offset="1.000" stop-color="#d04b3e"/></linearGradient><linearGradient id="d35" x1="0" y1="0" x2="0" y2="1"><stop offset="0.000" stop-color="#d85a47"/><stop offset="0.043" stop-color="#d55343"/><stop offset="0.165" stop-color="#d65745"/><stop offset="0.202" stop-color="#e47659"/><stop offset="0.255" stop-color="#f7c3a8"/><stop offset="0.294" stop-color="#f8d6c6"/><stop offset="0.356" stop-color="#f8d4c3"/><stop offset="0.440" stop-color="#f7c0a4"/><stop offset="0.706" stop-color="#f6b99a"/><stop offset="0.765" stop-color="#f19f7b"/><stop offset="0.813" stop-color="#df674e"/><stop offset="0.961" stop-color="#d34f41"/><stop offset="1.000" stop-color="#d34f41"/></linearGradient><linearGradient id="d36" x1="0" y1="0" x2="0" y2="1"><stop offset="0.000" stop-color="#d75746"/><stop offset="0.043" stop-color="#d35042"/><stop offset="0.167" stop-color="#d55544"/><stop offset="0.204" stop-color="#e47659"/><stop offset="0.257" stop-color="#f6bfa3"/><stop offset="0.302" stop-color="#f8d2c0"/><stop offset="0.362" stop-color="#f8d4c4"/><stop offset="0.459" stop-color="#f6bea2"/><stop offset="0.714" stop-color="#f6b897"/><stop offset="0.772" stop-color="#f09c77"/><stop offset="0.817" stop-color="#dd644c"/><stop offset="0.961" stop-color="#d14c3f"/><stop offset="1.000" stop-color="#d14c3f"/></linearGradient><linearGradient id="d37" x1="0" y1="0" x2="0" y2="1"><stop offset="0.000" stop-color="#d65645"/><stop offset="0.043" stop-color="#d34f41"/><stop offset="0.167" stop-color="#d55443"/><stop offset="0.206" stop-color="#e5785a"/><stop offset="0.259" stop-color="#f6bb9c"/><stop offset="0.319" stop-color="#f8d2bf"/><stop offset="0.379" stop-color="#f8d4c3"/><stop offset="0.469" stop-color="#f6bea1"/><stop offset="0.720" stop-color="#f6b797"/><stop offset="0.776" stop-color="#f09c77"/><stop offset="0.821" stop-color="#dc624c"/><stop offset="0.961" stop-color="#d14c3f"/><stop offset="1.000" stop-color="#d14b3f"/></linearGradient><linearGradient id="d38" x1="0" y1="0" x2="0" y2="1"><stop offset="0.000" stop-color="#d65645"/><stop offset="0.043" stop-color="#d24f41"/><stop offset="0.169" stop-color="#d55444"/><stop offset="0.208" stop-color="#e57a5c"/><stop offset="0.245" stop-color="#f2a683"/><stop offset="0.313" stop-color="#f7ccb6"/><stop offset="0.391" stop-color="#f8d5c4"/><stop offset="0.453" stop-color="#f7c4ab"/><stop offset="0.479" stop-color="#f6bea1"/><stop offset="0.724" stop-color="#f6b797"/><stop offset="0.778" stop-color="#f09d78"/><stop offset="0.823" stop-color="#dc614b"/><stop offset="0.963" stop-color="#d14b3f"/><stop offset="1.000" stop-color="#d14b3f"/></linearGradient><linearGradient id="d39" x1="0" y1="0" x2="0" y2="1"><stop offset="0.000" stop-color="#d65645"/><stop offset="0.045" stop-color="#d24e40"/><stop offset="0.171" stop-color="#d55544"/><stop offset="0.210" stop-color="#e67c5d"/><stop offset="0.241" stop-color="#f19f7b"/><stop offset="0.340" stop-color="#f7ceb9"/><stop offset="0.412" stop-color="#f8d4c3"/><stop offset="0.459" stop-color="#f7c3a9"/><stop offset="0.488" stop-color="#f6bea1"/><stop offset="0.728" stop-color="#f6b797"/><stop offset="0.782" stop-color="#f09b76"/><stop offset="0.825" stop-color="#db614b"/><stop offset="0.963" stop-color="#d04b3f"/><stop offset="1.000" stop-color="#d04b3e"/></linearGradient><linearGradient id="d40" x1="0" y1="0" x2="0" y2="1"><stop offset="0.000" stop-color="#d95c48"/><stop offset="0.047" stop-color="#d45343"/><stop offset="0.173" stop-color="#d95c48"/><stop offset="0.212" stop-color="#e98362"/><stop offset="0.245" stop-color="#f2a380"/><stop offset="0.374" stop-color="#f8d5c4"/><stop offset="0.430" stop-color="#f8d7c7"/><stop offset="0.475" stop-color="#f7c2a7"/><stop offset="0.728" stop-color="#f6bb9d"/><stop offset="0.784" stop-color="#f19f7b"/><stop offset="0.829" stop-color="#de654d"/><stop offset="0.965" stop-color="#d35142"/><stop offset="1.000" stop-color="#d35142"/></linearGradient><linearGradient id="d41" x1="0" y1="0" x2="0" y2="1"><stop offset="0.000" stop-color="#d55443"/><stop offset="0.132" stop-color="#d14c3f"/><stop offset="0.189" stop-color="#da5e49"/><stop offset="0.247" stop-color="#f09c77"/><stop offset="0.344" stop-color="#f7c2a8"/><stop offset="0.426" stop-color="#f8d2c0"/><stop offset="0.475" stop-color="#f6bc9e"/><stop offset="0.735" stop-color="#f5b595"/><stop offset="0.786" stop-color="#f09a74"/><stop offset="0.829" stop-color="#da5d49"/><stop offset="0.965" stop-color="#cf483d"/><stop offset="1.000" stop-color="#cf483d"/></linearGradient><linearGradient id="d42" x1="0" y1="0" x2="0" y2="1"><stop offset="0.000" stop-color="#db5f4a"/><stop offset="0.146" stop-color="#d85947"/><stop offset="0.198" stop-color="#e27054"/><stop offset="0.245" stop-color="#f19e79"/><stop offset="0.337" stop-color="#f7c0a4"/><stop offset="0.420" stop-color="#f8d7c8"/><stop offset="0.463" stop-color="#f7c5ac"/><stop offset="0.735" stop-color="#f6bda0"/><stop offset="0.788" stop-color="#f1a07c"/><stop offset="0.831" stop-color="#df684f"/><stop offset="0.965" stop-color="#d55444"/><stop offset="1.000" stop-color="#d55444"/></linearGradient><linearGradient id="d43" x1="0" y1="0" x2="0" y2="1"><stop offset="0.000" stop-color="#d65745"/><stop offset="0.163" stop-color="#d55444"/><stop offset="0.212" stop-color="#e37256"/><stop offset="0.282" stop-color="#f2a682"/><stop offset="0.356" stop-color="#f6ba9b"/><stop offset="0.422" stop-color="#f7cdb8"/><stop offset="0.471" stop-color="#f6bea1"/><stop offset="0.735" stop-color="#f6b898"/><stop offset="0.786" stop-color="#f19e79"/><stop offset="0.831" stop-color="#db604a"/><stop offset="0.965" stop-color="#d14b3f"/><stop offset="1.000" stop-color="#d14b3f"/></linearGradient><linearGradient id="d44" x1="0" y1="0" x2="0" y2="1"><stop offset="0.000" stop-color="#d75946"/><stop offset="0.175" stop-color="#d85947"/><stop offset="0.265" stop-color="#ef9872"/><stop offset="0.315" stop-color="#f4af8d"/><stop offset="0.370" stop-color="#f6b99a"/><stop offset="0.422" stop-color="#f7c8b0"/><stop offset="0.471" stop-color="#f6bfa3"/><stop offset="0.735" stop-color="#f6b999"/><stop offset="0.786" stop-color="#f19f7b"/><stop offset="0.831" stop-color="#dc614b"/><stop offset="0.965" stop-color="#d14d40"/><stop offset="1.000" stop-color="#d14d3f"/></linearGradient><linearGradient id="d45" x1="0" y1="0" x2="0" y2="1"><stop offset="0.000" stop-color="#d75846"/><stop offset="0.185" stop-color="#d85b48"/><stop offset="0.265" stop-color="#ed8f6b"/><stop offset="0.309" stop-color="#f4ad8b"/><stop offset="0.436" stop-color="#f6bea1"/><stop offset="0.733" stop-color="#f6b898"/><stop offset="0.786" stop-color="#f19f7a"/><stop offset="0.831" stop-color="#db604a"/><stop offset="0.965" stop-color="#d14b3f"/><stop offset="1.000" stop-color="#d14b3f"/></linearGradient><linearGradient id="d46" x1="0" y1="0" x2="0" y2="1"><stop offset="0.000" stop-color="#d55443"/><stop offset="0.195" stop-color="#d75946"/><stop offset="0.261" stop-color="#e77d5e"/><stop offset="0.307" stop-color="#f5b291"/><stop offset="0.463" stop-color="#f6bb9d"/><stop offset="0.759" stop-color="#f5b493"/><stop offset="0.796" stop-color="#ef9670"/><stop offset="0.829" stop-color="#d95c48"/><stop offset="0.963" stop-color="#ce473c"/><stop offset="1.000" stop-color="#ce473c"/></linearGradient><linearGradient id="d47" x1="0" y1="0" x2="0" y2="1"><stop offset="0.000" stop-color="#d65645"/><stop offset="0.206" stop-color="#d95c48"/><stop offset="0.259" stop-color="#e47759"/><stop offset="0.290" stop-color="#f3a784"/><stop offset="0.317" stop-color="#f7c1a6"/><stop offset="0.749" stop-color="#f7c2a7"/><stop offset="0.790" stop-color="#f2a683"/><stop offset="0.829" stop-color="#db604b"/><stop offset="0.949" stop-color="#cf493d"/><stop offset="1.000" stop-color="#cf493d"/></linearGradient><linearGradient id="d48" x1="0" y1="0" x2="0" y2="1"><stop offset="0.000" stop-color="#db614b"/><stop offset="0.212" stop-color="#df674e"/><stop offset="0.259" stop-color="#e78060"/><stop offset="0.286" stop-color="#f3a885"/><stop offset="0.309" stop-color="#f7cab3"/><stop offset="0.364" stop-color="#f8d2c0"/><stop offset="0.751" stop-color="#f7ceb9"/><stop offset="0.784" stop-color="#f6b999"/><stop offset="0.821" stop-color="#e57a5c"/><stop offset="0.842" stop-color="#de654d"/><stop offset="0.975" stop-color="#d55343"/><stop offset="1.000" stop-color="#d55343"/></linearGradient><linearGradient id="d49" x1="0" y1="0" x2="0" y2="1"><stop offset="0.000" stop-color="#dc634c"/><stop offset="0.208" stop-color="#e0694f"/><stop offset="0.259" stop-color="#e98463"/><stop offset="0.286" stop-color="#f3ab89"/><stop offset="0.309" stop-color="#f7cdb8"/><stop offset="0.364" stop-color="#f8d5c4"/><stop offset="0.751" stop-color="#f8d1be"/><stop offset="0.784" stop-color="#f6bb9d"/><stop offset="0.833" stop-color="#e06a50"/><stop offset="0.963" stop-color="#d65645"/><stop offset="1.000" stop-color="#d65645"/></linearGradient><linearGradient id="d50" x1="0" y1="0" x2="0" y2="1"><stop offset="0.000" stop-color="#d75846"/><stop offset="0.198" stop-color="#da5e49"/><stop offset="0.259" stop-color="#e77e5f"/><stop offset="0.288" stop-color="#f3a885"/><stop offset="0.313" stop-color="#f7c4ab"/><stop offset="0.463" stop-color="#f7cab3"/><stop offset="0.753" stop-color="#f7c5ac"/><stop offset="0.792" stop-color="#f2a784"/><stop offset="0.831" stop-color="#dc614b"/><stop offset="0.957" stop-color="#d14b3f"/><stop offset="1.000" stop-color="#d14b3f"/></linearGradient><linearGradient id="d51" x1="0" y1="0" x2="0" y2="1"><stop offset="0.000" stop-color="#db5f4a"/><stop offset="0.187" stop-color="#dd634c"/><stop offset="0.265" stop-color="#ef9570"/><stop offset="0.317" stop-color="#f7c3a9"/><stop offset="0.751" stop-color="#f7c3a8"/><stop offset="0.792" stop-color="#f2a783"/><stop offset="0.831" stop-color="#df674f"/><stop offset="0.965" stop-color="#d45343"/><stop offset="1.000" stop-color="#d45343"/></linearGradient><linearGradient id="d52" x1="0" y1="0" x2="0" y2="1"><stop offset="0.000" stop-color="#d85b47"/><stop offset="0.177" stop-color="#d95c48"/><stop offset="0.270" stop-color="#f09b76"/><stop offset="0.323" stop-color="#f5b393"/><stop offset="0.430" stop-color="#f7c2a7"/><stop offset="0.735" stop-color="#f6ba9c"/><stop offset="0.788" stop-color="#f19f7b"/><stop offset="0.833" stop-color="#dc634c"/><stop offset="0.967" stop-color="#d24f41"/><stop offset="1.000" stop-color="#d24f41"/></linearGradient><linearGradient id="d53" x1="0" y1="0" x2="0" y2="1"><stop offset="0.000" stop-color="#d65745"/><stop offset="0.167" stop-color="#d65544"/><stop offset="0.218" stop-color="#e5775a"/><stop offset="0.294" stop-color="#f3aa88"/><stop offset="0.362" stop-color="#f6b797"/><stop offset="0.422" stop-color="#f7c8b1"/><stop offset="0.471" stop-color="#f6bea1"/><stop offset="0.735" stop-color="#f6b898"/><stop offset="0.786" stop-color="#f19e7a"/><stop offset="0.831" stop-color="#db604a"/><stop offset="0.965" stop-color="#d14b3f"/><stop offset="1.000" stop-color="#d14b3f"/></linearGradient><linearGradient id="d54" x1="0" y1="0" x2="0" y2="1"><stop offset="0.000" stop-color="#db614b"/><stop offset="0.150" stop-color="#d95c48"/><stop offset="0.200" stop-color="#e37357"/><stop offset="0.245" stop-color="#f19e79"/><stop offset="0.317" stop-color="#f5b595"/><stop offset="0.420" stop-color="#f8d5c4"/><stop offset="0.473" stop-color="#f7c5ac"/><stop offset="0.733" stop-color="#f6bfa3"/><stop offset="0.788" stop-color="#f2a27f"/><stop offset="0.833" stop-color="#e06950"/><stop offset="0.967" stop-color="#d65544"/><stop offset="1.000" stop-color="#d65544"/></linearGradient><linearGradient id="d55" x1="0" y1="0" x2="0" y2="1"><stop offset="0.000" stop-color="#dc634c"/><stop offset="0.134" stop-color="#d85b48"/><stop offset="0.189" stop-color="#e16d52"/><stop offset="0.241" stop-color="#f1a27e"/><stop offset="0.329" stop-color="#f7c3a9"/><stop offset="0.420" stop-color="#f8dacc"/><stop offset="0.461" stop-color="#f7c9b3"/><stop offset="0.737" stop-color="#f6bfa3"/><stop offset="0.792" stop-color="#f19f7a"/><stop offset="0.831" stop-color="#e16c51"/><stop offset="0.965" stop-color="#d75746"/><stop offset="1.000" stop-color="#d75745"/></linearGradient><linearGradient id="d56" x1="0" y1="0" x2="0" y2="1"><stop offset="0.000" stop-color="#d75946"/><stop offset="0.047" stop-color="#d35041"/><stop offset="0.173" stop-color="#d75946"/><stop offset="0.214" stop-color="#e88262"/><stop offset="0.245" stop-color="#f1a17d"/><stop offset="0.389" stop-color="#f8d3c2"/><stop offset="0.434" stop-color="#f8d3c2"/><stop offset="0.475" stop-color="#f7c0a4"/><stop offset="0.730" stop-color="#f6b99a"/><stop offset="0.784" stop-color="#f19f7b"/><stop offset="0.829" stop-color="#dc634c"/><stop offset="0.965" stop-color="#d24e40"/><stop offset="1.000" stop-color="#d24e40"/></linearGradient><linearGradient id="d57" x1="0" y1="0" x2="0" y2="1"><stop offset="0.000" stop-color="#d85947"/><stop offset="0.045" stop-color="#d45142"/><stop offset="0.171" stop-color="#d75946"/><stop offset="0.210" stop-color="#e77f60"/><stop offset="0.241" stop-color="#f1a17d"/><stop offset="0.350" stop-color="#f8d0bd"/><stop offset="0.426" stop-color="#f8d6c7"/><stop offset="0.475" stop-color="#f7c0a5"/><stop offset="0.728" stop-color="#f6ba9b"/><stop offset="0.782" stop-color="#f1a07c"/><stop offset="0.827" stop-color="#dd644d"/><stop offset="0.963" stop-color="#d24f41"/><stop offset="1.000" stop-color="#d24e41"/></linearGradient><linearGradient id="d58" x1="0" y1="0" x2="0" y2="1"><stop offset="0.000" stop-color="#d85b47"/><stop offset="0.043" stop-color="#d55443"/><stop offset="0.169" stop-color="#d75946"/><stop offset="0.208" stop-color="#e77f5f"/><stop offset="0.239" stop-color="#f2a27f"/><stop offset="0.302" stop-color="#f7cab3"/><stop offset="0.395" stop-color="#f8d9ca"/><stop offset="0.451" stop-color="#f7cbb5"/><stop offset="0.473" stop-color="#f7c1a6"/><stop offset="0.726" stop-color="#f6ba9c"/><stop offset="0.782" stop-color="#f19f7a"/><stop offset="0.827" stop-color="#dd654d"/><stop offset="0.963" stop-color="#d35041"/><stop offset="1.000" stop-color="#d35041"/></linearGradient><linearGradient id="d59" x1="0" y1="0" x2="0" y2="1"><stop offset="0.000" stop-color="#d85a47"/><stop offset="0.043" stop-color="#d45243"/><stop offset="0.167" stop-color="#d65745"/><stop offset="0.204" stop-color="#e5785a"/><stop offset="0.255" stop-color="#f6b898"/><stop offset="0.305" stop-color="#f8cfbb"/><stop offset="0.385" stop-color="#f8d7c7"/><stop offset="0.453" stop-color="#f7c5ad"/><stop offset="0.481" stop-color="#f7c0a4"/><stop offset="0.724" stop-color="#f6b99a"/><stop offset="0.780" stop-color="#f09d78"/><stop offset="0.823" stop-color="#dd654d"/><stop offset="0.963" stop-color="#d24f41"/><stop offset="1.000" stop-color="#d24e41"/></linearGradient><linearGradient id="d60" x1="0" y1="0" x2="0" y2="1"><stop offset="0.000" stop-color="#da5d49"/><stop offset="0.043" stop-color="#d65645"/><stop offset="0.165" stop-color="#d85a47"/><stop offset="0.202" stop-color="#e5795b"/><stop offset="0.261" stop-color="#f7c5ad"/><stop offset="0.315" stop-color="#f8d7c8"/><stop offset="0.383" stop-color="#f8d7c7"/><stop offset="0.469" stop-color="#f7c2a8"/><stop offset="0.718" stop-color="#f6bc9e"/><stop offset="0.776" stop-color="#f1a07c"/><stop offset="0.821" stop-color="#df694f"/><stop offset="0.961" stop-color="#d45243"/><stop offset="1.000" stop-color="#d45243"/></linearGradient><linearGradient id="d61" x1="0" y1="0" x2="0" y2="1"><stop offset="0.000" stop-color="#db604a"/><stop offset="0.043" stop-color="#d85946"/><stop offset="0.163" stop-color="#d95c48"/><stop offset="0.200" stop-color="#e5795b"/><stop offset="0.243" stop-color="#f6b999"/><stop offset="0.278" stop-color="#f8d5c4"/><stop offset="0.346" stop-color="#f8dacd"/><stop offset="0.457" stop-color="#f7c4aa"/><stop offset="0.712" stop-color="#f6bea1"/><stop offset="0.774" stop-color="#f1a07c"/><stop offset="0.819" stop-color="#e16c51"/><stop offset="0.961" stop-color="#d55544"/><stop offset="1.000" stop-color="#d55544"/></linearGradient><linearGradient id="d62" x1="0" y1="0" x2="0" y2="1"><stop offset="0.000" stop-color="#d85b47"/><stop offset="0.043" stop-color="#d55444"/><stop offset="0.163" stop-color="#d75745"/><stop offset="0.200" stop-color="#e37357"/><stop offset="0.237" stop-color="#f4af8d"/><stop offset="0.276" stop-color="#f8d2c0"/><stop offset="0.323" stop-color="#f8d7c8"/><stop offset="0.436" stop-color="#f7c0a4"/><stop offset="0.704" stop-color="#f6ba9b"/><stop offset="0.765" stop-color="#f19f7b"/><stop offset="0.813" stop-color="#df674e"/><stop offset="0.961" stop-color="#d34f41"/><stop offset="1.000" stop-color="#d34f41"/></linearGradient><linearGradient id="d63" x1="0" y1="0" x2="0" y2="1"><stop offset="0.000" stop-color="#da5e49"/><stop offset="0.043" stop-color="#d75746"/><stop offset="0.160" stop-color="#d85a47"/><stop offset="0.198" stop-color="#e37457"/><stop offset="0.233" stop-color="#f3ab89"/><stop offset="0.274" stop-color="#f8d3c2"/><stop offset="0.311" stop-color="#f8d8c9"/><stop offset="0.416" stop-color="#f7c1a6"/><stop offset="0.693" stop-color="#f6bc9e"/><stop offset="0.759" stop-color="#f1a17d"/><stop offset="0.809" stop-color="#e06b51"/><stop offset="0.961" stop-color="#d45343"/><stop offset="1.000" stop-color="#d45343"/></linearGradient><linearGradient id="d64" x1="0" y1="0" x2="0" y2="1"><stop offset="0.000" stop-color="#dc614b"/><stop offset="0.043" stop-color="#d85b47"/><stop offset="0.158" stop-color="#d95d48"/><stop offset="0.195" stop-color="#e37457"/><stop offset="0.233" stop-color="#f3ab89"/><stop offset="0.274" stop-color="#f8d3c2"/><stop offset="0.315" stop-color="#f8d6c6"/><stop offset="0.397" stop-color="#f7c1a5"/><stop offset="0.679" stop-color="#f6bea1"/><stop offset="0.751" stop-color="#f2a480"/><stop offset="0.802" stop-color="#e26f54"/><stop offset="0.959" stop-color="#d65544"/><stop offset="1.000" stop-color="#d65544"/></linearGradient><linearGradient id="d65" x1="0" y1="0" x2="0" y2="1"><stop offset="0.000" stop-color="#d75846"/><stop offset="0.043" stop-color="#d45243"/><stop offset="0.154" stop-color="#d45343"/><stop offset="0.195" stop-color="#e06a50"/><stop offset="0.241" stop-color="#f4ae8c"/><stop offset="0.282" stop-color="#f7cdb8"/><stop offset="0.331" stop-color="#f7c7af"/><stop offset="0.383" stop-color="#f6b898"/><stop offset="0.652" stop-color="#f6b999"/><stop offset="0.733" stop-color="#f2a480"/><stop offset="0.770" stop-color="#e78060"/><stop offset="0.796" stop-color="#de664e"/><stop offset="0.963" stop-color="#d14d3f"/><stop offset="1.000" stop-color="#d14d3f"/></linearGradient><linearGradient id="d66" x1="0" y1="0" x2="0" y2="1"><stop offset="0.000" stop-color="#d95b48"/><stop offset="0.043" stop-color="#d55544"/><stop offset="0.152" stop-color="#d55544"/><stop offset="0.195" stop-color="#e16d52"/><stop offset="0.257" stop-color="#f6bb9d"/><stop offset="0.294" stop-color="#f7cab4"/><stop offset="0.372" stop-color="#f6b696"/><stop offset="0.586" stop-color="#f6bc9e"/><stop offset="0.708" stop-color="#f3ab89"/><stop offset="0.755" stop-color="#eb8966"/><stop offset="0.788" stop-color="#e06950"/><stop offset="0.963" stop-color="#d24f41"/><stop offset="1.000" stop-color="#d24f41"/></linearGradient><linearGradient id="d67" x1="0" y1="0" x2="0" y2="1"><stop offset="0.000" stop-color="#d85947"/><stop offset="0.043" stop-color="#d55343"/><stop offset="0.142" stop-color="#d35142"/><stop offset="0.193" stop-color="#df684f"/><stop offset="0.243" stop-color="#f2a683"/><stop offset="0.290" stop-color="#f7c1a7"/><stop offset="0.362" stop-color="#f4af8e"/><stop offset="0.529" stop-color="#f6b999"/><stop offset="0.685" stop-color="#f3ab89"/><stop offset="0.741" stop-color="#eb8a68"/><stop offset="0.778" stop-color="#df684f"/><stop offset="0.967" stop-color="#d24d40"/><stop offset="1.000" stop-color="#d14d40"/></linearGradient><linearGradient id="d68" x1="0" y1="0" x2="0" y2="1"><stop offset="0.000" stop-color="#db604a"/><stop offset="0.043" stop-color="#d85a47"/><stop offset="0.134" stop-color="#d55544"/><stop offset="0.193" stop-color="#e16d52"/><stop offset="0.235" stop-color="#f1a07c"/><stop offset="0.294" stop-color="#f6bd9f"/><stop offset="0.362" stop-color="#f4af8e"/><stop offset="0.516" stop-color="#f6b99a"/><stop offset="0.673" stop-color="#f3ac8a"/><stop offset="0.733" stop-color="#eb8a67"/><stop offset="0.767" stop-color="#e16e53"/><stop offset="0.969" stop-color="#d45343"/><stop offset="1.000" stop-color="#d45343"/></linearGradient><linearGradient id="d69" x1="0" y1="0" x2="0" y2="1"><stop offset="0.000" stop-color="#da5f4a"/><stop offset="0.043" stop-color="#d75946"/><stop offset="0.126" stop-color="#d45343"/><stop offset="0.193" stop-color="#e06b51"/><stop offset="0.237" stop-color="#f19f7a"/><stop offset="0.302" stop-color="#f5b190"/><stop offset="0.395" stop-color="#f4b08e"/><stop offset="0.626" stop-color="#f4ad8b"/><stop offset="0.708" stop-color="#ed8f6b"/><stop offset="0.755" stop-color="#e16d52"/><stop offset="0.975" stop-color="#d45142"/><stop offset="1.000" stop-color="#d45142"/></linearGradient><linearGradient id="d70" x1="0" y1="0" x2="0" y2="1"><stop offset="0.000" stop-color="#db614b"/><stop offset="0.043" stop-color="#d95b48"/><stop offset="0.121" stop-color="#d55444"/><stop offset="0.195" stop-color="#e16d52"/><stop offset="0.239" stop-color="#f19e7a"/><stop offset="0.313" stop-color="#f3ab88"/><stop offset="0.617" stop-color="#f2a683"/><stop offset="0.693" stop-color="#eb8a67"/><stop offset="0.741" stop-color="#e16e53"/><stop offset="0.981" stop-color="#d45343"/><stop offset="1.000" stop-color="#d45343"/></linearGradient><linearGradient id="d71" x1="0" y1="0" x2="0" y2="1"><stop offset="0.000" stop-color="#db614b"/><stop offset="0.043" stop-color="#d95b48"/><stop offset="0.119" stop-color="#d55444"/><stop offset="0.198" stop-color="#e16d52"/><stop offset="0.243" stop-color="#f09c78"/><stop offset="0.340" stop-color="#f2a582"/><stop offset="0.626" stop-color="#ef9872"/><stop offset="0.724" stop-color="#e16d52"/><stop offset="0.992" stop-color="#d45243"/><stop offset="1.000" stop-color="#d45243"/></linearGradient><linearGradient id="d72" x1="0" y1="0" x2="0" y2="1"><stop offset="0.000" stop-color="#da5d49"/><stop offset="0.043" stop-color="#d75846"/><stop offset="0.119" stop-color="#d45142"/><stop offset="0.202" stop-color="#e06950"/><stop offset="0.251" stop-color="#ef9772"/><stop offset="0.420" stop-color="#ef9873"/><stop offset="0.636" stop-color="#e67a5c"/><stop offset="0.706" stop-color="#df674e"/><stop offset="0.872" stop-color="#d65544"/><stop offset="1.000" stop-color="#d24e40"/></linearGradient><linearGradient id="d73" x1="0" y1="0" x2="0" y2="1"><stop offset="0.000" stop-color="#dc634c"/><stop offset="0.043" stop-color="#da5d49"/><stop offset="0.121" stop-color="#d65745"/><stop offset="0.208" stop-color="#e26f54"/><stop offset="0.259" stop-color="#ef956f"/><stop offset="0.457" stop-color="#ec8e6a"/><stop offset="0.658" stop-color="#e06a50"/><stop offset="0.852" stop-color="#d95d49"/><stop offset="1.000" stop-color="#d45242"/></linearGradient><linearGradient id="d74" x1="0" y1="0" x2="0" y2="1"><stop offset="0.000" stop-color="#db5f4a"/><stop offset="0.043" stop-color="#d85a47"/><stop offset="0.121" stop-color="#d55343"/><stop offset="0.216" stop-color="#e16c51"/><stop offset="0.272" stop-color="#e98664"/><stop offset="0.484" stop-color="#e57a5b"/><stop offset="0.611" stop-color="#dd644d"/><stop offset="0.846" stop-color="#d75946"/><stop offset="1.000" stop-color="#d24d40"/></linearGradient><linearGradient id="d75" x1="0" y1="0" x2="0" y2="1"><stop offset="0.000" stop-color="#db614b"/><stop offset="0.043" stop-color="#d95b48"/><stop offset="0.123" stop-color="#d55544"/><stop offset="0.235" stop-color="#e26f54"/><stop offset="0.342" stop-color="#e57a5c"/><stop offset="0.638" stop-color="#dd634c"/><stop offset="0.856" stop-color="#d65645"/><stop offset="1.000" stop-color="#d24d40"/></linearGradient><linearGradient id="d76" x1="0" y1="0" x2="0" y2="1"><stop offset="0.000" stop-color="#d95b48"/><stop offset="0.043" stop-color="#d65645"/><stop offset="0.126" stop-color="#d35041"/><stop offset="0.327" stop-color="#de674e"/><stop offset="0.852" stop-color="#d34f41"/><stop offset="1.000" stop-color="#ce463c"/></linearGradient><linearGradient id="d77" x1="0" y1="0" x2="0" y2="1"><stop offset="0.000" stop-color="#e06b51"/><stop offset="0.043" stop-color="#de664e"/><stop offset="0.126" stop-color="#db5f4a"/><stop offset="0.307" stop-color="#e26f53"/><stop offset="0.850" stop-color="#d95d49"/><stop offset="1.000" stop-color="#d55444"/></linearGradient><linearGradient id="d78" x1="0" y1="0" x2="0" y2="1"><stop offset="0.000" stop-color="#dd634c"/><stop offset="0.043" stop-color="#da5e49"/><stop offset="0.128" stop-color="#d75746"/><stop offset="0.317" stop-color="#dd644d"/><stop offset="0.858" stop-color="#d45142"/><stop offset="1.000" stop-color="#d04b3f"/></linearGradient><linearGradient id="d79" x1="0" y1="0" x2="0" y2="1"><stop offset="0.000" stop-color="#df694f"/><stop offset="0.043" stop-color="#dd644d"/><stop offset="0.130" stop-color="#da5d49"/><stop offset="0.329" stop-color="#df674e"/><stop offset="0.870" stop-color="#d55343"/><stop offset="1.000" stop-color="#d24f41"/></linearGradient><linearGradient id="d80" x1="0" y1="0" x2="0" y2="1"><stop offset="0.000" stop-color="#e06a50"/><stop offset="0.043" stop-color="#de654d"/><stop offset="0.132" stop-color="#da5e49"/><stop offset="0.342" stop-color="#de664e"/><stop offset="0.891" stop-color="#d35042"/><stop offset="1.000" stop-color="#d24f41"/></linearGradient><linearGradient id="d81" x1="0" y1="0" x2="0" y2="1"><stop offset="0.000" stop-color="#e37256"/><stop offset="0.041" stop-color="#e16e53"/><stop offset="0.123" stop-color="#dd654d"/><stop offset="0.344" stop-color="#e06b51"/><stop offset="1.000" stop-color="#d55544"/></linearGradient><linearGradient id="d82" x1="0" y1="0" x2="0" y2="1"><stop offset="0.000" stop-color="#e26f54"/><stop offset="0.041" stop-color="#e06b50"/><stop offset="0.128" stop-color="#dc624c"/><stop offset="0.368" stop-color="#dd654d"/><stop offset="1.000" stop-color="#d35042"/></linearGradient><linearGradient id="d83" x1="0" y1="0" x2="0" y2="1"><stop offset="0.000" stop-color="#e06b51"/><stop offset="0.043" stop-color="#de664e"/><stop offset="0.138" stop-color="#da5f4a"/><stop offset="0.403" stop-color="#d95d49"/><stop offset="1.000" stop-color="#d14c3f"/></linearGradient><linearGradient id="d84" x1="0" y1="0" x2="0" y2="1"><stop offset="0.000" stop-color="#e26f54"/><stop offset="0.041" stop-color="#e06b51"/><stop offset="0.130" stop-color="#dc624c"/><stop offset="0.412" stop-color="#da5f4a"/><stop offset="1.000" stop-color="#d24f41"/></linearGradient><linearGradient id="d85" x1="0" y1="0" x2="0" y2="1"><stop offset="0.000" stop-color="#e27054"/><stop offset="0.041" stop-color="#e06b51"/><stop offset="0.132" stop-color="#dc624c"/><stop offset="0.442" stop-color="#d95b48"/><stop offset="1.000" stop-color="#d24e40"/></linearGradient><linearGradient id="d86" x1="0" y1="0" x2="0" y2="1"><stop offset="0.000" stop-color="#e37256"/><stop offset="0.041" stop-color="#e16e53"/><stop offset="0.132" stop-color="#dd644d"/><stop offset="0.486" stop-color="#d85a47"/><stop offset="1.000" stop-color="#d35041"/></linearGradient><linearGradient id="d87" x1="0" y1="0" x2="0" y2="1"><stop offset="0.000" stop-color="#e16c51"/><stop offset="0.043" stop-color="#df674e"/><stop offset="0.150" stop-color="#db5f4a"/><stop offset="1.000" stop-color="#d04a3e"/></linearGradient><linearGradient id="d88" x1="0" y1="0" x2="0" y2="1"><stop offset="0.000" stop-color="#e37256"/><stop offset="0.041" stop-color="#e16d53"/><stop offset="0.134" stop-color="#dd644c"/><stop offset="1.000" stop-color="#d24f41"/></linearGradient><linearGradient id="d89" x1="0" y1="0" x2="0" y2="1"><stop offset="0.000" stop-color="#e67b5d"/><stop offset="0.041" stop-color="#e5775a"/><stop offset="0.130" stop-color="#e16d52"/><stop offset="1.000" stop-color="#d75846"/></linearGradient><linearGradient id="d90" x1="0" y1="0" x2="0" y2="1"><stop offset="0.000" stop-color="#e47558"/><stop offset="0.041" stop-color="#e27155"/><stop offset="0.134" stop-color="#de674e"/><stop offset="0.957" stop-color="#d45142"/><stop offset="1.000" stop-color="#d45142"/></linearGradient><linearGradient id="d91" x1="0" y1="0" x2="0" y2="1"><stop offset="0.000" stop-color="#e67b5c"/><stop offset="0.041" stop-color="#e47759"/><stop offset="0.132" stop-color="#e16c52"/><stop offset="0.918" stop-color="#d65745"/><stop offset="1.000" stop-color="#d65745"/></linearGradient><linearGradient id="d92" x1="0" y1="0" x2="0" y2="1"><stop offset="0.000" stop-color="#e88161"/><stop offset="0.041" stop-color="#e67d5e"/><stop offset="0.134" stop-color="#e37256"/><stop offset="0.874" stop-color="#d95c48"/><stop offset="1.000" stop-color="#d95c48"/></linearGradient><linearGradient id="d93" x1="0" y1="0" x2="0" y2="1"><stop offset="0.000" stop-color="#e47558"/><stop offset="0.041" stop-color="#e27155"/><stop offset="0.136" stop-color="#de664e"/><stop offset="0.864" stop-color="#d35142"/><stop offset="1.000" stop-color="#d35142"/></linearGradient><linearGradient id="d94" x1="0" y1="0" x2="0" y2="1"><stop offset="0.000" stop-color="#e16d52"/><stop offset="0.041" stop-color="#df694f"/><stop offset="0.146" stop-color="#da5f4a"/><stop offset="0.840" stop-color="#d0493d"/><stop offset="1.000" stop-color="#d0493d"/></linearGradient><linearGradient id="d95" x1="0" y1="0" x2="0" y2="1"><stop offset="0.000" stop-color="#e37256"/><stop offset="0.041" stop-color="#e26e53"/><stop offset="0.140" stop-color="#dd644d"/><stop offset="0.829" stop-color="#d24e40"/><stop offset="1.000" stop-color="#d24e40"/></linearGradient><linearGradient id="d96" x1="0" y1="0" x2="0" y2="1"><stop offset="0.000" stop-color="#e5785a"/><stop offset="0.041" stop-color="#e37457"/><stop offset="0.134" stop-color="#df694f"/><stop offset="0.821" stop-color="#d55343"/><stop offset="1.000" stop-color="#d55343"/></linearGradient><linearGradient id="d97" x1="0" y1="0" x2="0" y2="1"><stop offset="0.000" stop-color="#e47759"/><stop offset="0.041" stop-color="#e37356"/><stop offset="0.136" stop-color="#df684f"/><stop offset="0.811" stop-color="#d45243"/><stop offset="1.000" stop-color="#d45243"/></linearGradient><linearGradient id="e0" x1="0" y1="0" x2="0" y2="1"><stop offset="0.000" stop-color="#da5f4a"/><stop offset="0.113" stop-color="#d14d40"/><stop offset="0.177" stop-color="#d14d3f"/><stop offset="0.204" stop-color="#d85a47"/><stop offset="0.218" stop-color="#e27054"/><stop offset="0.235" stop-color="#f09c78"/><stop offset="0.253" stop-color="#f7c1a6"/><stop offset="0.267" stop-color="#f8d3c1"/><stop offset="0.282" stop-color="#f7dbce"/><stop offset="0.319" stop-color="#f7e0d6"/><stop offset="0.397" stop-color="#f7ddd0"/><stop offset="0.442" stop-color="#f8d1be"/><stop offset="0.500" stop-color="#f8d5c5"/><stop offset="0.597" stop-color="#f8d0bd"/><stop offset="0.638" stop-color="#f6bfa3"/><stop offset="0.737" stop-color="#f6ba9b"/><stop offset="0.757" stop-color="#f4ad8c"/><stop offset="0.778" stop-color="#ee946e"/><stop offset="0.796" stop-color="#e06b51"/><stop offset="0.809" stop-color="#d85a47"/><stop offset="0.821" stop-color="#d35142"/><stop offset="0.864" stop-color="#d14b3f"/><stop offset="1.000" stop-color="#d14b3f"/></linearGradient><linearGradient id="cb1" x1="0" y1="0" x2="0" y2="1"><stop offset="0.000" stop-color="#5a1923"/><stop offset="0.020" stop-color="#6a1e2a"/><stop offset="0.085" stop-color="#a8242b"/><stop offset="0.150" stop-color="#c83a35"/><stop offset="0.220" stop-color="#e06a50"/><stop offset="0.280" stop-color="#ef9670"/><stop offset="0.355" stop-color="#f6b898"/><stop offset="0.420" stop-color="#f8d6c6"/><stop offset="0.470" stop-color="#f6eae6"/><stop offset="0.500" stop-color="#f3f0f0"/><stop offset="0.550" stop-color="#e4ecf3"/><stop offset="0.615" stop-color="#c2dbed"/><stop offset="0.680" stop-color="#8fbfde"/><stop offset="0.740" stop-color="#509acb"/><stop offset="0.800" stop-color="#2f7cbf"/><stop offset="0.865" stop-color="#1f63ab"/><stop offset="0.930" stop-color="#2a508c"/><stop offset="1.000" stop-color="#2d3a66"/></linearGradient><linearGradient id="cb2" x1="0" y1="0" x2="0" y2="1"><stop offset="0.000" stop-color="#5a1923"/><stop offset="0.020" stop-color="#6a1e2a"/><stop offset="0.085" stop-color="#a8242b"/><stop offset="0.150" stop-color="#c83a35"/><stop offset="0.220" stop-color="#e06a50"/><stop offset="0.280" stop-color="#ef9670"/><stop offset="0.355" stop-color="#f6b898"/><stop offset="0.420" stop-color="#f8d6c6"/><stop offset="0.470" stop-color="#f6eae6"/><stop offset="0.500" stop-color="#f3f0f0"/><stop offset="0.550" stop-color="#e4ecf3"/><stop offset="0.615" stop-color="#c2dbed"/><stop offset="0.680" stop-color="#8fbfde"/><stop offset="0.740" stop-color="#509acb"/><stop offset="0.800" stop-color="#2f7cbf"/><stop offset="0.865" stop-color="#1f63ab"/><stop offset="0.930" stop-color="#2a508c"/><stop offset="1.000" stop-color="#2d3a66"/></linearGradient></defs><rect x="0" y="0" width="2125" height="1176" fill="#fff"/><defs><clipPath id="cl"><rect x="0" y="0" width="427.5" height="1176"/></clipPath><clipPath id="cr"><rect x="427.5" y="0" width="600" height="1176"/></clipPath></defs><line x1="210.3" y1="560.5" x2="210.3" y2="914.8" stroke="#b8ad5f" stroke-width="3"/><line x1="210.3" y1="301" x2="210.3" y2="529.5" stroke="#b8ad5f" stroke-width="3"/><line x1="226.3" y1="560.5" x2="226.3" y2="814" stroke="#b8ad5f" stroke-width="3"/><line x1="226.3" y1="195.3" x2="226.3" y2="529.5" stroke="#b8ad5f" stroke-width="3"/><line x1="351.4" y1="560.5" x2="351.4" y2="896" stroke="#8ab466" stroke-width="3"/><line x1="351.4" y1="207.3" x2="351.4" y2="529.5" stroke="#8ab466" stroke-width="3"/><line x1="367" y1="560.5" x2="367" y2="831.5" stroke="#1f7787" stroke-width="3"/><line x1="367" y1="274" x2="367" y2="529.5" stroke="#1f7787" stroke-width="3"/><line x1="478.7" y1="560.5" x2="478.7" y2="803.8" stroke="#1f7787" stroke-width="3"/><line x1="478.7" y1="249.9" x2="478.7" y2="529.5" stroke="#1f7787" stroke-width="3"/><line x1="495.1" y1="560.5" x2="495.1" y2="857.8" stroke="#1f7787" stroke-width="3"/><line x1="495.1" y1="309.5" x2="495.1" y2="529.5" stroke="#1f7787" stroke-width="3"/><line x1="579.4" y1="560.5" x2="579.4" y2="955.7" stroke="#8ab466" stroke-width="3"/><line x1="579.4" y1="269.4" x2="579.4" y2="529.5" stroke="#8ab466" stroke-width="3"/><line x1="596" y1="560.5" x2="596" y2="832.9" stroke="#8ab466" stroke-width="3"/><line x1="596" y1="145.3" x2="596" y2="529.5" stroke="#8ab466" stroke-width="3"/><path d="M129 143Q229 186.5 329 186.5L428.5 186.5" fill="none" stroke="#abbfd4" stroke-width="16" stroke-linecap="round" clip-path="url(#cl)"/><path d="M128.5 297.5Q228.5 253.5 328.5 253.5L428.5 253.5" fill="none" stroke="#abbfd4" stroke-width="16" stroke-linecap="round" clip-path="url(#cl)"/><path d="M126.5 792.5Q226.5 835.4 326.5 835.4L428.5 835.4" fill="none" stroke="#dcbfc6" stroke-width="16" stroke-linecap="round" clip-path="url(#cl)"/><path d="M126.5 948Q226.5 903.7 326.5 903.7L428.5 903.7" fill="none" stroke="#dcbfc6" stroke-width="16" stroke-linecap="round" clip-path="url(#cl)"/><path d="M417.5 190.3L734 68.6" fill="none" stroke="#abbfd4" stroke-width="16" stroke-linecap="round" clip-path="url(#cr)"/><path d="M417.5 182.7L735 304" fill="none" stroke="#abbfd4" stroke-width="16" stroke-linecap="round" clip-path="url(#cr)"/><path d="M417.5 258.4L735 103.8" fill="none" stroke="#abbfd4" stroke-width="16" stroke-linecap="round" clip-path="url(#cr)"/><path d="M417.5 248.8L735 396.5" fill="none" stroke="#abbfd4" stroke-width="16" stroke-linecap="round" clip-path="url(#cr)"/><path d="M417.5 840.3L733.8 685.9" fill="none" stroke="#dcbfc6" stroke-width="16" stroke-linecap="round" clip-path="url(#cr)"/><path d="M417.5 830.7L733.8 978.4" fill="none" stroke="#dcbfc6" stroke-width="16" stroke-linecap="round" clip-path="url(#cr)"/><path d="M417.5 907.5L733.8 786.7" fill="none" stroke="#dcbfc6" stroke-width="16" stroke-linecap="round" clip-path="url(#cr)"/><path d="M417.5 899.9L733.8 1021.4" fill="none" stroke="#dcbfc6" stroke-width="16" stroke-linecap="round" clip-path="url(#cr)"/><path d="M427.5 186.5L734 68.6" stroke="#5e6064" stroke-width="4.5"/><path d="M427.5 253.5L735 103.8" stroke="#5e6064" stroke-width="4.5"/><path d="M427.5 835.4L733.8 978.4" stroke="#5e6064" stroke-width="4.5"/><path d="M427.5 903.7L733.8 1021.4" stroke="#5e6064" stroke-width="4.5"/><path d="M129 143Q229 186.5 329 186.5L428.5 186.5" fill="none" stroke="#000" stroke-width="4.5" clip-path="url(#cl)"/><path d="M128.5 297.5Q228.5 253.5 328.5 253.5L428.5 253.5" fill="none" stroke="#000" stroke-width="4.5" clip-path="url(#cl)"/><path d="M126.5 792.5Q226.5 835.4 326.5 835.4L428.5 835.4" fill="none" stroke="#000" stroke-width="4.5" clip-path="url(#cl)"/><path d="M126.5 948Q226.5 903.7 326.5 903.7L428.5 903.7" fill="none" stroke="#000" stroke-width="4.5" clip-path="url(#cl)"/><path d="M427.5 186.5L735 304" stroke="#000" stroke-width="4.5"/><path d="M427.5 253.5L735 396.5" stroke="#000" stroke-width="4.5"/><path d="M427.5 835.4L733.8 685.9" stroke="#000" stroke-width="4.5"/><path d="M427.5 903.7L733.8 786.7" stroke="#000" stroke-width="4.5"/><path d="M210.3 286L218.3 304L210.3 300.5L202.3 304Z" fill="#b8ad5f"/><path d="M226.3 180.3L234.3 198.3L226.3 194.8L218.3 198.3Z" fill="#b8ad5f"/><path d="M351.4 192.3L359.4 210.3L351.4 206.8L343.4 210.3Z" fill="#8ab466"/><path d="M367 259L375 277L367 273.5L359 277Z" fill="#1f7787"/><path d="M478.7 234.9L486.7 252.9L478.7 249.4L470.7 252.9Z" fill="#1f7787"/><path d="M495.1 294.5L503.1 312.5L495.1 309L487.1 312.5Z" fill="#1f7787"/><path d="M579.4 254.4L587.4 272.4L579.4 268.9L571.4 272.4Z" fill="#8ab466"/><path d="M596 130.3L604 148.3L596 144.8L588 148.3Z" fill="#8ab466"/><line x1="427.5" y1="44" x2="427.5" y2="529.5" stroke="#000" stroke-width="2.5"/><line x1="427.5" y1="560.5" x2="427.5" y2="1087" stroke="#000" stroke-width="2.5"/><path d="M427.5 27L435.5 46L427.5 43L419.5 46Z" fill="#000"/><line x1="20" y1="1087" x2="835" y2="1087" stroke="#000" stroke-width="2.6"/><path d="M1 1087L25 1078L20.5 1087L25 1096Z" fill="#000"/><path d="M853 1087L829 1078L833.5 1087L829 1096Z" fill="#000"/><line x1="19.4" y1="544.5" x2="748" y2="544.5" stroke="#000" stroke-width="5" stroke-dasharray="20 19.3"/><line x1="708.7" y1="409" x2="708.7" y2="682.6" stroke="#000" stroke-width="2.5"/><path d="M708.7 400L715 412L708.7 409.5L702.4 412Z" fill="#000"/><text x="695.5" y="558.9" font-family="Liberation Sans, Arial, sans-serif" font-weight="bold" font-size="42">X</text><line x1="415.2" y1="205" x2="415.2" y2="244" stroke="#000" stroke-width="2.5"/><path d="M415.2 193L421 205L415.2 203L409.4 205Z" fill="#000"/><line x1="415" y1="846" x2="415" y2="885" stroke="#000" stroke-width="2.5"/><path d="M415 897L421 885L415 887L409 885Z" fill="#000"/><path d="M370.8 199.3Q380 213 404.6 217.5" fill="none" stroke="#000" stroke-width="2"/><path d="M370.8 151.5Q367.5 163 366.7 175.5" fill="none" stroke="#000" stroke-width="2"/><path d="M370.8 892.7Q380 874 404.8 871.4" fill="none" stroke="#000" stroke-width="2"/><path d="M366 916.5Q367 930 370 941" fill="none" stroke="#000" stroke-width="2"/><text x="1" y="23.6" font-family="Liberation Sans, Arial, sans-serif" font-size="32" font-weight="bold">a</text><text x="391.5" y="47" font-family="Liberation Sans, Arial, sans-serif" font-size="28.5">E</text><text x="348.8" y="133" font-family="Liberation Sans, Arial, sans-serif" font-size="28.5">Δ</text><text x="369" y="141.7" font-family="Liberation Sans, Arial, sans-serif" font-size="21">SO</text><text x="349" y="974.5" font-family="Liberation Sans, Arial, sans-serif" font-size="28.5">Δ</text><text x="367.5" y="983.5" font-family="Liberation Sans, Arial, sans-serif" font-size="21">SO</text><text x="17.5" y="523.5" font-family="Liberation Sans, Arial, sans-serif" font-size="29">Electrons</text><text x="17.5" y="590.6" font-family="Liberation Sans, Arial, sans-serif" font-size="29">Holes</text><text x="36" y="1131" font-family="Liberation Sans, Arial, sans-serif" font-size="28">B</text><text x="57.5" y="1139.6" font-family="Liberation Sans, Arial, sans-serif" font-size="20" textLength="10.5" lengthAdjust="spacingAndGlyphs">||</text><text x="792" y="1130" font-family="Liberation Sans, Arial, sans-serif" font-size="28">B</text><text x="805.2" y="1138" font-family="DejaVu Sans, sans-serif" font-size="18.6" textLength="23.5" lengthAdjust="spacingAndGlyphs">⊥</text><text x="250.5" y="469.5" font-family="Liberation Serif, serif" font-size="30">γ</text><text x="319.8" y="472.5" font-family="Liberation Serif, serif" font-size="30">β</text><text x="378" y="472.8" font-family="Liberation Serif, serif" font-size="30.5" textLength="19.5" lengthAdjust="spacingAndGlyphs">α</text><text x="508.5" y="472.8" font-family="Liberation Serif, serif" font-size="30.5" textLength="19.5" lengthAdjust="spacingAndGlyphs">α</text><text x="613.8" y="472.5" font-family="Liberation Serif, serif" font-size="30">β</text><text x="757.8" y="68.6" font-family="DejaVu Math TeX Gyre, DejaVu Sans, sans-serif" font-size="41" textLength="5.7" lengthAdjust="spacingAndGlyphs" fill="#5a69a7">|</text><text x="771.6" y="69.6" font-family="Liberation Sans, Arial, sans-serif" font-size="29.5" fill="#5a69a7">K</text><text x="801.3" y="66.2" font-family="DejaVu Math TeX Gyre, DejaVu Sans, sans-serif" font-size="38.5" fill="#5a69a7">↑</text><text x="821.8" y="67.6" font-family="DejaVu Math TeX Gyre, DejaVu Sans, sans-serif" font-size="43" textLength="11.9" lengthAdjust="spacingAndGlyphs" fill="#5a69a7">⟩</text><text x="835" y="78.9" font-family="Liberation Sans, Arial, sans-serif" font-size="20.5" fill="#5a69a7">e</text><text x="757.8" y="120.6" font-family="DejaVu Math TeX Gyre, DejaVu Sans, sans-serif" font-size="41" textLength="5.7" lengthAdjust="spacingAndGlyphs" fill="#5a69a7">|</text><text x="771.6" y="121.6" font-family="Liberation Sans, Arial, sans-serif" font-size="29.5" fill="#5a69a7">K</text><text x="801.3" y="118.2" font-family="DejaVu Math TeX Gyre, DejaVu Sans, sans-serif" font-size="38.5" fill="#5a69a7">↓</text><text x="821.8" y="119.6" font-family="DejaVu Math TeX Gyre, DejaVu Sans, sans-serif" font-size="43" textLength="11.9" lengthAdjust="spacingAndGlyphs" fill="#5a69a7">⟩</text><text x="835" y="130.9" font-family="Liberation Sans, Arial, sans-serif" font-size="20.5" fill="#5a69a7">e</text><text x="757.8" y="318" font-family="DejaVu Math TeX Gyre, DejaVu Sans, sans-serif" font-size="41" textLength="5.7" lengthAdjust="spacingAndGlyphs" fill="#5a69a7">|</text><text x="771.6" y="319" font-family="Liberation Sans, Arial, sans-serif" font-size="29.5" fill="#5a69a7">K</text><text x="790.5" y="319" font-family="DejaVu Math TeX Gyre, DejaVu Sans, sans-serif" font-size="29" fill="#5a69a7">′</text><text x="802.9" y="315.6" font-family="DejaVu Math TeX Gyre, DejaVu Sans, sans-serif" font-size="38.5" fill="#5a69a7">↓</text><text x="821.8" y="317" font-family="DejaVu Math TeX Gyre, DejaVu Sans, sans-serif" font-size="43" textLength="11.9" lengthAdjust="spacingAndGlyphs" fill="#5a69a7">⟩</text><text x="835" y="328.3" font-family="Liberation Sans, Arial, sans-serif" font-size="20.5" fill="#5a69a7">e</text><text x="757.8" y="409" font-family="DejaVu Math TeX Gyre, DejaVu Sans, sans-serif" font-size="41" textLength="5.7" lengthAdjust="spacingAndGlyphs" fill="#5a69a7">|</text><text x="771.6" y="410" font-family="Liberation Sans, Arial, sans-serif" font-size="29.5" fill="#5a69a7">K</text><text x="790.5" y="410" font-family="DejaVu Math TeX Gyre, DejaVu Sans, sans-serif" font-size="29" fill="#5a69a7">′</text><text x="802.9" y="406.6" font-family="DejaVu Math TeX Gyre, DejaVu Sans, sans-serif" font-size="38.5" fill="#5a69a7">↑</text><text x="821.8" y="408" font-family="DejaVu Math TeX Gyre, DejaVu Sans, sans-serif" font-size="43" textLength="11.9" lengthAdjust="spacingAndGlyphs" fill="#5a69a7">⟩</text><text x="835" y="419.3" font-family="Liberation Sans, Arial, sans-serif" font-size="20.5" fill="#5a69a7">e</text><text x="22.8" y="126.2" font-family="DejaVu Math TeX Gyre, DejaVu Sans, sans-serif" font-size="41" textLength="5.7" lengthAdjust="spacingAndGlyphs" fill="#5a69a7">|</text><text x="32.9" y="125" font-family="Liberation Sans, Arial, sans-serif" font-size="29.5" fill="#5a69a7">K</text><text x="60.2" y="125.5" font-family="DejaVu Math TeX Gyre, DejaVu Sans, sans-serif" font-size="35.3" fill="#5a69a7">→</text><text x="90.2" y="127.4" font-family="DejaVu Math TeX Gyre, DejaVu Sans, sans-serif" font-size="43" textLength="11.9" lengthAdjust="spacingAndGlyphs" fill="#5a69a7">⟩</text><text x="102.3" y="137" font-family="Liberation Sans, Arial, sans-serif" font-size="20.5" fill="#5a69a7">e</text><text x="22.8" y="173.2" font-family="DejaVu Math TeX Gyre, DejaVu Sans, sans-serif" font-size="41" textLength="5.7" lengthAdjust="spacingAndGlyphs" fill="#5a69a7">|</text><text x="32.9" y="172" font-family="Liberation Sans, Arial, sans-serif" font-size="29.5" fill="#5a69a7">K</text><text x="51.8" y="172" font-family="DejaVu Math TeX Gyre, DejaVu Sans, sans-serif" font-size="29" fill="#5a69a7">′</text><text x="60.2" y="172.5" font-family="DejaVu Math TeX Gyre, DejaVu Sans, sans-serif" font-size="35.3" fill="#5a69a7">→</text><text x="90.2" y="174.4" font-family="DejaVu Math TeX Gyre, DejaVu Sans, sans-serif" font-size="43" textLength="11.9" lengthAdjust="spacingAndGlyphs" fill="#5a69a7">⟩</text><text x="102.3" y="184" font-family="Liberation Sans, Arial, sans-serif" font-size="20.5" fill="#5a69a7">e</text><text x="22.8" y="287.1" font-family="DejaVu Math TeX Gyre, DejaVu Sans, sans-serif" font-size="41" textLength="5.7" lengthAdjust="spacingAndGlyphs" fill="#5a69a7">|</text><text x="32.9" y="285.9" font-family="Liberation Sans, Arial, sans-serif" font-size="29.5" fill="#5a69a7">K</text><text x="60.2" y="286.4" font-family="DejaVu Math TeX Gyre, DejaVu Sans, sans-serif" font-size="35.3" fill="#5a69a7">←</text><text x="90.2" y="288.3" font-family="DejaVu Math TeX Gyre, DejaVu Sans, sans-serif" font-size="43" textLength="11.9" lengthAdjust="spacingAndGlyphs" fill="#5a69a7">⟩</text><text x="102.3" y="297.9" font-family="Liberation Sans, Arial, sans-serif" font-size="20.5" fill="#5a69a7">e</text><text x="22.8" y="336.5" font-family="DejaVu Math TeX Gyre, DejaVu Sans, sans-serif" font-size="41" textLength="5.7" lengthAdjust="spacingAndGlyphs" fill="#5a69a7">|</text><text x="32.9" y="335.3" font-family="Liberation Sans, Arial, sans-serif" font-size="29.5" fill="#5a69a7">K</text><text x="51.8" y="335.3" font-family="DejaVu Math TeX Gyre, DejaVu Sans, sans-serif" font-size="29" fill="#5a69a7">′</text><text x="60.2" y="335.8" font-family="DejaVu Math TeX Gyre, DejaVu Sans, sans-serif" font-size="35.3" fill="#5a69a7">←</text><text x="90.2" y="337.7" font-family="DejaVu Math TeX Gyre, DejaVu Sans, sans-serif" font-size="43" textLength="11.9" lengthAdjust="spacingAndGlyphs" fill="#5a69a7">⟩</text><text x="102.3" y="347.3" font-family="Liberation Sans, Arial, sans-serif" font-size="20.5" fill="#5a69a7">e</text><text x="22.8" y="766.2" font-family="DejaVu Math TeX Gyre, DejaVu Sans, sans-serif" font-size="41" textLength="5.7" lengthAdjust="spacingAndGlyphs" fill="#cc4153">|</text><text x="33.3" y="765" font-family="Liberation Sans, Arial, sans-serif" font-size="29.5" fill="#cc4153">K</text><text x="52.2" y="765" font-family="DejaVu Math TeX Gyre, DejaVu Sans, sans-serif" font-size="29" fill="#cc4153">′</text><text x="60.6" y="765.5" font-family="DejaVu Math TeX Gyre, DejaVu Sans, sans-serif" font-size="35.3" fill="#cc4153">←</text><text x="90.6" y="767.4" font-family="DejaVu Math TeX Gyre, DejaVu Sans, sans-serif" font-size="43" textLength="11.9" lengthAdjust="spacingAndGlyphs" fill="#cc4153">⟩</text><text x="102.7" y="777" font-family="Liberation Sans, Arial, sans-serif" font-size="20.5" fill="#cc4153">h</text><text x="22.8" y="815" font-family="DejaVu Math TeX Gyre, DejaVu Sans, sans-serif" font-size="41" textLength="5.7" lengthAdjust="spacingAndGlyphs" fill="#cc4153">|</text><text x="33.3" y="813.8" font-family="Liberation Sans, Arial, sans-serif" font-size="29.5" fill="#cc4153">K</text><text x="60.6" y="814.3" font-family="DejaVu Math TeX Gyre, DejaVu Sans, sans-serif" font-size="35.3" fill="#cc4153">←</text><text x="90.6" y="816.2" font-family="DejaVu Math TeX Gyre, DejaVu Sans, sans-serif" font-size="43" textLength="11.9" lengthAdjust="spacingAndGlyphs" fill="#cc4153">⟩</text><text x="102.7" y="825.8" font-family="Liberation Sans, Arial, sans-serif" font-size="20.5" fill="#cc4153">h</text><text x="22.8" y="932.6" font-family="DejaVu Math TeX Gyre, DejaVu Sans, sans-serif" font-size="41" textLength="5.7" lengthAdjust="spacingAndGlyphs" fill="#cc4153">|</text><text x="33.3" y="931.4" font-family="Liberation Sans, Arial, sans-serif" font-size="29.5" fill="#cc4153">K</text><text x="52.2" y="931.4" font-family="DejaVu Math TeX Gyre, DejaVu Sans, sans-serif" font-size="29" fill="#cc4153">′</text><text x="60.6" y="931.9" font-family="DejaVu Math TeX Gyre, DejaVu Sans, sans-serif" font-size="35.3" fill="#cc4153">→</text><text x="90.6" y="933.8" font-family="DejaVu Math TeX Gyre, DejaVu Sans, sans-serif" font-size="43" textLength="11.9" lengthAdjust="spacingAndGlyphs" fill="#cc4153">⟩</text><text x="102.7" y="943.4" font-family="Liberation Sans, Arial, sans-serif" font-size="20.5" fill="#cc4153">h</text><text x="22.8" y="978.6" font-family="DejaVu Math TeX Gyre, DejaVu Sans, sans-serif" font-size="41" textLength="5.7" lengthAdjust="spacingAndGlyphs" fill="#cc4153">|</text><text x="33.3" y="977.4" font-family="Liberation Sans, Arial, sans-serif" font-size="29.5" fill="#cc4153">K</text><text x="60.6" y="977.9" font-family="DejaVu Math TeX Gyre, DejaVu Sans, sans-serif" font-size="35.3" fill="#cc4153">→</text><text x="90.6" y="979.8" font-family="DejaVu Math TeX Gyre, DejaVu Sans, sans-serif" font-size="43" textLength="11.9" lengthAdjust="spacingAndGlyphs" fill="#cc4153">⟩</text><text x="102.7" y="989.4" font-family="Liberation Sans, Arial, sans-serif" font-size="20.5" fill="#cc4153">h</text><text x="757.8" y="694.4" font-family="DejaVu Math TeX Gyre, DejaVu Sans, sans-serif" font-size="41" textLength="5.7" lengthAdjust="spacingAndGlyphs" fill="#cc4153">|</text><text x="769.1" y="695.4" font-family="Liberation Sans, Arial, sans-serif" font-size="29.5" fill="#cc4153">K</text><text x="788" y="695.4" font-family="DejaVu Math TeX Gyre, DejaVu Sans, sans-serif" font-size="29" fill="#cc4153">′</text><text x="800.4" y="692" font-family="DejaVu Math TeX Gyre, DejaVu Sans, sans-serif" font-size="38.5" fill="#cc4153">↑</text><text x="819.3" y="693.4" font-family="DejaVu Math TeX Gyre, DejaVu Sans, sans-serif" font-size="43" textLength="11.9" lengthAdjust="spacingAndGlyphs" fill="#cc4153">⟩</text><text x="832.5" y="706.9" font-family="Liberation Sans, Arial, sans-serif" font-size="20.5" fill="#cc4153">h</text><text x="757.8" y="800" font-family="DejaVu Math TeX Gyre, DejaVu Sans, sans-serif" font-size="41" textLength="5.7" lengthAdjust="spacingAndGlyphs" fill="#cc4153">|</text><text x="769.1" y="801" font-family="Liberation Sans, Arial, sans-serif" font-size="29.5" fill="#cc4153">K</text><text x="788" y="801" font-family="DejaVu Math TeX Gyre, DejaVu Sans, sans-serif" font-size="29" fill="#cc4153">′</text><text x="800.4" y="797.6" font-family="DejaVu Math TeX Gyre, DejaVu Sans, sans-serif" font-size="38.5" fill="#cc4153">↓</text><text x="819.3" y="799" font-family="DejaVu Math TeX Gyre, DejaVu Sans, sans-serif" font-size="43" textLength="11.9" lengthAdjust="spacingAndGlyphs" fill="#cc4153">⟩</text><text x="832.5" y="812.5" font-family="Liberation Sans, Arial, sans-serif" font-size="20.5" fill="#cc4153">h</text><text x="757.8" y="996" font-family="DejaVu Math TeX Gyre, DejaVu Sans, sans-serif" font-size="41" textLength="5.7" lengthAdjust="spacingAndGlyphs" fill="#cc4153">|</text><text x="769.1" y="997" font-family="Liberation Sans, Arial, sans-serif" font-size="29.5" fill="#cc4153">K</text><text x="798.8" y="993.6" font-family="DejaVu Math TeX Gyre, DejaVu Sans, sans-serif" font-size="38.5" fill="#cc4153">↓</text><text x="819.3" y="995" font-family="DejaVu Math TeX Gyre, DejaVu Sans, sans-serif" font-size="43" textLength="11.9" lengthAdjust="spacingAndGlyphs" fill="#cc4153">⟩</text><text x="832.5" y="1008.5" font-family="Liberation Sans, Arial, sans-serif" font-size="20.5" fill="#cc4153">h</text><text x="757.8" y="1040.8" font-family="DejaVu Math TeX Gyre, DejaVu Sans, sans-serif" font-size="41" textLength="5.7" lengthAdjust="spacingAndGlyphs" fill="#cc4153">|</text><text x="769.1" y="1041.8" font-family="Liberation Sans, Arial, sans-serif" font-size="29.5" fill="#cc4153">K</text><text x="798.8" y="1038.4" font-family="DejaVu Math TeX Gyre, DejaVu Sans, sans-serif" font-size="38.5" fill="#cc4153">↑</text><text x="819.3" y="1039.8" font-family="DejaVu Math TeX Gyre, DejaVu Sans, sans-serif" font-size="43" textLength="11.9" lengthAdjust="spacingAndGlyphs" fill="#cc4153">⟩</text><text x="832.5" y="1053.3" font-family="Liberation Sans, Arial, sans-serif" font-size="20.5" fill="#cc4153">h</text><rect x="981" y="24" width="4" height="487" fill="url(#b0)"/><rect x="985" y="24" width="4" height="487" fill="url(#b1)"/><rect x="989" y="24" width="4" height="487" fill="url(#b2)"/><rect x="993" y="24" width="4" height="487" fill="url(#b3)"/><rect x="997" y="24" width="4" height="487" fill="url(#b4)"/><rect x="1001" y="24" width="4" height="487" fill="url(#b5)"/><rect x="1005" y="24" width="4" height="487" fill="url(#b6)"/><rect x="1009" y="24" width="4" height="487" fill="url(#b7)"/><rect x="1013" y="24" width="4" height="487" fill="url(#b8)"/><rect x="1017" y="24" width="4" height="487" fill="url(#b9)"/><rect x="1021" y="24" width="4" height="487" fill="url(#b10)"/><rect x="1025" y="24" width="4" height="487" fill="url(#b11)"/><rect x="1029" y="24" width="4" height="487" fill="url(#b12)"/><rect x="1033" y="24" width="4" height="487" fill="url(#b13)"/><rect x="1037" y="24" width="4" height="487" fill="url(#b14)"/><rect x="1041" y="24" width="4" height="487" fill="url(#b15)"/><rect x="1045" y="24" width="4" height="487" fill="url(#b16)"/><rect x="1049" y="24" width="4" height="487" fill="url(#b17)"/><rect x="1053" y="24" width="4" height="487" fill="url(#b18)"/><rect x="1057" y="24" width="4" height="487" fill="url(#b19)"/><rect x="1061" y="24" width="4" height="487" fill="url(#b20)"/><rect x="1065" y="24" width="4" height="487" fill="url(#b21)"/><rect x="1069" y="24" width="4" height="487" fill="url(#b22)"/><rect x="1073" y="24" width="4" height="487" fill="url(#b23)"/><rect x="1077" y="24" width="4" height="487" fill="url(#b24)"/><rect x="1081" y="24" width="4" height="487" fill="url(#b25)"/><rect x="1085" y="24" width="4" height="487" fill="url(#b26)"/><rect x="1089" y="24" width="4" height="487" fill="url(#b27)"/><rect x="1093" y="24" width="4" height="487" fill="url(#b28)"/><rect x="1097" y="24" width="4" height="487" fill="url(#b29)"/><rect x="1101" y="24" width="4" height="487" fill="url(#b30)"/><rect x="1105" y="24" width="4" height="487" fill="url(#b31)"/><rect x="1109" y="24" width="4" height="487" fill="url(#b32)"/><rect x="1113" y="24" width="4" height="487" fill="url(#b33)"/><rect x="1117" y="24" width="4" height="487" fill="url(#b34)"/><rect x="1121" y="24" width="4" height="487" fill="url(#b35)"/><rect x="1125" y="24" width="4" height="487" fill="url(#b36)"/><rect x="1129" y="24" width="4" height="487" fill="url(#b37)"/><rect x="1133" y="24" width="4" height="487" fill="url(#b38)"/><rect x="1137" y="24" width="4" height="487" fill="url(#b39)"/><rect x="1141" y="24" width="4" height="487" fill="url(#b40)"/><rect x="1145" y="24" width="4" height="487" fill="url(#b41)"/><rect x="1149" y="24" width="4" height="487" fill="url(#b42)"/><rect x="1153" y="24" width="4" height="487" fill="url(#b43)"/><rect x="1157" y="24" width="4" height="487" fill="url(#b44)"/><rect x="1161" y="24" width="4" height="487" fill="url(#b45)"/><rect x="1165" y="24" width="4" height="487" fill="url(#b46)"/><rect x="1169" y="24" width="4" height="487" fill="url(#b47)"/><rect x="1173" y="24" width="4" height="487" fill="url(#b48)"/><rect x="1177" y="24" width="4" height="487" fill="url(#b49)"/><rect x="1181" y="24" width="4" height="487" fill="url(#b50)"/><rect x="1185" y="24" width="4" height="487" fill="url(#b51)"/><rect x="1189" y="24" width="4" height="487" fill="url(#b52)"/><rect x="1193" y="24" width="4" height="487" fill="url(#b53)"/><rect x="1197" y="24" width="4" height="487" fill="url(#b54)"/><rect x="1201" y="24" width="4" height="487" fill="url(#b55)"/><rect x="1205" y="24" width="4" height="487" fill="url(#b56)"/><rect x="1209" y="24" width="4" height="487" fill="url(#b57)"/><rect x="1213" y="24" width="4" height="487" fill="url(#b58)"/><rect x="1217" y="24" width="4" height="487" fill="url(#b59)"/><rect x="1221" y="24" width="4" height="487" fill="url(#b60)"/><rect x="1225" y="24" width="4" height="487" fill="url(#b61)"/><rect x="1229" y="24" width="4" height="487" fill="url(#b62)"/><rect x="1233" y="24" width="4" height="487" fill="url(#b63)"/><rect x="1237" y="24" width="4" height="487" fill="url(#b64)"/><rect x="1241" y="24" width="4" height="487" fill="url(#b65)"/><rect x="1245" y="24" width="4" height="487" fill="url(#b66)"/><rect x="1249" y="24" width="4" height="487" fill="url(#b67)"/><rect x="1253" y="24" width="4" height="487" fill="url(#b68)"/><rect x="1257" y="24" width="4" height="487" fill="url(#b69)"/><rect x="1261" y="24" width="4" height="487" fill="url(#b70)"/><rect x="1265" y="24" width="4" height="487" fill="url(#b71)"/><rect x="1269" y="24" width="4" height="487" fill="url(#b72)"/><rect x="1273" y="24" width="4" height="487" fill="url(#b73)"/><rect x="1277" y="24" width="4" height="487" fill="url(#b74)"/><rect x="1281" y="24" width="4" height="487" fill="url(#b75)"/><rect x="1285" y="24" width="4" height="487" fill="url(#b76)"/><rect x="1289" y="24" width="4" height="487" fill="url(#b77)"/><rect x="1293" y="24" width="4" height="487" fill="url(#b78)"/><rect x="1297" y="24" width="4" height="487" fill="url(#b79)"/><rect x="1301" y="24" width="4" height="487" fill="url(#b80)"/><rect x="1305" y="24" width="4" height="487" fill="url(#b81)"/><rect x="1309" y="24" width="4" height="487" fill="url(#b82)"/><rect x="1313" y="24" width="4" height="487" fill="url(#b83)"/><rect x="1317" y="24" width="4" height="487" fill="url(#b84)"/><rect x="1321" y="24" width="4" height="487" fill="url(#b85)"/><rect x="1325" y="24" width="4" height="487" fill="url(#b86)"/><rect x="1329" y="24" width="4" height="487" fill="url(#b87)"/><rect x="1333" y="24" width="4" height="487" fill="url(#b88)"/><rect x="1337" y="24" width="4" height="487" fill="url(#b89)"/><rect x="1341" y="24" width="4" height="487" fill="url(#b90)"/><rect x="1345" y="24" width="4" height="487" fill="url(#b91)"/><rect x="1349" y="24" width="4" height="487" fill="url(#b92)"/><rect x="1353" y="24" width="4" height="487" fill="url(#b93)"/><rect x="1357" y="24" width="4" height="487" fill="url(#b94)"/><rect x="1361" y="24" width="4" height="487" fill="url(#b95)"/><rect x="1365" y="24" width="4" height="487" fill="url(#b96)"/><rect x="1369" y="24" width="4" height="487" fill="url(#b97)"/><rect x="1373" y="24" width="4" height="487" fill="url(#b98)"/><rect x="1377" y="24" width="4" height="487" fill="url(#b99)"/><rect x="1381" y="24" width="4" height="487" fill="url(#b100)"/><rect x="1385" y="24" width="4" height="487" fill="url(#b101)"/><rect x="1389" y="24" width="4" height="487" fill="url(#b102)"/><rect x="1393" y="24" width="4" height="487" fill="url(#b103)"/><rect x="1397" y="24" width="4" height="487" fill="url(#b104)"/><rect x="1401" y="24" width="4" height="487" fill="url(#b105)"/><rect x="1405" y="24" width="4" height="487" fill="url(#b106)"/><rect x="1409" y="24" width="4" height="487" fill="url(#b107)"/><rect x="1413" y="24" width="4" height="487" fill="url(#b108)"/><rect x="1417" y="24" width="4" height="487" fill="url(#b109)"/><rect x="1421" y="24" width="4" height="487" fill="url(#b110)"/><rect x="1425" y="24" width="4" height="487" fill="url(#b111)"/><rect x="1429" y="24" width="4" height="487" fill="url(#b112)"/><rect x="1433" y="24" width="4" height="487" fill="url(#b113)"/><rect x="1437" y="24" width="4" height="487" fill="url(#b114)"/><rect x="1441" y="24" width="4" height="487" fill="url(#b115)"/><rect x="1445" y="24" width="4" height="487" fill="url(#b116)"/><rect x="1449" y="24" width="4" height="487" fill="url(#b117)"/><rect x="1453" y="24" width="4" height="487" fill="url(#b118)"/><rect x="1457" y="24" width="4" height="487" fill="url(#b119)"/><rect x="1461" y="24" width="4" height="487" fill="url(#b120)"/><rect x="1465" y="24" width="4" height="487" fill="url(#b121)"/><rect x="1469" y="24" width="1" height="487" fill="url(#b122)"/><rect x="1580" y="24" width="49" height="488" fill="url(#c0)"/><rect x="1629" y="24" width="49" height="488" fill="url(#c1)"/><rect x="1678" y="24" width="49" height="488" fill="url(#c2)"/><rect x="1727" y="24" width="49" height="488" fill="url(#c3)"/><rect x="1776" y="24" width="49" height="488" fill="url(#c4)"/><rect x="1825" y="24" width="49" height="488" fill="url(#c5)"/><rect x="1874" y="24" width="49" height="488" fill="url(#c6)"/><rect x="1923" y="24" width="49" height="488" fill="url(#c7)"/><rect x="1972" y="24" width="49" height="488" fill="url(#c8)"/><rect x="2021" y="24" width="48" height="488" fill="url(#c9)"/><rect x="981" y="612" width="5" height="486" fill="url(#d0)"/><rect x="986" y="612" width="5" height="486" fill="url(#d1)"/><rect x="991" y="612" width="5" height="486" fill="url(#d2)"/><rect x="996" y="612" width="5" height="486" fill="url(#d3)"/><rect x="1001" y="612" width="5" height="486" fill="url(#d4)"/><rect x="1006" y="612" width="5" height="486" fill="url(#d5)"/><rect x="1011" y="612" width="5" height="486" fill="url(#d6)"/><rect x="1016" y="612" width="5" height="486" fill="url(#d7)"/><rect x="1021" y="612" width="5" height="486" fill="url(#d8)"/><rect x="1026" y="612" width="5" height="486" fill="url(#d9)"/><rect x="1031" y="612" width="5" height="486" fill="url(#d10)"/><rect x="1036" y="612" width="5" height="486" fill="url(#d11)"/><rect x="1041" y="612" width="5" height="486" fill="url(#d12)"/><rect x="1046" y="612" width="5" height="486" fill="url(#d13)"/><rect x="1051" y="612" width="5" height="486" fill="url(#d14)"/><rect x="1056" y="612" width="5" height="486" fill="url(#d15)"/><rect x="1061" y="612" width="5" height="486" fill="url(#d16)"/><rect x="1066" y="612" width="5" height="486" fill="url(#d17)"/><rect x="1071" y="612" width="5" height="486" fill="url(#d18)"/><rect x="1076" y="612" width="5" height="486" fill="url(#d19)"/><rect x="1081" y="612" width="5" height="486" fill="url(#d20)"/><rect x="1086" y="612" width="5" height="486" fill="url(#d21)"/><rect x="1091" y="612" width="5" height="486" fill="url(#d22)"/><rect x="1096" y="612" width="5" height="486" fill="url(#d23)"/><rect x="1101" y="612" width="5" height="486" fill="url(#d24)"/><rect x="1106" y="612" width="5" height="486" fill="url(#d25)"/><rect x="1111" y="612" width="5" height="486" fill="url(#d26)"/><rect x="1116" y="612" width="5" height="486" fill="url(#d27)"/><rect x="1121" y="612" width="5" height="486" fill="url(#d28)"/><rect x="1126" y="612" width="5" height="486" fill="url(#d29)"/><rect x="1131" y="612" width="5" height="486" fill="url(#d30)"/><rect x="1136" y="612" width="5" height="486" fill="url(#d31)"/><rect x="1141" y="612" width="5" height="486" fill="url(#d32)"/><rect x="1146" y="612" width="5" height="486" fill="url(#d33)"/><rect x="1151" y="612" width="5" height="486" fill="url(#d34)"/><rect x="1156" y="612" width="5" height="486" fill="url(#d35)"/><rect x="1161" y="612" width="5" height="486" fill="url(#d36)"/><rect x="1166" y="612" width="5" height="486" fill="url(#d37)"/><rect x="1171" y="612" width="5" height="486" fill="url(#d38)"/><rect x="1176" y="612" width="5" height="486" fill="url(#d39)"/><rect x="1181" y="612" width="5" height="486" fill="url(#d40)"/><rect x="1186" y="612" width="5" height="486" fill="url(#d41)"/><rect x="1191" y="612" width="5" height="486" fill="url(#d42)"/><rect x="1196" y="612" width="5" height="486" fill="url(#d43)"/><rect x="1201" y="612" width="5" height="486" fill="url(#d44)"/><rect x="1206" y="612" width="5" height="486" fill="url(#d45)"/><rect x="1211" y="612" width="5" height="486" fill="url(#d46)"/><rect x="1216" y="612" width="5" height="486" fill="url(#d47)"/><rect x="1221" y="612" width="5" height="486" fill="url(#d48)"/><rect x="1226" y="612" width="5" height="486" fill="url(#d49)"/><rect x="1231" y="612" width="5" height="486" fill="url(#d50)"/><rect x="1236" y="612" width="5" height="486" fill="url(#d51)"/><rect x="1241" y="612" width="5" height="486" fill="url(#d52)"/><rect x="1246" y="612" width="5" height="486" fill="url(#d53)"/><rect x="1251" y="612" width="5" height="486" fill="url(#d54)"/><rect x="1256" y="612" width="5" height="486" fill="url(#d55)"/><rect x="1261" y="612" width="5" height="486" fill="url(#d56)"/><rect x="1266" y="612" width="5" height="486" fill="url(#d57)"/><rect x="1271" y="612" width="5" height="486" fill="url(#d58)"/><rect x="1276" y="612" width="5" height="486" fill="url(#d59)"/><rect x="1281" y="612" width="5" height="486" fill="url(#d60)"/><rect x="1286" y="612" width="5" height="486" fill="url(#d61)"/><rect x="1291" y="612" width="5" height="486" fill="url(#d62)"/><rect x="1296" y="612" width="5" height="486" fill="url(#d63)"/><rect x="1301" y="612" width="5" height="486" fill="url(#d64)"/><rect x="1306" y="612" width="5" height="486" fill="url(#d65)"/><rect x="1311" y="612" width="5" height="486" fill="url(#d66)"/><rect x="1316" y="612" width="5" height="486" fill="url(#d67)"/><rect x="1321" y="612" width="5" height="486" fill="url(#d68)"/><rect x="1326" y="612" width="5" height="486" fill="url(#d69)"/><rect x="1331" y="612" width="5" height="486" fill="url(#d70)"/><rect x="1336" y="612" width="5" height="486" fill="url(#d71)"/><rect x="1341" y="612" width="5" height="486" fill="url(#d72)"/><rect x="1346" y="612" width="5" height="486" fill="url(#d73)"/><rect x="1351" y="612" width="5" height="486" fill="url(#d74)"/><rect x="1356" y="612" width="5" height="486" fill="url(#d75)"/><rect x="1361" y="612" width="5" height="486" fill="url(#d76)"/><rect x="1366" y="612" width="5" height="486" fill="url(#d77)"/><rect x="1371" y="612" width="5" height="486" fill="url(#d78)"/><rect x="1376" y="612" width="5" height="486" fill="url(#d79)"/><rect x="1381" y="612" width="5" height="486" fill="url(#d80)"/><rect x="1386" y="612" width="5" height="486" fill="url(#d81)"/><rect x="1391" y="612" width="5" height="486" fill="url(#d82)"/><rect x="1396" y="612" width="5" height="486" fill="url(#d83)"/><rect x="1401" y="612" width="5" height="486" fill="url(#d84)"/><rect x="1406" y="612" width="5" height="486" fill="url(#d85)"/><rect x="1411" y="612" width="5" height="486" fill="url(#d86)"/><rect x="1416" y="612" width="5" height="486" fill="url(#d87)"/><rect x="1421" y="612" width="5" height="486" fill="url(#d88)"/><rect x="1426" y="612" width="5" height="486" fill="url(#d89)"/><rect x="1431" y="612" width="5" height="486" fill="url(#d90)"/><rect x="1436" y="612" width="5" height="486" fill="url(#d91)"/><rect x="1441" y="612" width="5" height="486" fill="url(#d92)"/><rect x="1446" y="612" width="5" height="486" fill="url(#d93)"/><rect x="1451" y="612" width="5" height="486" fill="url(#d94)"/><rect x="1456" y="612" width="5" height="486" fill="url(#d95)"/><rect x="1461" y="612" width="5" height="486" fill="url(#d96)"/><rect x="1466" y="612" width="4" height="486" fill="url(#d97)"/><rect x="1581" y="612" width="487" height="486" fill="url(#e0)"/><rect x="981" y="24" width="3" height="487" fill="#fff" opacity="0.02"/><rect x="987" y="24" width="1" height="487" fill="#000" opacity="0.03"/><rect x="988" y="24" width="1" height="487" fill="#000" opacity="0.02"/><rect x="989" y="24" width="2" height="487" fill="#000" opacity="0.02"/><rect x="991" y="24" width="1" height="487" fill="#fff" opacity="0.05"/><rect x="992" y="24" width="1" height="487" fill="#000" opacity="0.04"/><rect x="993" y="24" width="1" height="487" fill="#fff" opacity="0.05"/><rect x="994" y="24" width="3" height="487" fill="#fff" opacity="0.04"/><rect x="997" y="24" width="1" height="487" fill="#fff" opacity="0.07"/><rect x="998" y="24" width="1" height="487" fill="#fff" opacity="0.07"/><rect x="999" y="24" width="1" height="487" fill="#000" opacity="0.01"/><rect x="1000" y="24" width="3" height="487" fill="#000" opacity="0.04"/><rect x="1003" y="24" width="1" height="487" fill="#000" opacity="0.04"/><rect x="1004" y="24" width="2" height="487" fill="#fff" opacity="0.02"/><rect x="1006" y="24" width="1" height="487" fill="#fff" opacity="0.07"/><rect x="1007" y="24" width="2" height="487" fill="#000" opacity="0.01"/><rect x="1009" y="24" width="1" height="487" fill="#000" opacity="0.03"/><rect x="1010" y="24" width="1" height="487" fill="#000" opacity="0.01"/><rect x="1011" y="24" width="2" height="487" fill="#fff" opacity="0.05"/><rect x="1013" y="24" width="2" height="487" fill="#fff" opacity="0.05"/><rect x="1015" y="24" width="1" height="487" fill="#fff" opacity="0.07"/><rect x="1018" y="24" width="2" height="487" fill="#000" opacity="0.02"/><rect x="1023" y="24" width="2" height="487" fill="#fff" opacity="0.02"/><rect x="1025" y="24" width="3" height="487" fill="#fff" opacity="0.02"/><rect x="1028" y="24" width="3" height="487" fill="#000" opacity="0.03"/><rect x="1034" y="24" width="2" height="487" fill="#fff" opacity="0.06"/><rect x="1039" y="24" width="2" height="487" fill="#fff" opacity="0.01"/><rect x="1041" y="24" width="1" height="487" fill="#fff" opacity="0.05"/><rect x="1044" y="24" width="3" height="487" fill="#fff" opacity="0.04"/><rect x="1047" y="24" width="1" height="487" fill="#fff" opacity="0.05"/><rect x="1048" y="24" width="2" height="487" fill="#fff" opacity="0.03"/><rect x="1050" y="24" width="1" height="487" fill="#000" opacity="0.04"/><rect x="1051" y="24" width="2" height="487" fill="#fff" opacity="0.02"/><rect x="1053" y="24" width="3" height="487" fill="#000" opacity="0.04"/><rect x="1059" y="24" width="1" height="487" fill="#000" opacity="0.02"/><rect x="1060" y="24" width="1" height="487" fill="#fff" opacity="0.07"/><rect x="1061" y="24" width="2" height="487" fill="#fff" opacity="0.05"/><rect x="1063" y="24" width="2" height="487" fill="#fff" opacity="0.02"/><rect x="1066" y="24" width="3" height="487" fill="#000" opacity="0.04"/><rect x="1069" y="24" width="2" height="487" fill="#fff" opacity="0.06"/><rect x="1073" y="24" width="3" height="487" fill="#000" opacity="0.02"/><rect x="1076" y="24" width="2" height="487" fill="#000" opacity="0.03"/><rect x="1078" y="24" width="2" height="487" fill="#000" opacity="0.02"/><rect x="1080" y="24" width="2" height="487" fill="#fff" opacity="0.06"/><rect x="1082" y="24" width="2" height="487" fill="#fff" opacity="0.07"/><rect x="1084" y="24" width="1" height="487" fill="#fff" opacity="0.04"/><rect x="1085" y="24" width="3" height="487" fill="#fff" opacity="0.05"/><rect x="1088" y="24" width="2" height="487" fill="#000" opacity="0.02"/><rect x="1090" y="24" width="2" height="487" fill="#000" opacity="0.01"/><rect x="1092" y="24" width="2" height="487" fill="#000" opacity="0.01"/><rect x="1094" y="24" width="2" height="487" fill="#000" opacity="0.04"/><rect x="1099" y="24" width="1" height="487" fill="#000" opacity="0.04"/><rect x="1100" y="24" width="2" height="487" fill="#fff" opacity="0.02"/><rect x="1104" y="24" width="3" height="487" fill="#000" opacity="0.02"/><rect x="1107" y="24" width="2" height="487" fill="#000" opacity="0.03"/><rect x="1109" y="24" width="2" height="487" fill="#fff" opacity="0.05"/><rect x="1111" y="24" width="1" height="487" fill="#000" opacity="0.02"/><rect x="1113" y="24" width="1" height="487" fill="#000" opacity="0.04"/><rect x="1115" y="24" width="2" height="487" fill="#fff" opacity="0.07"/><rect x="1120" y="24" width="2" height="487" fill="#fff" opacity="0.05"/><rect x="1123" y="24" width="1" height="487" fill="#000" opacity="0.01"/><rect x="1124" y="24" width="2" height="487" fill="#000" opacity="0.04"/><rect x="1126" y="24" width="3" height="487" fill="#fff" opacity="0.03"/><rect x="1129" y="24" width="3" height="487" fill="#fff" opacity="0.02"/><rect x="1132" y="24" width="3" height="487" fill="#000" opacity="0.01"/><rect x="1135" y="24" width="2" height="487" fill="#fff" opacity="0.06"/><rect x="1137" y="24" width="3" height="487" fill="#fff" opacity="0.04"/><rect x="1141" y="24" width="2" height="487" fill="#000" opacity="0.04"/><rect x="1146" y="24" width="1" height="487" fill="#fff" opacity="0.03"/><rect x="1147" y="24" width="3" height="487" fill="#fff" opacity="0.04"/><rect x="1150" y="24" width="3" height="487" fill="#fff" opacity="0.03"/><rect x="1153" y="24" width="1" height="487" fill="#fff" opacity="0.03"/><rect x="1154" y="24" width="2" height="487" fill="#000" opacity="0.02"/><rect x="1156" y="24" width="1" height="487" fill="#fff" opacity="0.04"/><rect x="1157" y="24" width="2" height="487" fill="#fff" opacity="0.03"/><rect x="1159" y="24" width="2" height="487" fill="#fff" opacity="0.07"/><rect x="1163" y="24" width="3" height="487" fill="#fff" opacity="0.07"/><rect x="1166" y="24" width="1" height="487" fill="#000" opacity="0.03"/><rect x="1167" y="24" width="1" height="487" fill="#000" opacity="0.02"/><rect x="1168" y="24" width="1" height="487" fill="#000" opacity="0.04"/><rect x="1169" y="24" width="1" height="487" fill="#000" opacity="0.02"/><rect x="1170" y="24" width="2" height="487" fill="#000" opacity="0.01"/><rect x="1172" y="24" width="2" height="487" fill="#000" opacity="0.02"/><rect x="1175" y="24" width="2" height="487" fill="#fff" opacity="0.04"/><rect x="1177" y="24" width="2" height="487" fill="#fff" opacity="0.05"/><rect x="1179" y="24" width="2" height="487" fill="#000" opacity="0.02"/><rect x="1184" y="24" width="3" height="487" fill="#000" opacity="0.02"/><rect x="1187" y="24" width="3" height="487" fill="#fff" opacity="0.01"/><rect x="1190" y="24" width="2" height="487" fill="#000" opacity="0.02"/><rect x="1192" y="24" width="2" height="487" fill="#000" opacity="0.04"/><rect x="1194" y="24" width="2" height="487" fill="#000" opacity="0.02"/><rect x="1196" y="24" width="1" height="487" fill="#fff" opacity="0.06"/><rect x="1197" y="24" width="1" height="487" fill="#fff" opacity="0.02"/><rect x="1198" y="24" width="2" height="487" fill="#000" opacity="0.02"/><rect x="1200" y="24" width="2" height="487" fill="#fff" opacity="0.06"/><rect x="1202" y="24" width="2" height="487" fill="#000" opacity="0.03"/><rect x="1204" y="24" width="2" height="487" fill="#fff" opacity="0.04"/><rect x="1206" y="24" width="3" height="487" fill="#fff" opacity="0.06"/><rect x="1209" y="24" width="1" height="487" fill="#fff" opacity="0.02"/><rect x="1210" y="24" width="1" height="487" fill="#fff" opacity="0.05"/><rect x="1211" y="24" width="2" height="487" fill="#000" opacity="0.04"/><rect x="1215" y="24" width="1" height="487" fill="#000" opacity="0.03"/><rect x="1216" y="24" width="1" height="487" fill="#fff" opacity="0.05"/><rect x="1217" y="24" width="2" height="487" fill="#fff" opacity="0.05"/><rect x="1219" y="24" width="1" height="487" fill="#fff" opacity="0.04"/><rect x="1225" y="24" width="1" height="487" fill="#000" opacity="0.03"/><rect x="1227" y="24" width="3" height="487" fill="#fff" opacity="0.03"/><rect x="1230" y="24" width="2" height="487" fill="#fff" opacity="0.06"/><rect x="1234" y="24" width="3" height="487" fill="#000" opacity="0.01"/><rect x="1237" y="24" width="3" height="487" fill="#fff" opacity="0.04"/><rect x="1243" y="24" width="2" height="487" fill="#fff" opacity="0.04"/><rect x="1245" y="24" width="1" height="487" fill="#fff" opacity="0.06"/><rect x="1250" y="24" width="1" height="487" fill="#000" opacity="0.04"/><rect x="1253" y="24" width="2" height="487" fill="#fff" opacity="0.07"/><rect x="1258" y="24" width="1" height="487" fill="#000" opacity="0.04"/><rect x="1259" y="24" width="2" height="487" fill="#fff" opacity="0.05"/><rect x="1262" y="24" width="2" height="487" fill="#fff" opacity="0.06"/><rect x="1264" y="24" width="3" height="487" fill="#000" opacity="0.02"/><rect x="1267" y="24" width="2" height="487" fill="#000" opacity="0.01"/><rect x="1269" y="24" width="2" height="487" fill="#fff" opacity="0.06"/><rect x="1271" y="24" width="2" height="487" fill="#000" opacity="0.03"/><rect x="1273" y="24" width="2" height="487" fill="#fff" opacity="0.07"/><rect x="1275" y="24" width="1" height="487" fill="#000" opacity="0.02"/><rect x="1276" y="24" width="1" height="487" fill="#fff" opacity="0.03"/><rect x="1277" y="24" width="1" height="487" fill="#fff" opacity="0.01"/><rect x="1278" y="24" width="2" height="487" fill="#fff" opacity="0.06"/><rect x="1282" y="24" width="3" height="487" fill="#fff" opacity="0.06"/><rect x="1290" y="24" width="2" height="487" fill="#000" opacity="0.03"/><rect x="1293" y="24" width="2" height="487" fill="#fff" opacity="0.06"/><rect x="1295" y="24" width="1" height="487" fill="#000" opacity="0.03"/><rect x="1296" y="24" width="2" height="487" fill="#fff" opacity="0.06"/><rect x="1298" y="24" width="2" height="487" fill="#000" opacity="0.01"/><rect x="1301" y="24" width="3" height="487" fill="#fff" opacity="0.02"/><rect x="1304" y="24" width="2" height="487" fill="#000" opacity="0.04"/><rect x="1306" y="24" width="2" height="487" fill="#fff" opacity="0.01"/><rect x="1308" y="24" width="1" height="487" fill="#000" opacity="0.03"/><rect x="1309" y="24" width="1" height="487" fill="#fff" opacity="0.05"/><rect x="1310" y="24" width="1" height="487" fill="#000" opacity="0.04"/><rect x="1311" y="24" width="2" height="487" fill="#fff" opacity="0.05"/><rect x="1317" y="24" width="3" height="487" fill="#000" opacity="0.02"/><rect x="1321" y="24" width="1" height="487" fill="#fff" opacity="0.07"/><rect x="1322" y="24" width="1" height="487" fill="#fff" opacity="0.05"/><rect x="1324" y="24" width="2" height="487" fill="#fff" opacity="0.02"/><rect x="1326" y="24" width="1" height="487" fill="#fff" opacity="0.07"/><rect x="1327" y="24" width="3" height="487" fill="#fff" opacity="0.04"/><rect x="1332" y="24" width="1" height="487" fill="#000" opacity="0.03"/><rect x="1333" y="24" width="1" height="487" fill="#fff" opacity="0.04"/><rect x="1334" y="24" width="2" height="487" fill="#000" opacity="0.02"/><rect x="1336" y="24" width="2" height="487" fill="#fff" opacity="0.04"/><rect x="1338" y="24" width="1" height="487" fill="#fff" opacity="0.06"/><rect x="1339" y="24" width="2" height="487" fill="#000" opacity="0.04"/><rect x="1344" y="24" width="1" height="487" fill="#fff" opacity="0.05"/><rect x="1345" y="24" width="2" height="487" fill="#fff" opacity="0.02"/><rect x="1347" y="24" width="1" height="487" fill="#000" opacity="0.02"/><rect x="1348" y="24" width="2" height="487" fill="#000" opacity="0.04"/><rect x="1352" y="24" width="1" height="487" fill="#000" opacity="0.03"/><rect x="1353" y="24" width="2" height="487" fill="#fff" opacity="0.06"/><rect x="1355" y="24" width="2" height="487" fill="#000" opacity="0.02"/><rect x="1357" y="24" width="1" height="487" fill="#000" opacity="0.04"/><rect x="1358" y="24" width="1" height="487" fill="#fff" opacity="0.04"/><rect x="1359" y="24" width="1" height="487" fill="#000" opacity="0.03"/><rect x="1366" y="24" width="2" height="487" fill="#fff" opacity="0.02"/><rect x="1371" y="24" width="1" height="487" fill="#fff" opacity="0.06"/><rect x="1372" y="24" width="2" height="487" fill="#000" opacity="0.04"/><rect x="1374" y="24" width="1" height="487" fill="#fff" opacity="0.04"/><rect x="1375" y="24" width="1" height="487" fill="#fff" opacity="0.02"/><rect x="1376" y="24" width="3" height="487" fill="#fff" opacity="0.04"/><rect x="1380" y="24" width="1" height="487" fill="#000" opacity="0.02"/><rect x="1383" y="24" width="1" height="487" fill="#fff" opacity="0.03"/><rect x="1386" y="24" width="1" height="487" fill="#000" opacity="0.02"/><rect x="1390" y="24" width="2" height="487" fill="#fff" opacity="0.05"/><rect x="1393" y="24" width="2" height="487" fill="#fff" opacity="0.05"/><rect x="1395" y="24" width="2" height="487" fill="#fff" opacity="0.02"/><rect x="1397" y="24" width="1" height="487" fill="#000" opacity="0.01"/><rect x="1398" y="24" width="1" height="487" fill="#000" opacity="0.02"/><rect x="1399" y="24" width="1" height="487" fill="#fff" opacity="0.04"/><rect x="1403" y="24" width="1" height="487" fill="#fff" opacity="0.05"/><rect x="1404" y="24" width="1" height="487" fill="#000" opacity="0.03"/><rect x="1405" y="24" width="2" height="487" fill="#000" opacity="0.03"/><rect x="1411" y="24" width="3" height="487" fill="#fff" opacity="0.01"/><rect x="1414" y="24" width="2" height="487" fill="#000" opacity="0.03"/><rect x="1416" y="24" width="3" height="487" fill="#fff" opacity="0.03"/><rect x="1419" y="24" width="2" height="487" fill="#000" opacity="0.02"/><rect x="1421" y="24" width="3" height="487" fill="#000" opacity="0.04"/><rect x="1424" y="24" width="1" height="487" fill="#000" opacity="0.02"/><rect x="1425" y="24" width="2" height="487" fill="#fff" opacity="0.07"/><rect x="1427" y="24" width="3" height="487" fill="#fff" opacity="0.01"/><rect x="1431" y="24" width="3" height="487" fill="#000" opacity="0.04"/><rect x="1434" y="24" width="2" height="487" fill="#000" opacity="0.01"/><rect x="1436" y="24" width="2" height="487" fill="#fff" opacity="0.07"/><rect x="1438" y="24" width="1" height="487" fill="#000" opacity="0.03"/><rect x="1439" y="24" width="2" height="487" fill="#000" opacity="0.04"/><rect x="1441" y="24" width="3" height="487" fill="#fff" opacity="0.04"/><rect x="1447" y="24" width="2" height="487" fill="#000" opacity="0.04"/><rect x="1449" y="24" width="2" height="487" fill="#000" opacity="0.04"/><rect x="1453" y="24" width="1" height="487" fill="#000" opacity="0.04"/><rect x="1454" y="24" width="2" height="487" fill="#000" opacity="0.01"/><rect x="1456" y="24" width="3" height="487" fill="#000" opacity="0.03"/><rect x="1459" y="24" width="1" height="487" fill="#fff" opacity="0.06"/><rect x="1460" y="24" width="2" height="487" fill="#000" opacity="0.03"/><rect x="1462" y="24" width="1" height="487" fill="#fff" opacity="0.06"/><rect x="1463" y="24" width="2" height="487" fill="#fff" opacity="0.05"/><rect x="1465" y="24" width="1" height="487" fill="#000" opacity="0.02"/><rect x="1466" y="24" width="3" height="487" fill="#fff" opacity="0.05"/><rect x="981" y="612" width="3" height="486" fill="#fff" opacity="0.05"/><rect x="986" y="612" width="3" height="486" fill="#000" opacity="0.02"/><rect x="989" y="612" width="2" height="486" fill="#fff" opacity="0.02"/><rect x="991" y="612" width="2" height="486" fill="#000" opacity="0.03"/><rect x="993" y="612" width="2" height="486" fill="#000" opacity="0.03"/><rect x="996" y="612" width="2" height="486" fill="#000" opacity="0.02"/><rect x="998" y="612" width="1" height="486" fill="#fff" opacity="0.05"/><rect x="999" y="612" width="1" height="486" fill="#fff" opacity="0.02"/><rect x="1000" y="612" width="2" height="486" fill="#fff" opacity="0.03"/><rect x="1002" y="612" width="1" height="486" fill="#000" opacity="0.03"/><rect x="1003" y="612" width="1" height="486" fill="#000" opacity="0.03"/><rect x="1004" y="612" width="1" height="486" fill="#000" opacity="0.03"/><rect x="1005" y="612" width="2" height="486" fill="#000" opacity="0.03"/><rect x="1007" y="612" width="3" height="486" fill="#000" opacity="0.02"/><rect x="1010" y="612" width="3" height="486" fill="#fff" opacity="0.06"/><rect x="1013" y="612" width="2" height="486" fill="#fff" opacity="0.01"/><rect x="1015" y="612" width="2" height="486" fill="#fff" opacity="0.04"/><rect x="1020" y="612" width="2" height="486" fill="#fff" opacity="0.02"/><rect x="1027" y="612" width="1" height="486" fill="#000" opacity="0.02"/><rect x="1028" y="612" width="3" height="486" fill="#fff" opacity="0.04"/><rect x="1031" y="612" width="3" height="486" fill="#fff" opacity="0.02"/><rect x="1038" y="612" width="1" height="486" fill="#000" opacity="0.03"/><rect x="1039" y="612" width="2" height="486" fill="#000" opacity="0.02"/><rect x="1041" y="612" width="1" height="486" fill="#fff" opacity="0.03"/><rect x="1042" y="612" width="2" height="486" fill="#fff" opacity="0.06"/><rect x="1044" y="612" width="2" height="486" fill="#000" opacity="0.02"/><rect x="1047" y="612" width="2" height="486" fill="#fff" opacity="0.04"/><rect x="1049" y="612" width="2" height="486" fill="#fff" opacity="0.03"/><rect x="1051" y="612" width="3" height="486" fill="#fff" opacity="0.02"/><rect x="1054" y="612" width="2" height="486" fill="#fff" opacity="0.04"/><rect x="1056" y="612" width="2" height="486" fill="#fff" opacity="0.04"/><rect x="1058" y="612" width="2" height="486" fill="#000" opacity="0.02"/><rect x="1062" y="612" width="3" height="486" fill="#000" opacity="0.01"/><rect x="1065" y="612" width="2" height="486" fill="#000" opacity="0.02"/><rect x="1067" y="612" width="1" height="486" fill="#fff" opacity="0.06"/><rect x="1068" y="612" width="1" height="486" fill="#000" opacity="0.02"/><rect x="1070" y="612" width="1" height="486" fill="#fff" opacity="0.04"/><rect x="1071" y="612" width="2" height="486" fill="#fff" opacity="0.05"/><rect x="1074" y="612" width="1" height="486" fill="#000" opacity="0.02"/><rect x="1075" y="612" width="3" height="486" fill="#fff" opacity="0.03"/><rect x="1078" y="612" width="1" height="486" fill="#000" opacity="0.01"/><rect x="1079" y="612" width="1" height="486" fill="#fff" opacity="0.04"/><rect x="1080" y="612" width="1" height="486" fill="#fff" opacity="0.04"/><rect x="1081" y="612" width="2" height="486" fill="#000" opacity="0.02"/><rect x="1083" y="612" width="1" height="486" fill="#fff" opacity="0.04"/><rect x="1085" y="612" width="2" height="486" fill="#000" opacity="0.03"/><rect x="1087" y="612" width="2" height="486" fill="#fff" opacity="0.03"/><rect x="1089" y="612" width="1" height="486" fill="#fff" opacity="0.05"/><rect x="1090" y="612" width="2" height="486" fill="#fff" opacity="0.03"/><rect x="1095" y="612" width="1" height="486" fill="#fff" opacity="0.05"/><rect x="1098" y="612" width="1" height="486" fill="#fff" opacity="0.03"/><rect x="1099" y="612" width="2" height="486" fill="#fff" opacity="0.06"/><rect x="1103" y="612" width="3" height="486" fill="#000" opacity="0.02"/><rect x="1106" y="612" width="1" height="486" fill="#fff" opacity="0.04"/><rect x="1108" y="612" width="1" height="486" fill="#fff" opacity="0.04"/><rect x="1110" y="612" width="2" height="486" fill="#fff" opacity="0.03"/><rect x="1112" y="612" width="2" height="486" fill="#fff" opacity="0.04"/><rect x="1114" y="612" width="2" height="486" fill="#fff" opacity="0.03"/><rect x="1116" y="612" width="3" height="486" fill="#fff" opacity="0.04"/><rect x="1119" y="612" width="1" height="486" fill="#000" opacity="0.02"/><rect x="1120" y="612" width="1" height="486" fill="#000" opacity="0.03"/><rect x="1121" y="612" width="1" height="486" fill="#fff" opacity="0.03"/><rect x="1122" y="612" width="2" height="486" fill="#000" opacity="0.04"/><rect x="1124" y="612" width="1" height="486" fill="#000" opacity="0.03"/><rect x="1125" y="612" width="1" height="486" fill="#000" opacity="0.03"/><rect x="1126" y="612" width="3" height="486" fill="#fff" opacity="0.03"/><rect x="1129" y="612" width="3" height="486" fill="#000" opacity="0.02"/><rect x="1132" y="612" width="1" height="486" fill="#000" opacity="0.02"/><rect x="1133" y="612" width="2" height="486" fill="#fff" opacity="0.02"/><rect x="1138" y="612" width="2" height="486" fill="#fff" opacity="0.05"/><rect x="1148" y="612" width="3" height="486" fill="#fff" opacity="0.05"/><rect x="1154" y="612" width="2" height="486" fill="#fff" opacity="0.04"/><rect x="1158" y="612" width="3" height="486" fill="#fff" opacity="0.05"/><rect x="1164" y="612" width="2" height="486" fill="#fff" opacity="0.05"/><rect x="1166" y="612" width="3" height="486" fill="#fff" opacity="0.04"/><rect x="1170" y="612" width="2" height="486" fill="#000" opacity="0.03"/><rect x="1172" y="612" width="2" height="486" fill="#000" opacity="0.02"/><rect x="1176" y="612" width="1" height="486" fill="#fff" opacity="0.03"/><rect x="1179" y="612" width="2" height="486" fill="#fff" opacity="0.01"/><rect x="1184" y="612" width="2" height="486" fill="#fff" opacity="0.06"/><rect x="1186" y="612" width="3" height="486" fill="#fff" opacity="0.04"/><rect x="1189" y="612" width="2" height="486" fill="#fff" opacity="0.02"/><rect x="1192" y="612" width="1" height="486" fill="#000" opacity="0.02"/><rect x="1193" y="612" width="1" height="486" fill="#fff" opacity="0.03"/><rect x="1194" y="612" width="3" height="486" fill="#fff" opacity="0.02"/><rect x="1197" y="612" width="3" height="486" fill="#000" opacity="0.03"/><rect x="1204" y="612" width="1" height="486" fill="#fff" opacity="0.02"/><rect x="1209" y="612" width="1" height="486" fill="#fff" opacity="0.06"/><rect x="1210" y="612" width="2" height="486" fill="#000" opacity="0.01"/><rect x="1212" y="612" width="1" height="486" fill="#000" opacity="0.02"/><rect x="1213" y="612" width="3" height="486" fill="#000" opacity="0.02"/><rect x="1216" y="612" width="2" height="486" fill="#fff" opacity="0.05"/><rect x="1218" y="612" width="3" height="486" fill="#fff" opacity="0.02"/><rect x="1221" y="612" width="1" height="486" fill="#fff" opacity="0.02"/><rect x="1222" y="612" width="3" height="486" fill="#000" opacity="0.02"/><rect x="1225" y="612" width="1" height="486" fill="#000" opacity="0.03"/><rect x="1227" y="612" width="1" height="486" fill="#fff" opacity="0.01"/><rect x="1229" y="612" width="1" height="486" fill="#000" opacity="0.03"/><rect x="1230" y="612" width="2" height="486" fill="#000" opacity="0.02"/><rect x="1232" y="612" width="1" height="486" fill="#000" opacity="0.02"/><rect x="1233" y="612" width="3" height="486" fill="#fff" opacity="0.02"/><rect x="1236" y="612" width="2" height="486" fill="#000" opacity="0.02"/><rect x="1238" y="612" width="2" height="486" fill="#fff" opacity="0.05"/><rect x="1240" y="612" width="1" height="486" fill="#000" opacity="0.02"/><rect x="1243" y="612" width="1" height="486" fill="#000" opacity="0.01"/><rect x="1244" y="612" width="1" height="486" fill="#000" opacity="0.03"/><rect x="1245" y="612" width="1" height="486" fill="#fff" opacity="0.05"/><rect x="1246" y="612" width="2" height="486" fill="#000" opacity="0.03"/><rect x="1248" y="612" width="3" height="486" fill="#fff" opacity="0.05"/><rect x="1251" y="612" width="2" height="486" fill="#000" opacity="0.01"/><rect x="1253" y="612" width="1" height="486" fill="#fff" opacity="0.04"/><rect x="1254" y="612" width="1" height="486" fill="#fff" opacity="0.03"/><rect x="1255" y="612" width="1" height="486" fill="#000" opacity="0.03"/><rect x="1256" y="612" width="1" height="486" fill="#fff" opacity="0.03"/><rect x="1257" y="612" width="3" height="486" fill="#fff" opacity="0.05"/><rect x="1260" y="612" width="2" height="486" fill="#000" opacity="0.02"/><rect x="1262" y="612" width="1" height="486" fill="#fff" opacity="0.03"/><rect x="1263" y="612" width="3" height="486" fill="#000" opacity="0.03"/><rect x="1266" y="612" width="2" height="486" fill="#fff" opacity="0.03"/><rect x="1269" y="612" width="3" height="486" fill="#fff" opacity="0.02"/><rect x="1272" y="612" width="1" height="486" fill="#fff" opacity="0.02"/><rect x="1278" y="612" width="2" height="486" fill="#fff" opacity="0.03"/><rect x="1280" y="612" width="2" height="486" fill="#fff" opacity="0.06"/><rect x="1282" y="612" width="2" height="486" fill="#000" opacity="0.03"/><rect x="1284" y="612" width="1" height="486" fill="#fff" opacity="0.04"/><rect x="1287" y="612" width="1" height="486" fill="#fff" opacity="0.04"/><rect x="1288" y="612" width="1" height="486" fill="#000" opacity="0.02"/><rect x="1289" y="612" width="3" height="486" fill="#fff" opacity="0.02"/><rect x="1292" y="612" width="2" height="486" fill="#fff" opacity="0.02"/><rect x="1296" y="612" width="2" height="486" fill="#fff" opacity="0.05"/><rect x="1303" y="612" width="1" height="486" fill="#000" opacity="0.02"/><rect x="1304" y="612" width="1" height="486" fill="#fff" opacity="0.04"/><rect x="1305" y="612" width="1" height="486" fill="#fff" opacity="0.02"/><rect x="1306" y="612" width="2" height="486" fill="#000" opacity="0.01"/><rect x="1308" y="612" width="1" height="486" fill="#fff" opacity="0.04"/><rect x="1309" y="612" width="2" height="486" fill="#fff" opacity="0.03"/><rect x="1311" y="612" width="2" height="486" fill="#fff" opacity="0.01"/><rect x="1313" y="612" width="1" height="486" fill="#000" opacity="0.03"/><rect x="1317" y="612" width="1" height="486" fill="#fff" opacity="0.03"/><rect x="1318" y="612" width="2" height="486" fill="#fff" opacity="0.03"/><rect x="1320" y="612" width="2" height="486" fill="#000" opacity="0.03"/><rect x="1323" y="612" width="1" height="486" fill="#000" opacity="0.02"/><rect x="1324" y="612" width="2" height="486" fill="#fff" opacity="0.04"/><rect x="1326" y="612" width="2" height="486" fill="#fff" opacity="0.06"/><rect x="1328" y="612" width="1" height="486" fill="#fff" opacity="0.03"/><rect x="1329" y="612" width="1" height="486" fill="#000" opacity="0.01"/><rect x="1330" y="612" width="2" height="486" fill="#000" opacity="0.02"/><rect x="1332" y="612" width="3" height="486" fill="#000" opacity="0.03"/><rect x="1335" y="612" width="3" height="486" fill="#000" opacity="0.03"/><rect x="1340" y="612" width="1" height="486" fill="#fff" opacity="0.06"/><rect x="1341" y="612" width="2" height="486" fill="#fff" opacity="0.02"/><rect x="1343" y="612" width="2" height="486" fill="#fff" opacity="0.06"/><rect x="1345" y="612" width="2" height="486" fill="#000" opacity="0.01"/><rect x="1347" y="612" width="2" height="486" fill="#fff" opacity="0.04"/><rect x="1352" y="612" width="2" height="486" fill="#fff" opacity="0.01"/><rect x="1357" y="612" width="2" height="486" fill="#fff" opacity="0.05"/><rect x="1359" y="612" width="2" height="486" fill="#fff" opacity="0.06"/><rect x="1361" y="612" width="1" height="486" fill="#fff" opacity="0.04"/><rect x="1362" y="612" width="1" height="486" fill="#000" opacity="0.02"/><rect x="1363" y="612" width="3" height="486" fill="#000" opacity="0.02"/><rect x="1366" y="612" width="1" height="486" fill="#fff" opacity="0.05"/><rect x="1367" y="612" width="1" height="486" fill="#000" opacity="0.01"/><rect x="1368" y="612" width="1" height="486" fill="#000" opacity="0.01"/><rect x="1369" y="612" width="3" height="486" fill="#fff" opacity="0.04"/><rect x="1372" y="612" width="3" height="486" fill="#000" opacity="0.02"/><rect x="1375" y="612" width="2" height="486" fill="#fff" opacity="0.05"/><rect x="1377" y="612" width="1" height="486" fill="#fff" opacity="0.04"/><rect x="1378" y="612" width="1" height="486" fill="#000" opacity="0.02"/><rect x="1380" y="612" width="1" height="486" fill="#000" opacity="0.03"/><rect x="1381" y="612" width="2" height="486" fill="#000" opacity="0.02"/><rect x="1387" y="612" width="2" height="486" fill="#fff" opacity="0.03"/><rect x="1391" y="612" width="2" height="486" fill="#000" opacity="0.03"/><rect x="1396" y="612" width="2" height="486" fill="#000" opacity="0.04"/><rect x="1398" y="612" width="1" height="486" fill="#000" opacity="0.02"/><rect x="1399" y="612" width="1" height="486" fill="#000" opacity="0.03"/><rect x="1400" y="612" width="1" height="486" fill="#fff" opacity="0.04"/><rect x="1401" y="612" width="3" height="486" fill="#fff" opacity="0.04"/><rect x="1404" y="612" width="1" height="486" fill="#000" opacity="0.02"/><rect x="1405" y="612" width="2" height="486" fill="#fff" opacity="0.05"/><rect x="1407" y="612" width="1" height="486" fill="#000" opacity="0.03"/><rect x="1408" y="612" width="1" height="486" fill="#fff" opacity="0.01"/><rect x="1412" y="612" width="1" height="486" fill="#fff" opacity="0.02"/><rect x="1413" y="612" width="1" height="486" fill="#000" opacity="0.02"/><rect x="1414" y="612" width="3" height="486" fill="#000" opacity="0.02"/><rect x="1417" y="612" width="3" height="486" fill="#fff" opacity="0.06"/><rect x="1420" y="612" width="3" height="486" fill="#000" opacity="0.03"/><rect x="1423" y="612" width="1" height="486" fill="#fff" opacity="0.04"/><rect x="1424" y="612" width="2" height="486" fill="#000" opacity="0.02"/><rect x="1426" y="612" width="1" height="486" fill="#fff" opacity="0.06"/><rect x="1427" y="612" width="2" height="486" fill="#fff" opacity="0.01"/><rect x="1429" y="612" width="1" height="486" fill="#fff" opacity="0.04"/><rect x="1430" y="612" width="2" height="486" fill="#fff" opacity="0.02"/><rect x="1432" y="612" width="2" height="486" fill="#000" opacity="0.03"/><rect x="1434" y="612" width="3" height="486" fill="#000" opacity="0.03"/><rect x="1437" y="612" width="1" height="486" fill="#000" opacity="0.02"/><rect x="1444" y="612" width="1" height="486" fill="#fff" opacity="0.03"/><rect x="1450" y="612" width="3" height="486" fill="#000" opacity="0.04"/><rect x="1453" y="612" width="2" height="486" fill="#000" opacity="0.03"/><rect x="1455" y="612" width="2" height="486" fill="#fff" opacity="0.04"/><rect x="1457" y="612" width="3" height="486" fill="#000" opacity="0.02"/><rect x="1460" y="612" width="3" height="486" fill="#fff" opacity="0.04"/><rect x="1463" y="612" width="2" height="486" fill="#fff" opacity="0.04"/><rect x="1465" y="612" width="1" height="486" fill="#000" opacity="0.02"/><rect x="1466" y="612" width="3" height="486" fill="#fff" opacity="0.02"/><rect x="1580" y="24" width="2" height="488" fill="#fff" opacity="0.05"/><rect x="1583" y="24" width="2" height="488" fill="#000" opacity="0.02"/><rect x="1587" y="24" width="1" height="488" fill="#fff" opacity="0.04"/><rect x="1588" y="24" width="1" height="488" fill="#000" opacity="0.02"/><rect x="1589" y="24" width="1" height="488" fill="#fff" opacity="0.03"/><rect x="1591" y="24" width="2" height="488" fill="#000" opacity="0.01"/><rect x="1598" y="24" width="1" height="488" fill="#000" opacity="0.02"/><rect x="1599" y="24" width="2" height="488" fill="#fff" opacity="0.03"/><rect x="1601" y="24" width="2" height="488" fill="#000" opacity="0.01"/><rect x="1606" y="24" width="2" height="488" fill="#000" opacity="0.03"/><rect x="1608" y="24" width="2" height="488" fill="#fff" opacity="0.03"/><rect x="1610" y="24" width="3" height="488" fill="#000" opacity="0.01"/><rect x="1613" y="24" width="1" height="488" fill="#fff" opacity="0.05"/><rect x="1614" y="24" width="1" height="488" fill="#000" opacity="0.02"/><rect x="1615" y="24" width="2" height="488" fill="#fff" opacity="0.02"/><rect x="1617" y="24" width="2" height="488" fill="#fff" opacity="0.03"/><rect x="1619" y="24" width="1" height="488" fill="#fff" opacity="0.05"/><rect x="1621" y="24" width="3" height="488" fill="#000" opacity="0.03"/><rect x="1624" y="24" width="2" height="488" fill="#000" opacity="0.02"/><rect x="1628" y="24" width="1" height="488" fill="#fff" opacity="0.03"/><rect x="1629" y="24" width="1" height="488" fill="#fff" opacity="0.04"/><rect x="1633" y="24" width="3" height="488" fill="#fff" opacity="0.01"/><rect x="1636" y="24" width="2" height="488" fill="#fff" opacity="0.04"/><rect x="1638" y="24" width="2" height="488" fill="#000" opacity="0.03"/><rect x="1640" y="24" width="2" height="488" fill="#fff" opacity="0.05"/><rect x="1643" y="24" width="1" height="488" fill="#000" opacity="0.01"/><rect x="1644" y="24" width="2" height="488" fill="#fff" opacity="0.01"/><rect x="1649" y="24" width="1" height="488" fill="#000" opacity="0.02"/><rect x="1650" y="24" width="3" height="488" fill="#000" opacity="0.02"/><rect x="1653" y="24" width="2" height="488" fill="#000" opacity="0.03"/><rect x="1655" y="24" width="3" height="488" fill="#fff" opacity="0.02"/><rect x="1658" y="24" width="1" height="488" fill="#fff" opacity="0.02"/><rect x="1662" y="24" width="1" height="488" fill="#000" opacity="0.03"/><rect x="1663" y="24" width="1" height="488" fill="#000" opacity="0.03"/><rect x="1664" y="24" width="1" height="488" fill="#000" opacity="0.02"/><rect x="1665" y="24" width="3" height="488" fill="#fff" opacity="0.02"/><rect x="1668" y="24" width="2" height="488" fill="#fff" opacity="0.05"/><rect x="1670" y="24" width="2" height="488" fill="#fff" opacity="0.02"/><rect x="1672" y="24" width="2" height="488" fill="#fff" opacity="0.04"/><rect x="1674" y="24" width="1" height="488" fill="#fff" opacity="0.03"/><rect x="1678" y="24" width="1" height="488" fill="#fff" opacity="0.04"/><rect x="1679" y="24" width="1" height="488" fill="#fff" opacity="0.03"/><rect x="1680" y="24" width="2" height="488" fill="#fff" opacity="0.05"/><rect x="1682" y="24" width="1" height="488" fill="#000" opacity="0.02"/><rect x="1683" y="24" width="2" height="488" fill="#000" opacity="0.02"/><rect x="1685" y="24" width="1" height="488" fill="#000" opacity="0.02"/><rect x="1687" y="24" width="1" height="488" fill="#000" opacity="0.03"/><rect x="1690" y="24" width="2" height="488" fill="#000" opacity="0.01"/><rect x="1692" y="24" width="2" height="488" fill="#fff" opacity="0.05"/><rect x="1697" y="24" width="3" height="488" fill="#fff" opacity="0.04"/><rect x="1700" y="24" width="2" height="488" fill="#fff" opacity="0.04"/><rect x="1702" y="24" width="1" height="488" fill="#000" opacity="0.03"/><rect x="1703" y="24" width="1" height="488" fill="#fff" opacity="0.02"/><rect x="1706" y="24" width="2" height="488" fill="#000" opacity="0.01"/><rect x="1708" y="24" width="1" height="488" fill="#fff" opacity="0.04"/><rect x="1710" y="24" width="2" height="488" fill="#fff" opacity="0.04"/><rect x="1712" y="24" width="3" height="488" fill="#000" opacity="0.03"/><rect x="1718" y="24" width="1" height="488" fill="#000" opacity="0.02"/><rect x="1719" y="24" width="2" height="488" fill="#fff" opacity="0.05"/><rect x="1725" y="24" width="2" height="488" fill="#000" opacity="0.02"/><rect x="1727" y="24" width="1" height="488" fill="#fff" opacity="0.05"/><rect x="1728" y="24" width="2" height="488" fill="#000" opacity="0.02"/><rect x="1730" y="24" width="3" height="488" fill="#000" opacity="0.01"/><rect x="1739" y="24" width="1" height="488" fill="#000" opacity="0.02"/><rect x="1741" y="24" width="1" height="488" fill="#fff" opacity="0.03"/><rect x="1742" y="24" width="3" height="488" fill="#fff" opacity="0.03"/><rect x="1745" y="24" width="1" height="488" fill="#fff" opacity="0.04"/><rect x="1747" y="24" width="3" height="488" fill="#fff" opacity="0.02"/><rect x="1750" y="24" width="1" height="488" fill="#000" opacity="0.01"/><rect x="1751" y="24" width="3" height="488" fill="#fff" opacity="0.03"/><rect x="1754" y="24" width="2" height="488" fill="#000" opacity="0.01"/><rect x="1756" y="24" width="2" height="488" fill="#fff" opacity="0.03"/><rect x="1758" y="24" width="3" height="488" fill="#000" opacity="0.03"/><rect x="1761" y="24" width="2" height="488" fill="#000" opacity="0.03"/><rect x="1763" y="24" width="1" height="488" fill="#fff" opacity="0.04"/><rect x="1764" y="24" width="1" height="488" fill="#fff" opacity="0.02"/><rect x="1765" y="24" width="1" height="488" fill="#fff" opacity="0.02"/><rect x="1766" y="24" width="2" height="488" fill="#000" opacity="0.02"/><rect x="1768" y="24" width="1" height="488" fill="#000" opacity="0.03"/><rect x="1773" y="24" width="2" height="488" fill="#fff" opacity="0.04"/><rect x="1776" y="24" width="3" height="488" fill="#fff" opacity="0.02"/><rect x="1781" y="24" width="1" height="488" fill="#fff" opacity="0.02"/><rect x="1783" y="24" width="2" height="488" fill="#fff" opacity="0.03"/><rect x="1785" y="24" width="1" height="488" fill="#fff" opacity="0.05"/><rect x="1788" y="24" width="1" height="488" fill="#fff" opacity="0.01"/><rect x="1789" y="24" width="2" height="488" fill="#000" opacity="0.03"/><rect x="1791" y="24" width="2" height="488" fill="#000" opacity="0.01"/><rect x="1793" y="24" width="3" height="488" fill="#000" opacity="0.02"/><rect x="1797" y="24" width="1" height="488" fill="#fff" opacity="0.02"/><rect x="1798" y="24" width="1" height="488" fill="#000" opacity="0.02"/><rect x="1799" y="24" width="1" height="488" fill="#fff" opacity="0.03"/><rect x="1800" y="24" width="2" height="488" fill="#fff" opacity="0.04"/><rect x="1802" y="24" width="2" height="488" fill="#fff" opacity="0.05"/><rect x="1804" y="24" width="2" height="488" fill="#fff" opacity="0.03"/><rect x="1806" y="24" width="1" height="488" fill="#000" opacity="0.03"/><rect x="1809" y="24" width="2" height="488" fill="#000" opacity="0.02"/><rect x="1815" y="24" width="3" height="488" fill="#fff" opacity="0.03"/><rect x="1818" y="24" width="2" height="488" fill="#fff" opacity="0.01"/><rect x="1820" y="24" width="2" height="488" fill="#000" opacity="0.02"/><rect x="1822" y="24" width="2" height="488" fill="#fff" opacity="0.05"/><rect x="1824" y="24" width="1" height="488" fill="#fff" opacity="0.05"/><rect x="1825" y="24" width="1" height="488" fill="#fff" opacity="0.02"/><rect x="1826" y="24" width="1" height="488" fill="#fff" opacity="0.04"/><rect x="1827" y="24" width="2" height="488" fill="#fff" opacity="0.02"/><rect x="1829" y="24" width="2" height="488" fill="#000" opacity="0.03"/><rect x="1831" y="24" width="2" height="488" fill="#000" opacity="0.02"/><rect x="1833" y="24" width="1" height="488" fill="#fff" opacity="0.02"/><rect x="1836" y="24" width="2" height="488" fill="#000" opacity="0.03"/><rect x="1839" y="24" width="1" height="488" fill="#fff" opacity="0.02"/><rect x="1843" y="24" width="1" height="488" fill="#fff" opacity="0.01"/><rect x="1844" y="24" width="2" height="488" fill="#fff" opacity="0.03"/><rect x="1846" y="24" width="2" height="488" fill="#fff" opacity="0.02"/><rect x="1848" y="24" width="3" height="488" fill="#000" opacity="0.03"/><rect x="1851" y="24" width="1" height="488" fill="#000" opacity="0.02"/><rect x="1852" y="24" width="3" height="488" fill="#fff" opacity="0.02"/><rect x="1858" y="24" width="3" height="488" fill="#000" opacity="0.02"/><rect x="1864" y="24" width="3" height="488" fill="#000" opacity="0.02"/><rect x="1867" y="24" width="1" height="488" fill="#000" opacity="0.02"/><rect x="1869" y="24" width="2" height="488" fill="#fff" opacity="0.05"/><rect x="1871" y="24" width="2" height="488" fill="#000" opacity="0.02"/><rect x="1873" y="24" width="3" height="488" fill="#fff" opacity="0.03"/><rect x="1876" y="24" width="1" height="488" fill="#fff" opacity="0.02"/><rect x="1877" y="24" width="3" height="488" fill="#fff" opacity="0.04"/><rect x="1883" y="24" width="2" height="488" fill="#000" opacity="0.02"/><rect x="1885" y="24" width="1" height="488" fill="#fff" opacity="0.04"/><rect x="1886" y="24" width="2" height="488" fill="#fff" opacity="0.02"/><rect x="1888" y="24" width="2" height="488" fill="#fff" opacity="0.05"/><rect x="1890" y="24" width="1" height="488" fill="#000" opacity="0.02"/><rect x="1891" y="24" width="1" height="488" fill="#fff" opacity="0.03"/><rect x="1892" y="24" width="2" height="488" fill="#fff" opacity="0.03"/><rect x="1896" y="24" width="1" height="488" fill="#000" opacity="0.02"/><rect x="1897" y="24" width="2" height="488" fill="#fff" opacity="0.04"/><rect x="1899" y="24" width="2" height="488" fill="#fff" opacity="0.02"/><rect x="1906" y="24" width="3" height="488" fill="#fff" opacity="0.05"/><rect x="1912" y="24" width="3" height="488" fill="#fff" opacity="0.01"/><rect x="1915" y="24" width="3" height="488" fill="#000" opacity="0.02"/><rect x="1918" y="24" width="1" height="488" fill="#fff" opacity="0.04"/><rect x="1919" y="24" width="2" height="488" fill="#fff" opacity="0.02"/><rect x="1921" y="24" width="2" height="488" fill="#fff" opacity="0.03"/><rect x="1923" y="24" width="1" height="488" fill="#fff" opacity="0.02"/><rect x="1924" y="24" width="1" height="488" fill="#fff" opacity="0.04"/><rect x="1925" y="24" width="2" height="488" fill="#fff" opacity="0.04"/><rect x="1927" y="24" width="1" height="488" fill="#000" opacity="0.02"/><rect x="1928" y="24" width="2" height="488" fill="#fff" opacity="0.01"/><rect x="1930" y="24" width="2" height="488" fill="#000" opacity="0.03"/><rect x="1932" y="24" width="2" height="488" fill="#000" opacity="0.03"/><rect x="1934" y="24" width="1" height="488" fill="#fff" opacity="0.01"/><rect x="1935" y="24" width="2" height="488" fill="#fff" opacity="0.03"/><rect x="1937" y="24" width="2" height="488" fill="#fff" opacity="0.02"/><rect x="1939" y="24" width="2" height="488" fill="#fff" opacity="0.04"/><rect x="1941" y="24" width="1" height="488" fill="#000" opacity="0.02"/><rect x="1942" y="24" width="3" height="488" fill="#000" opacity="0.02"/><rect x="1945" y="24" width="1" height="488" fill="#fff" opacity="0.05"/><rect x="1946" y="24" width="3" height="488" fill="#000" opacity="0.02"/><rect x="1949" y="24" width="2" height="488" fill="#000" opacity="0.01"/><rect x="1954" y="24" width="2" height="488" fill="#fff" opacity="0.01"/><rect x="1956" y="24" width="2" height="488" fill="#fff" opacity="0.02"/><rect x="1958" y="24" width="2" height="488" fill="#fff" opacity="0.03"/><rect x="1960" y="24" width="1" height="488" fill="#fff" opacity="0.03"/><rect x="1961" y="24" width="3" height="488" fill="#fff" opacity="0.05"/><rect x="1964" y="24" width="1" height="488" fill="#fff" opacity="0.02"/><rect x="1965" y="24" width="2" height="488" fill="#000" opacity="0.01"/><rect x="1968" y="24" width="1" height="488" fill="#fff" opacity="0.02"/><rect x="1974" y="24" width="1" height="488" fill="#fff" opacity="0.02"/><rect x="1975" y="24" width="1" height="488" fill="#000" opacity="0.01"/><rect x="1979" y="24" width="2" height="488" fill="#fff" opacity="0.02"/><rect x="1981" y="24" width="2" height="488" fill="#000" opacity="0.03"/><rect x="1984" y="24" width="2" height="488" fill="#fff" opacity="0.05"/><rect x="1987" y="24" width="3" height="488" fill="#000" opacity="0.03"/><rect x="1990" y="24" width="1" height="488" fill="#fff" opacity="0.04"/><rect x="1991" y="24" width="1" height="488" fill="#000" opacity="0.02"/><rect x="1994" y="24" width="1" height="488" fill="#fff" opacity="0.04"/><rect x="1995" y="24" width="1" height="488" fill="#fff" opacity="0.03"/><rect x="1996" y="24" width="1" height="488" fill="#000" opacity="0.02"/><rect x="1997" y="24" width="2" height="488" fill="#fff" opacity="0.03"/><rect x="2000" y="24" width="1" height="488" fill="#fff" opacity="0.02"/><rect x="2004" y="24" width="2" height="488" fill="#fff" opacity="0.01"/><rect x="2006" y="24" width="1" height="488" fill="#fff" opacity="0.02"/><rect x="2012" y="24" width="2" height="488" fill="#fff" opacity="0.05"/><rect x="2014" y="24" width="1" height="488" fill="#000" opacity="0.02"/><rect x="2015" y="24" width="2" height="488" fill="#fff" opacity="0.03"/><rect x="2017" y="24" width="2" height="488" fill="#000" opacity="0.02"/><rect x="2019" y="24" width="1" height="488" fill="#fff" opacity="0.02"/><rect x="2026" y="24" width="2" height="488" fill="#fff" opacity="0.05"/><rect x="2034" y="24" width="2" height="488" fill="#000" opacity="0.01"/><rect x="2036" y="24" width="2" height="488" fill="#000" opacity="0.02"/><rect x="2038" y="24" width="1" height="488" fill="#fff" opacity="0.02"/><rect x="2039" y="24" width="3" height="488" fill="#fff" opacity="0.04"/><rect x="2042" y="24" width="2" height="488" fill="#000" opacity="0.03"/><rect x="2048" y="24" width="1" height="488" fill="#000" opacity="0.02"/><rect x="2059" y="24" width="1" height="488" fill="#fff" opacity="0.04"/><rect x="2060" y="24" width="1" height="488" fill="#000" opacity="0.02"/><rect x="2061" y="24" width="2" height="488" fill="#fff" opacity="0.02"/><rect x="2066" y="24" width="2" height="488" fill="#fff" opacity="0.05"/><rect x="1581" y="612" width="1" height="486" fill="#fff" opacity="0.02"/><rect x="1582" y="612" width="1" height="486" fill="#fff" opacity="0.04"/><rect x="1583" y="612" width="1" height="486" fill="#000" opacity="0.02"/><rect x="1584" y="612" width="2" height="486" fill="#fff" opacity="0.03"/><rect x="1590" y="612" width="1" height="486" fill="#000" opacity="0.02"/><rect x="1591" y="612" width="2" height="486" fill="#fff" opacity="0.05"/><rect x="1593" y="612" width="1" height="486" fill="#fff" opacity="0.03"/><rect x="1595" y="612" width="1" height="486" fill="#fff" opacity="0.03"/><rect x="1596" y="612" width="1" height="486" fill="#000" opacity="0.01"/><rect x="1597" y="612" width="1" height="486" fill="#fff" opacity="0.03"/><rect x="1598" y="612" width="1" height="486" fill="#fff" opacity="0.03"/><rect x="1600" y="612" width="2" height="486" fill="#000" opacity="0.02"/><rect x="1602" y="612" width="2" height="486" fill="#000" opacity="0.02"/><rect x="1606" y="612" width="1" height="486" fill="#fff" opacity="0.03"/><rect x="1607" y="612" width="2" height="486" fill="#000" opacity="0.03"/><rect x="1609" y="612" width="3" height="486" fill="#fff" opacity="0.03"/><rect x="1612" y="612" width="2" height="486" fill="#000" opacity="0.02"/><rect x="1614" y="612" width="1" height="486" fill="#000" opacity="0.02"/><rect x="1618" y="612" width="1" height="486" fill="#fff" opacity="0.01"/><rect x="1619" y="612" width="1" height="486" fill="#fff" opacity="0.02"/><rect x="1622" y="612" width="1" height="486" fill="#000" opacity="0.03"/><rect x="1626" y="612" width="2" height="486" fill="#fff" opacity="0.02"/><rect x="1628" y="612" width="2" height="486" fill="#fff" opacity="0.05"/><rect x="1630" y="612" width="3" height="486" fill="#fff" opacity="0.02"/><rect x="1637" y="612" width="3" height="486" fill="#fff" opacity="0.03"/><rect x="1640" y="612" width="3" height="486" fill="#fff" opacity="0.02"/><rect x="1647" y="612" width="1" height="486" fill="#fff" opacity="0.04"/><rect x="1654" y="612" width="2" height="486" fill="#fff" opacity="0.02"/><rect x="1659" y="612" width="1" height="486" fill="#fff" opacity="0.02"/><rect x="1660" y="612" width="2" height="486" fill="#000" opacity="0.02"/><rect x="1662" y="612" width="3" height="486" fill="#000" opacity="0.02"/><rect x="1665" y="612" width="2" height="486" fill="#000" opacity="0.02"/><rect x="1671" y="612" width="1" height="486" fill="#000" opacity="0.02"/><rect x="1672" y="612" width="1" height="486" fill="#000" opacity="0.02"/><rect x="1676" y="612" width="3" height="486" fill="#000" opacity="0.02"/><rect x="1679" y="612" width="1" height="486" fill="#fff" opacity="0.03"/><rect x="1680" y="612" width="2" height="486" fill="#000" opacity="0.02"/><rect x="1682" y="612" width="1" height="486" fill="#fff" opacity="0.01"/><rect x="1683" y="612" width="1" height="486" fill="#000" opacity="0.02"/><rect x="1686" y="612" width="3" height="486" fill="#000" opacity="0.01"/><rect x="1689" y="612" width="2" height="486" fill="#000" opacity="0.02"/><rect x="1691" y="612" width="2" height="486" fill="#fff" opacity="0.04"/><rect x="1694" y="612" width="3" height="486" fill="#fff" opacity="0.04"/><rect x="1697" y="612" width="2" height="486" fill="#fff" opacity="0.02"/><rect x="1699" y="612" width="3" height="486" fill="#000" opacity="0.03"/><rect x="1702" y="612" width="3" height="486" fill="#000" opacity="0.02"/><rect x="1705" y="612" width="1" height="486" fill="#000" opacity="0.01"/><rect x="1706" y="612" width="1" height="486" fill="#fff" opacity="0.01"/><rect x="1707" y="612" width="2" height="486" fill="#000" opacity="0.03"/><rect x="1709" y="612" width="3" height="486" fill="#fff" opacity="0.04"/><rect x="1716" y="612" width="2" height="486" fill="#fff" opacity="0.01"/><rect x="1718" y="612" width="1" height="486" fill="#000" opacity="0.02"/><rect x="1720" y="612" width="3" height="486" fill="#fff" opacity="0.04"/><rect x="1723" y="612" width="1" height="486" fill="#fff" opacity="0.04"/><rect x="1724" y="612" width="1" height="486" fill="#000" opacity="0.02"/><rect x="1725" y="612" width="1" height="486" fill="#fff" opacity="0.04"/><rect x="1729" y="612" width="1" height="486" fill="#000" opacity="0.01"/><rect x="1730" y="612" width="2" height="486" fill="#fff" opacity="0.05"/><rect x="1735" y="612" width="1" height="486" fill="#fff" opacity="0.02"/><rect x="1736" y="612" width="1" height="486" fill="#000" opacity="0.03"/><rect x="1737" y="612" width="2" height="486" fill="#fff" opacity="0.05"/><rect x="1739" y="612" width="1" height="486" fill="#000" opacity="0.02"/><rect x="1744" y="612" width="3" height="486" fill="#fff" opacity="0.02"/><rect x="1747" y="612" width="2" height="486" fill="#fff" opacity="0.04"/><rect x="1750" y="612" width="2" height="486" fill="#fff" opacity="0.05"/><rect x="1753" y="612" width="3" height="486" fill="#fff" opacity="0.04"/><rect x="1756" y="612" width="1" height="486" fill="#fff" opacity="0.03"/><rect x="1757" y="612" width="1" height="486" fill="#fff" opacity="0.04"/><rect x="1758" y="612" width="3" height="486" fill="#fff" opacity="0.04"/><rect x="1761" y="612" width="1" height="486" fill="#fff" opacity="0.05"/><rect x="1764" y="612" width="1" height="486" fill="#fff" opacity="0.04"/><rect x="1765" y="612" width="2" height="486" fill="#000" opacity="0.02"/><rect x="1767" y="612" width="2" height="486" fill="#fff" opacity="0.04"/><rect x="1769" y="612" width="2" height="486" fill="#000" opacity="0.02"/><rect x="1771" y="612" width="2" height="486" fill="#000" opacity="0.03"/><rect x="1776" y="612" width="2" height="486" fill="#000" opacity="0.02"/><rect x="1778" y="612" width="2" height="486" fill="#000" opacity="0.01"/><rect x="1780" y="612" width="3" height="486" fill="#000" opacity="0.02"/><rect x="1783" y="612" width="1" height="486" fill="#fff" opacity="0.03"/><rect x="1784" y="612" width="1" height="486" fill="#000" opacity="0.02"/><rect x="1785" y="612" width="1" height="486" fill="#fff" opacity="0.01"/><rect x="1786" y="612" width="2" height="486" fill="#fff" opacity="0.03"/><rect x="1788" y="612" width="2" height="486" fill="#000" opacity="0.02"/><rect x="1790" y="612" width="1" height="486" fill="#fff" opacity="0.04"/><rect x="1791" y="612" width="1" height="486" fill="#000" opacity="0.01"/><rect x="1792" y="612" width="2" height="486" fill="#000" opacity="0.02"/><rect x="1795" y="612" width="3" height="486" fill="#fff" opacity="0.04"/><rect x="1800" y="612" width="1" height="486" fill="#fff" opacity="0.02"/><rect x="1801" y="612" width="1" height="486" fill="#000" opacity="0.01"/><rect x="1802" y="612" width="2" height="486" fill="#fff" opacity="0.04"/><rect x="1804" y="612" width="1" height="486" fill="#000" opacity="0.02"/><rect x="1807" y="612" width="3" height="486" fill="#fff" opacity="0.02"/><rect x="1813" y="612" width="2" height="486" fill="#000" opacity="0.02"/><rect x="1815" y="612" width="2" height="486" fill="#fff" opacity="0.03"/><rect x="1819" y="612" width="2" height="486" fill="#fff" opacity="0.03"/><rect x="1826" y="612" width="1" height="486" fill="#000" opacity="0.02"/><rect x="1827" y="612" width="1" height="486" fill="#000" opacity="0.02"/><rect x="1831" y="612" width="2" height="486" fill="#000" opacity="0.03"/><rect x="1834" y="612" width="1" height="486" fill="#fff" opacity="0.02"/><rect x="1835" y="612" width="1" height="486" fill="#000" opacity="0.02"/><rect x="1836" y="612" width="3" height="486" fill="#fff" opacity="0.02"/><rect x="1839" y="612" width="1" height="486" fill="#fff" opacity="0.04"/><rect x="1840" y="612" width="1" height="486" fill="#000" opacity="0.01"/><rect x="1841" y="612" width="1" height="486" fill="#000" opacity="0.03"/><rect x="1842" y="612" width="3" height="486" fill="#fff" opacity="0.03"/><rect x="1845" y="612" width="2" height="486" fill="#fff" opacity="0.05"/><rect x="1848" y="612" width="2" height="486" fill="#fff" opacity="0.05"/><rect x="1851" y="612" width="1" height="486" fill="#fff" opacity="0.05"/><rect x="1852" y="612" width="2" height="486" fill="#fff" opacity="0.02"/><rect x="1855" y="612" width="2" height="486" fill="#fff" opacity="0.02"/><rect x="1857" y="612" width="1" height="486" fill="#fff" opacity="0.02"/><rect x="1861" y="612" width="1" height="486" fill="#fff" opacity="0.03"/><rect x="1862" y="612" width="2" height="486" fill="#000" opacity="0.03"/><rect x="1864" y="612" width="3" height="486" fill="#000" opacity="0.02"/><rect x="1867" y="612" width="3" height="486" fill="#000" opacity="0.03"/><rect x="1873" y="612" width="3" height="486" fill="#000" opacity="0.02"/><rect x="1876" y="612" width="1" height="486" fill="#000" opacity="0.02"/><rect x="1877" y="612" width="2" height="486" fill="#000" opacity="0.02"/><rect x="1879" y="612" width="1" height="486" fill="#fff" opacity="0.02"/><rect x="1885" y="612" width="3" height="486" fill="#fff" opacity="0.02"/><rect x="1891" y="612" width="2" height="486" fill="#fff" opacity="0.02"/><rect x="1893" y="612" width="2" height="486" fill="#000" opacity="0.02"/><rect x="1896" y="612" width="3" height="486" fill="#fff" opacity="0.03"/><rect x="1899" y="612" width="2" height="486" fill="#fff" opacity="0.04"/><rect x="1904" y="612" width="1" height="486" fill="#fff" opacity="0.03"/><rect x="1907" y="612" width="2" height="486" fill="#000" opacity="0.02"/><rect x="1909" y="612" width="2" height="486" fill="#000" opacity="0.02"/><rect x="1911" y="612" width="1" height="486" fill="#fff" opacity="0.02"/><rect x="1912" y="612" width="1" height="486" fill="#000" opacity="0.03"/><rect x="1913" y="612" width="1" height="486" fill="#000" opacity="0.02"/><rect x="1914" y="612" width="2" height="486" fill="#000" opacity="0.03"/><rect x="1916" y="612" width="1" height="486" fill="#000" opacity="0.03"/><rect x="1917" y="612" width="3" height="486" fill="#000" opacity="0.02"/><rect x="1920" y="612" width="2" height="486" fill="#000" opacity="0.02"/><rect x="1922" y="612" width="2" height="486" fill="#fff" opacity="0.03"/><rect x="1925" y="612" width="2" height="486" fill="#fff" opacity="0.02"/><rect x="1927" y="612" width="2" height="486" fill="#fff" opacity="0.03"/><rect x="1929" y="612" width="1" height="486" fill="#000" opacity="0.02"/><rect x="1930" y="612" width="2" height="486" fill="#000" opacity="0.01"/><rect x="1932" y="612" width="1" height="486" fill="#fff" opacity="0.02"/><rect x="1933" y="612" width="1" height="486" fill="#fff" opacity="0.03"/><rect x="1939" y="612" width="1" height="486" fill="#fff" opacity="0.04"/><rect x="1942" y="612" width="2" height="486" fill="#000" opacity="0.02"/><rect x="1944" y="612" width="2" height="486" fill="#fff" opacity="0.04"/><rect x="1947" y="612" width="2" height="486" fill="#fff" opacity="0.03"/><rect x="1950" y="612" width="2" height="486" fill="#000" opacity="0.03"/><rect x="1952" y="612" width="2" height="486" fill="#000" opacity="0.02"/><rect x="1954" y="612" width="2" height="486" fill="#000" opacity="0.03"/><rect x="1956" y="612" width="1" height="486" fill="#000" opacity="0.02"/><rect x="1957" y="612" width="1" height="486" fill="#fff" opacity="0.02"/><rect x="1958" y="612" width="3" height="486" fill="#000" opacity="0.03"/><rect x="1962" y="612" width="2" height="486" fill="#fff" opacity="0.05"/><rect x="1964" y="612" width="1" height="486" fill="#000" opacity="0.02"/><rect x="1965" y="612" width="2" height="486" fill="#fff" opacity="0.05"/><rect x="1967" y="612" width="1" height="486" fill="#fff" opacity="0.02"/><rect x="1968" y="612" width="1" height="486" fill="#fff" opacity="0.05"/><rect x="1969" y="612" width="1" height="486" fill="#fff" opacity="0.03"/><rect x="1970" y="612" width="3" height="486" fill="#fff" opacity="0.02"/><rect x="1973" y="612" width="2" height="486" fill="#fff" opacity="0.05"/><rect x="1975" y="612" width="2" height="486" fill="#fff" opacity="0.02"/><rect x="1978" y="612" width="3" height="486" fill="#fff" opacity="0.03"/><rect x="1984" y="612" width="1" height="486" fill="#000" opacity="0.02"/><rect x="1990" y="612" width="1" height="486" fill="#fff" opacity="0.03"/><rect x="1991" y="612" width="1" height="486" fill="#fff" opacity="0.02"/><rect x="1992" y="612" width="2" height="486" fill="#fff" opacity="0.04"/><rect x="1994" y="612" width="3" height="486" fill="#fff" opacity="0.03"/><rect x="1998" y="612" width="1" height="486" fill="#fff" opacity="0.03"/><rect x="2003" y="612" width="1" height="486" fill="#000" opacity="0.03"/><rect x="2004" y="612" width="2" height="486" fill="#000" opacity="0.02"/><rect x="2006" y="612" width="1" height="486" fill="#fff" opacity="0.04"/><rect x="2009" y="612" width="1" height="486" fill="#000" opacity="0.02"/><rect x="2010" y="612" width="2" height="486" fill="#fff" opacity="0.03"/><rect x="2012" y="612" width="3" height="486" fill="#fff" opacity="0.03"/><rect x="2015" y="612" width="1" height="486" fill="#000" opacity="0.02"/><rect x="2016" y="612" width="1" height="486" fill="#fff" opacity="0.02"/><rect x="2019" y="612" width="2" height="486" fill="#000" opacity="0.02"/><rect x="2021" y="612" width="2" height="486" fill="#000" opacity="0.01"/><rect x="2023" y="612" width="1" height="486" fill="#000" opacity="0.02"/><rect x="2024" y="612" width="3" height="486" fill="#fff" opacity="0.02"/><rect x="2027" y="612" width="2" height="486" fill="#000" opacity="0.03"/><rect x="2029" y="612" width="1" height="486" fill="#fff" opacity="0.04"/><rect x="2033" y="612" width="3" height="486" fill="#fff" opacity="0.02"/><rect x="2036" y="612" width="3" height="486" fill="#000" opacity="0.02"/><rect x="2040" y="612" width="1" height="486" fill="#000" opacity="0.03"/><rect x="2041" y="612" width="3" height="486" fill="#fff" opacity="0.05"/><rect x="2044" y="612" width="2" height="486" fill="#000" opacity="0.02"/><rect x="2046" y="612" width="2" height="486" fill="#fff" opacity="0.02"/><rect x="2048" y="612" width="3" height="486" fill="#000" opacity="0.02"/><rect x="2051" y="612" width="2" height="486" fill="#000" opacity="0.03"/><rect x="2053" y="612" width="2" height="486" fill="#fff" opacity="0.03"/><rect x="2055" y="612" width="2" height="486" fill="#000" opacity="0.02"/><rect x="2057" y="612" width="1" height="486" fill="#000" opacity="0.03"/><rect x="2058" y="612" width="1" height="486" fill="#000" opacity="0.02"/><rect x="2059" y="612" width="2" height="486" fill="#fff" opacity="0.02"/><rect x="2066" y="612" width="2" height="486" fill="#fff" opacity="0.04"/><rect x="1181" y="25" width="2" height="222" fill="#fff" opacity="0.45"/><rect x="1265" y="25" width="2" height="222" fill="#fff" opacity="0.45"/><rect x="1195" y="335" width="3" height="175" fill="#fff" opacity="0.12"/><rect x="1258" y="335" width="3" height="175" fill="#fff" opacity="0.12"/><line x1="981" y1="273.5" x2="1224.5" y2="273.5" stroke="#8cc35a" stroke-width="2.5"/><line x1="981" y1="299.2" x2="1223" y2="299.2" stroke="#1f7f93" stroke-width="2.5"/><line x1="993" y1="497.6" x2="1224.4" y2="298.4" stroke="#fff" stroke-width="4.5" stroke-dasharray="12 9"/><text x="1152" y="259" font-family="Liberation Serif, serif" font-size="30">β</text><text x="1108.5" y="320.5" font-family="Liberation Serif, serif" font-size="30.5" textLength="19.5" lengthAdjust="spacingAndGlyphs">α</text><text x="1007.5" y="56.3" font-family="Liberation Sans, Arial, sans-serif" font-size="29" fill="#fff">V<tspan font-size="21" dx="-3.5" dy="6">SD</tspan><tspan dy="-6" dx="0.5">= 1.5 mV</tspan></text><path d="M1641 389L1773 396.5" stroke="#8cc85a" stroke-width="2.5"/><path d="M1641 417.4L1825 417.4" stroke="#d6b04e" stroke-width="2.5"/><path d="M1641 447L1773 437" stroke="#238a99" stroke-width="2.5"/><circle cx="1589" cy="384" r="7.5" fill="none" stroke="#8cc85a" stroke-width="2.6"/><circle cx="1594.8" cy="384.1" r="7.5" fill="none" stroke="#8cc85a" stroke-width="2.6"/><circle cx="1600.5" cy="383.6" r="7.5" fill="none" stroke="#8cc85a" stroke-width="2.6"/><circle cx="1606.2" cy="383.9" r="7.5" fill="none" stroke="#8cc85a" stroke-width="2.6"/><circle cx="1612" cy="383.3" r="7.5" fill="none" stroke="#8cc85a" stroke-width="2.6"/><circle cx="1617.8" cy="384.7" r="7.5" fill="none" stroke="#8cc85a" stroke-width="2.6"/><circle cx="1623.5" cy="382.7" r="7.5" fill="none" stroke="#8cc85a" stroke-width="2.6"/><circle cx="1629.2" cy="382.8" r="7.5" fill="none" stroke="#8cc85a" stroke-width="2.6"/><circle cx="1635" cy="383.5" r="7.5" fill="none" stroke="#8cc85a" stroke-width="2.6"/><circle cx="1780" cy="397.1" r="7.5" fill="none" stroke="#8cc85a" stroke-width="2.6"/><circle cx="1785.6" cy="395.1" r="7.5" fill="none" stroke="#8cc85a" stroke-width="2.6"/><circle cx="1791.2" cy="395.6" r="7.5" fill="none" stroke="#8cc85a" stroke-width="2.6"/><circle cx="1796.9" cy="397.8" r="7.5" fill="none" stroke="#8cc85a" stroke-width="2.6"/><circle cx="1802.5" cy="397.9" r="7.5" fill="none" stroke="#8cc85a" stroke-width="2.6"/><circle cx="1808.1" cy="395.6" r="7.5" fill="none" stroke="#8cc85a" stroke-width="2.6"/><circle cx="1813.8" cy="395.5" r="7.5" fill="none" stroke="#8cc85a" stroke-width="2.6"/><circle cx="1819.4" cy="395.1" r="7.5" fill="none" stroke="#8cc85a" stroke-width="2.6"/><circle cx="1825" cy="395.3" r="7.5" fill="none" stroke="#8cc85a" stroke-width="2.6"/><circle cx="1589" cy="416.8" r="7.5" fill="none" stroke="#d6b04e" stroke-width="2.6"/><circle cx="1594.8" cy="419.8" r="7.5" fill="none" stroke="#d6b04e" stroke-width="2.6"/><circle cx="1600.5" cy="416.5" r="7.5" fill="none" stroke="#d6b04e" stroke-width="2.6"/><circle cx="1606.2" cy="420.4" r="7.5" fill="none" stroke="#d6b04e" stroke-width="2.6"/><circle cx="1612" cy="416.9" r="7.5" fill="none" stroke="#d6b04e" stroke-width="2.6"/><circle cx="1617.8" cy="418.1" r="7.5" fill="none" stroke="#d6b04e" stroke-width="2.6"/><circle cx="1623.5" cy="418.2" r="7.5" fill="none" stroke="#d6b04e" stroke-width="2.6"/><circle cx="1629.2" cy="417.1" r="7.5" fill="none" stroke="#d6b04e" stroke-width="2.6"/><circle cx="1635" cy="417.1" r="7.5" fill="none" stroke="#d6b04e" stroke-width="2.6"/><circle cx="1589" cy="454.5" r="7.5" fill="none" stroke="#238a99" stroke-width="2.6"/><circle cx="1594.8" cy="452.3" r="7.5" fill="none" stroke="#238a99" stroke-width="2.6"/><circle cx="1600.5" cy="452.3" r="7.5" fill="none" stroke="#238a99" stroke-width="2.6"/><circle cx="1606.2" cy="452" r="7.5" fill="none" stroke="#238a99" stroke-width="2.6"/><circle cx="1612" cy="454.5" r="7.5" fill="none" stroke="#238a99" stroke-width="2.6"/><circle cx="1617.8" cy="455.2" r="7.5" fill="none" stroke="#238a99" stroke-width="2.6"/><circle cx="1623.5" cy="453.3" r="7.5" fill="none" stroke="#238a99" stroke-width="2.6"/><circle cx="1629.2" cy="454.4" r="7.5" fill="none" stroke="#238a99" stroke-width="2.6"/><circle cx="1635" cy="453" r="7.5" fill="none" stroke="#238a99" stroke-width="2.6"/><circle cx="1780" cy="436.2" r="7.5" fill="none" stroke="#238a99" stroke-width="2.6"/><circle cx="1785.6" cy="435.8" r="7.5" fill="none" stroke="#238a99" stroke-width="2.6"/><circle cx="1791.2" cy="438.8" r="7.5" fill="none" stroke="#238a99" stroke-width="2.6"/><circle cx="1796.9" cy="437.3" r="7.5" fill="none" stroke="#238a99" stroke-width="2.6"/><circle cx="1802.5" cy="435.9" r="7.5" fill="none" stroke="#238a99" stroke-width="2.6"/><circle cx="1808.1" cy="438" r="7.5" fill="none" stroke="#238a99" stroke-width="2.6"/><circle cx="1813.8" cy="435" r="7.5" fill="none" stroke="#238a99" stroke-width="2.6"/><circle cx="1819.4" cy="435.4" r="7.5" fill="none" stroke="#238a99" stroke-width="2.6"/><circle cx="1825" cy="437.7" r="7.5" fill="none" stroke="#238a99" stroke-width="2.6"/><text x="1836" y="404" font-family="Liberation Serif, serif" font-size="30">β</text><text x="1835.5" y="445.5" font-family="Liberation Serif, serif" font-size="30.5" textLength="19.5" lengthAdjust="spacingAndGlyphs">α</text><text x="1649" y="434" font-family="Liberation Serif, serif" font-size="30">γ</text><text x="1606.5" y="60" font-family="Liberation Sans, Arial, sans-serif" font-size="29" fill="#fff">V<tspan font-size="21" dx="-3.5" dy="6">SD</tspan><tspan dy="-6" dx="0.5">= 1.5 mV</tspan></text><line x1="1232" y1="747" x2="1470" y2="633" stroke="#fff" stroke-width="4.5" stroke-dasharray="12 9"/><text x="999" y="653" font-family="Liberation Sans, Arial, sans-serif" font-size="29" fill="#150808">V<tspan font-size="21" dx="-3.5" dy="6">SD</tspan><tspan dy="-6" dx="0.5">= -1.5 mV</tspan></text><text x="1614" y="655" font-family="Liberation Sans, Arial, sans-serif" font-size="29" fill="#150808">V<tspan font-size="21" dx="-3.5" dy="6">SD</tspan><tspan dy="-6" dx="0.5">= -1.5 mV</tspan></text><line x1="981" y1="74" x2="992" y2="74" stroke="#ffffff" stroke-width="2.2"/><line x1="1459" y1="74" x2="1470" y2="74" stroke="#ffffff" stroke-width="2.2"/><line x1="981" y1="181.6" x2="992" y2="181.6" stroke="#ffffff" stroke-width="2.2"/><line x1="1459" y1="181.6" x2="1470" y2="181.6" stroke="#ffffff" stroke-width="2.2"/><line x1="981" y1="288.2" x2="992" y2="288.2" stroke="#1b1f2a" stroke-width="2.2"/><line x1="1459" y1="288.2" x2="1470" y2="288.2" stroke="#1b1f2a" stroke-width="2.2"/><line x1="981" y1="395.5" x2="992" y2="395.5" stroke="#ffffff" stroke-width="2.2"/><line x1="1459" y1="395.5" x2="1470" y2="395.5" stroke="#ffffff" stroke-width="2.2"/><line x1="1224.5" y1="24" x2="1224.5" y2="35" stroke="#ffffff" stroke-width="2.2"/><line x1="1224.5" y1="500" x2="1224.5" y2="511" stroke="#ffffff" stroke-width="2.2"/><line x1="1580" y1="158.2" x2="1591" y2="158.2" stroke="#1b1f2a" stroke-width="2.2"/><line x1="2058" y1="158.2" x2="2069" y2="158.2" stroke="#1b1f2a" stroke-width="2.2"/><line x1="1580" y1="287" x2="1591" y2="287" stroke="#1b1f2a" stroke-width="2.2"/><line x1="2058" y1="287" x2="2069" y2="287" stroke="#1b1f2a" stroke-width="2.2"/><line x1="1580" y1="416" x2="1591" y2="416" stroke="#ffffff" stroke-width="2.2"/><line x1="2058" y1="416" x2="2069" y2="416" stroke="#ffffff" stroke-width="2.2"/><line x1="1824.5" y1="24" x2="1824.5" y2="35" stroke="#ffffff" stroke-width="2.2"/><line x1="1824.5" y1="501" x2="1824.5" y2="512" stroke="#ffffff" stroke-width="2.2"/><line x1="981" y1="740.6" x2="992" y2="740.6" stroke="#1b1f2a" stroke-width="2.2"/><line x1="1459" y1="740.6" x2="1470" y2="740.6" stroke="#1b1f2a" stroke-width="2.2"/><line x1="981" y1="826.7" x2="992" y2="826.7" stroke="#1b1f2a" stroke-width="2.2"/><line x1="1459" y1="826.7" x2="1470" y2="826.7" stroke="#1b1f2a" stroke-width="2.2"/><line x1="981" y1="913" x2="992" y2="913" stroke="#1b1f2a" stroke-width="2.2"/><line x1="1459" y1="913" x2="1470" y2="913" stroke="#1b1f2a" stroke-width="2.2"/><line x1="981" y1="999.4" x2="992" y2="999.4" stroke="#1b1f2a" stroke-width="2.2"/><line x1="1459" y1="999.4" x2="1470" y2="999.4" stroke="#1b1f2a" stroke-width="2.2"/><line x1="1224.5" y1="612" x2="1224.5" y2="623" stroke="#1b1f2a" stroke-width="2.2"/><line x1="1224.5" y1="1087" x2="1224.5" y2="1098" stroke="#ffffff" stroke-width="2.2"/><line x1="1581" y1="740.6" x2="1592" y2="740.6" stroke="#1b1f2a" stroke-width="2.2"/><line x1="2057" y1="740.6" x2="2068" y2="740.6" stroke="#1b1f2a" stroke-width="2.2"/><line x1="1581" y1="826.7" x2="1592" y2="826.7" stroke="#1b1f2a" stroke-width="2.2"/><line x1="2057" y1="826.7" x2="2068" y2="826.7" stroke="#1b1f2a" stroke-width="2.2"/><line x1="1581" y1="913" x2="1592" y2="913" stroke="#1b1f2a" stroke-width="2.2"/><line x1="2057" y1="913" x2="2068" y2="913" stroke="#1b1f2a" stroke-width="2.2"/><line x1="1581" y1="999.4" x2="1592" y2="999.4" stroke="#1b1f2a" stroke-width="2.2"/><line x1="2057" y1="999.4" x2="2068" y2="999.4" stroke="#1b1f2a" stroke-width="2.2"/><line x1="1825" y1="612" x2="1825" y2="623" stroke="#1b1f2a" stroke-width="2.2"/><line x1="1825" y1="1087" x2="1825" y2="1098" stroke="#1b1f2a" stroke-width="2.2"/><rect x="981" y="24" width="489" height="487" fill="none" stroke="#1c2333" stroke-width="2.2"/><rect x="1580" y="24" width="489" height="488" fill="none" stroke="#1c2333" stroke-width="2.2"/><rect x="981" y="612" width="489" height="486" fill="none" stroke="#2a1414" stroke-width="2.2"/><rect x="1581" y="612" width="487" height="486" fill="none" stroke="#2a1414" stroke-width="2.2"/><rect x="2077" y="25" width="12" height="162" fill="url(#cb1)" stroke="#1a1a1a" stroke-width="2"/><line x1="2077" y1="106.324" x2="2089" y2="106.324" stroke="#1a1a1a" stroke-width="2"/><rect x="2077.5" y="613.5" width="12" height="162" fill="url(#cb2)" stroke="#1a1a1a" stroke-width="2"/><line x1="2077.5" y1="695.472" x2="2089.5" y2="695.472" stroke="#1a1a1a" stroke-width="2"/><text x="964.2" y="83.6" font-family="Liberation Sans, Arial, sans-serif" font-size="29.5" text-anchor="end">1</text><text x="964.2" y="191.2" font-family="Liberation Sans, Arial, sans-serif" font-size="29.5" text-anchor="end">0.5</text><text x="964.2" y="297.8" font-family="Liberation Sans, Arial, sans-serif" font-size="29.5" text-anchor="end">0</text><text x="964.2" y="405.1" font-family="Liberation Sans, Arial, sans-serif" font-size="29.5" text-anchor="end">-0.5</text><text x="1564.4" y="169.6" font-family="Liberation Sans, Arial, sans-serif" font-size="29.5" text-anchor="end">1</text><text x="1564.4" y="298.4" font-family="Liberation Sans, Arial, sans-serif" font-size="29.5" text-anchor="end">0.5</text><text x="1564.4" y="427.4" font-family="Liberation Sans, Arial, sans-serif" font-size="29.5" text-anchor="end">0</text><text x="958.7" y="753.8" font-family="Liberation Sans, Arial, sans-serif" font-size="29.5" text-anchor="end">1.5</text><text x="1564.8" y="753.8" font-family="Liberation Sans, Arial, sans-serif" font-size="29.5" text-anchor="end">1.5</text><text x="958.7" y="839.9" font-family="Liberation Sans, Arial, sans-serif" font-size="29.5" text-anchor="end">1</text><text x="1564.8" y="839.9" font-family="Liberation Sans, Arial, sans-serif" font-size="29.5" text-anchor="end">1</text><text x="958.7" y="926.2" font-family="Liberation Sans, Arial, sans-serif" font-size="29.5" text-anchor="end">0.5</text><text x="1564.8" y="926.2" font-family="Liberation Sans, Arial, sans-serif" font-size="29.5" text-anchor="end">0.5</text><text x="958.7" y="1012.6" font-family="Liberation Sans, Arial, sans-serif" font-size="29.5" text-anchor="end">0</text><text x="1564.8" y="1012.6" font-family="Liberation Sans, Arial, sans-serif" font-size="29.5" text-anchor="end">0</text><text x="981" y="548.2" font-family="Liberation Sans, Arial, sans-serif" font-size="29.5" text-anchor="middle">-1</text><text x="981" y="1135.5" font-family="Liberation Sans, Arial, sans-serif" font-size="29.5" text-anchor="middle">-1</text><text x="1224.5" y="548.2" font-family="Liberation Sans, Arial, sans-serif" font-size="29.5" text-anchor="middle">0</text><text x="1224.5" y="1135.5" font-family="Liberation Sans, Arial, sans-serif" font-size="29.5" text-anchor="middle">0</text><text x="1465" y="548.2" font-family="Liberation Sans, Arial, sans-serif" font-size="29.5" text-anchor="middle">1</text><text x="1465" y="1135.5" font-family="Liberation Sans, Arial, sans-serif" font-size="29.5" text-anchor="middle">1</text><text x="1584" y="548.2" font-family="Liberation Sans, Arial, sans-serif" font-size="29.5" text-anchor="middle">-1</text><text x="1824.5" y="548.2" font-family="Liberation Sans, Arial, sans-serif" font-size="29.5" text-anchor="middle">0</text><text x="2070" y="548.2" font-family="Liberation Sans, Arial, sans-serif" font-size="29.5" text-anchor="middle">1</text><text x="1586.2" y="1135.5" font-family="Liberation Sans, Arial, sans-serif" font-size="29.5" text-anchor="middle">-0.75</text><text x="1825.5" y="1135.5" font-family="Liberation Sans, Arial, sans-serif" font-size="29.5" text-anchor="middle">0</text><text x="2068.5" y="1135.5" font-family="Liberation Sans, Arial, sans-serif" font-size="29.5" text-anchor="middle">0.75</text><text x="1187.5" y="580.7" font-family="Liberation Sans, Arial, sans-serif" font-size="29.5">B<tspan font-family="DejaVu Sans, sans-serif" font-size="13" dy="6">⊥</tspan><tspan dy="-6" dx="-4"> (T)</tspan></text><text x="1789" y="580.7" font-family="Liberation Sans, Arial, sans-serif" font-size="29.5">B<tspan font-size="14" dy="6" textLength="6" lengthAdjust="spacingAndGlyphs">||</tspan><tspan dy="-6"> (T)</tspan></text><text x="1187.5" y="1168.5" font-family="Liberation Sans, Arial, sans-serif" font-size="29.5">B<tspan font-family="DejaVu Sans, sans-serif" font-size="13" dy="6">⊥</tspan><tspan dy="-6" dx="-4"> (T)</tspan></text><text x="1789" y="1164.3" font-family="Liberation Sans, Arial, sans-serif" font-size="29.5">B<tspan font-size="14" dy="6" textLength="6" lengthAdjust="spacingAndGlyphs">||</tspan><tspan dy="-6"> (T)</tspan></text><g transform="translate(907 267) rotate(-90)"><text x="-51.7" y="0" font-family="Liberation Sans, Arial, sans-serif" font-size="30">ε (meV)</text><text x="-53.2" y="-14" font-family="DejaVu Sans, sans-serif" font-size="19">~</text></g><g transform="translate(1511 267) rotate(-90)"><text x="-51.7" y="0" font-family="Liberation Sans, Arial, sans-serif" font-size="30">ε (meV)</text><text x="-53.2" y="-14" font-family="DejaVu Sans, sans-serif" font-size="19">~</text></g><g transform="translate(907 853.5) rotate(-90)"><text x="-51.7" y="0" font-family="Liberation Sans, Arial, sans-serif" font-size="30">ε (meV)</text></g><g transform="translate(1514 854) rotate(-90)"><text x="-51.7" y="0" font-family="Liberation Sans, Arial, sans-serif" font-size="30">ε (meV)</text></g><text transform="translate(2103 271) rotate(-90)" font-family="Liberation Sans, Arial, sans-serif" font-size="28" text-anchor="middle">I (pA)</text><text transform="translate(2103 859) rotate(-90)" font-family="Liberation Sans, Arial, sans-serif" font-size="28" text-anchor="middle">I (pA)</text><text x="2100" y="42" font-family="Liberation Sans, Arial, sans-serif" font-size="29.5">5</text><text x="2100" y="192.3" font-family="Liberation Sans, Arial, sans-serif" font-size="29.5">0</text><text x="2106" y="630" font-family="Liberation Sans, Arial, sans-serif" font-size="29.5">1</text><text x="2099" y="780.5" font-family="Liberation Sans, Arial, sans-serif" font-size="29.5">-6</text><text x="912" y="23.6" font-family="Liberation Sans, Arial, sans-serif" font-size="32" font-weight="bold">b</text><text x="1499.5" y="23.7" font-family="Liberation Sans, Arial, sans-serif" font-size="32" font-weight="bold">c</text><text x="912" y="612.3" font-family="Liberation Sans, Arial, sans-serif" font-size="32" font-weight="bold">d</text><text x="1499.7" y="602.8" font-family="Liberation Sans, Arial, sans-serif" font-size="32" font-weight="bold">e</text></svg></body></html>
